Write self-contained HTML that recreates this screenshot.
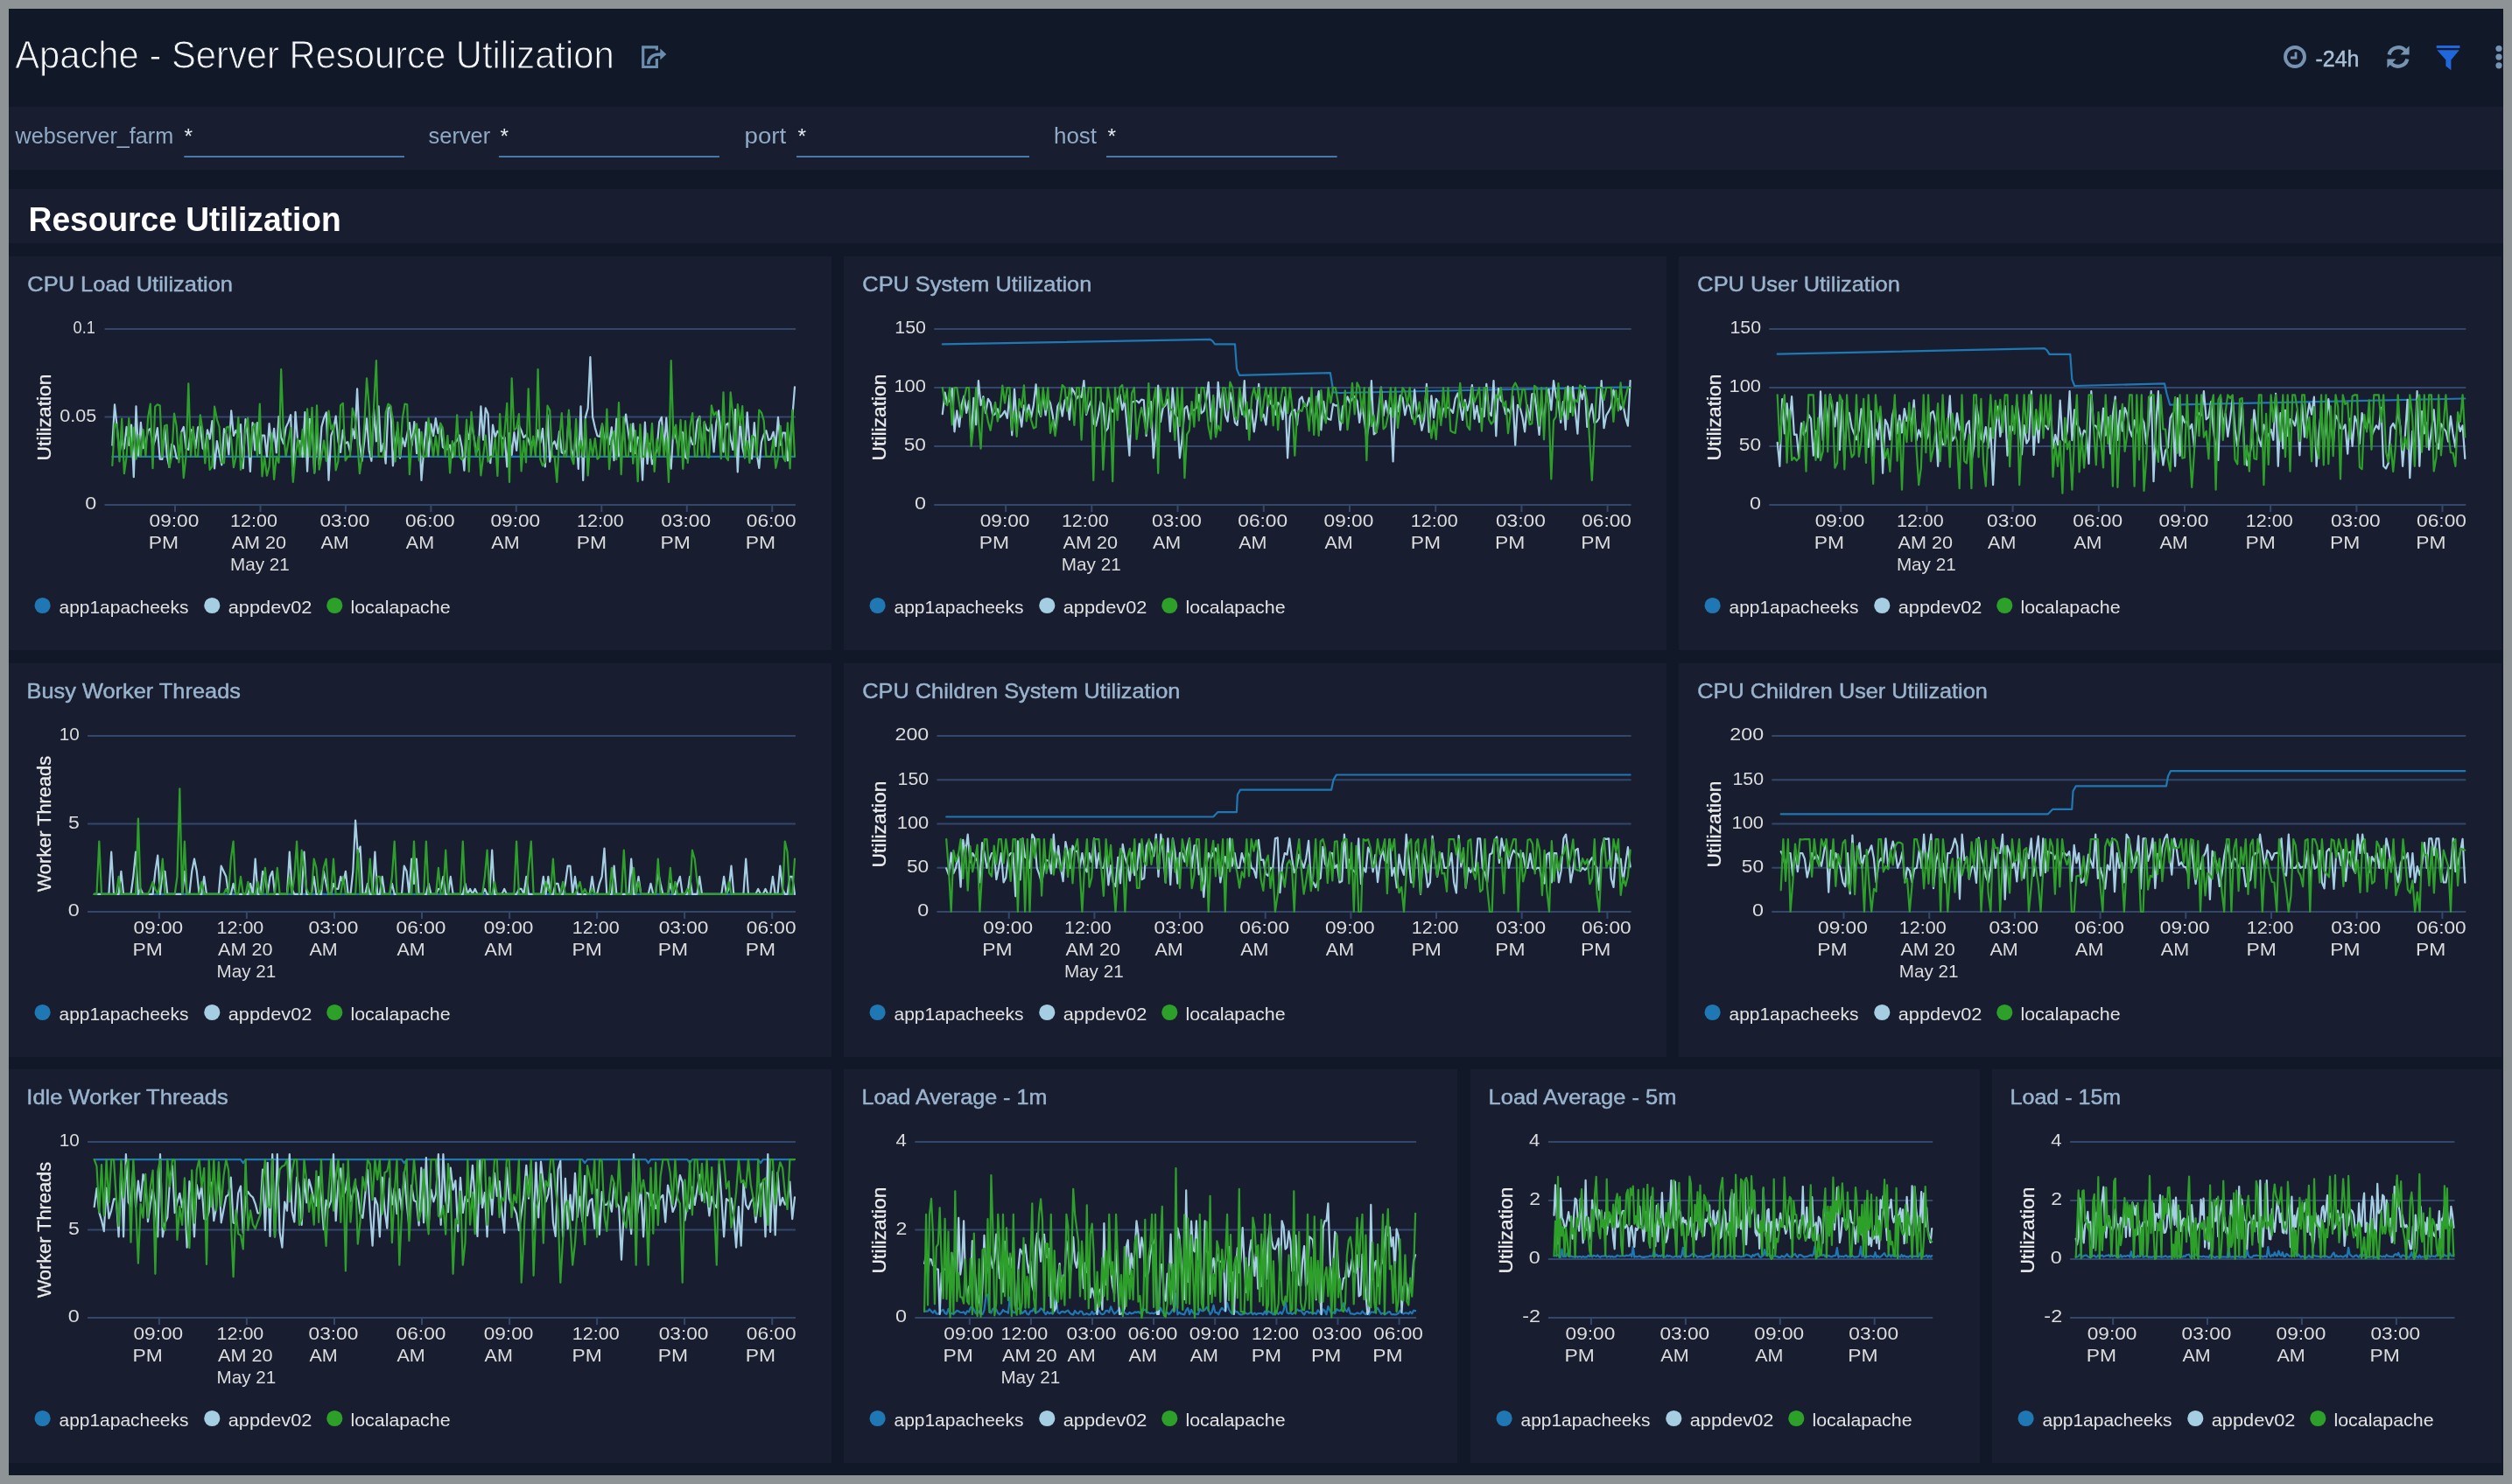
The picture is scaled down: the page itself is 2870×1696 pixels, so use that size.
<!DOCTYPE html>
<html lang="en">
<head>
<meta charset="utf-8">
<title>Apache - Server Resource Utilization</title>
<style>
*{box-sizing:border-box}
html,body{margin:0;padding:0}
body{width:2870px;height:1696px;background:#8e9496;overflow:hidden;font-family:"Liberation Sans",sans-serif;position:relative}
#app{position:absolute;left:10px;top:10px;width:2850px;height:1676px;background:#111827;overflow:hidden}
svg{display:block;overflow:visible;will-change:transform}
svg text{font-family:"Liberation Sans",sans-serif}
header{position:absolute;left:0;top:0;width:2850px;height:112px}
#filters{position:absolute;left:0;top:112px;width:2850px;height:72px;background:#181e30}
#section{position:absolute;left:0;top:206px;width:2850px;height:61.5px;background:#181e30}
.panel{position:absolute;background:#181e30}
.pt{font-size:24.5px;fill:#9ab4ce;stroke:#9ab4ce;stroke-width:.45px}
.tk{font-size:20.7px;fill:#dcdcdc}
.lg{font-size:21px;fill:#e2e2e2}
.yt{font-size:22px;fill:#ececec;stroke:#ececec;stroke-width:.3px}
.fl{font-size:25px;fill:#90aac6}
.fv{font-size:24.5px;fill:#e6ebf1}
</style>
</head>
<body>
<div id="app">
<header>
<svg width="2850" height="112" viewBox="10 10 2850 112">
<text id="ttl" x="17.2" y="78.2" font-size="44.5" fill="#f4f6f9" stroke="#111827" stroke-width="1" textLength="684.6" lengthAdjust="spacingAndGlyphs">Apache - Server Resource Utilization</text>
<g fill="none" stroke="#6b8eaf" stroke-width="3.2">
<path d="M750.4 57.5V53.8H734.7V76.5H750.4V67"/>
<path d="M740.8 73.5C740.8 65.5 746 62 755 62" stroke-width="3.6"/>
</g>
<path d="M754.3 55.6L761.3 62L754.3 68.4Z" fill="#6b8eaf"/>
<g fill="none" stroke="#7693b2" stroke-width="3.4">
<circle cx="2622" cy="65" r="11" stroke-width="3.9"/>
<path d="M2623 59.6V66H2617" stroke-width="2.8"/>
</g>
<text x="2645.5" y="76.2" font-size="25" fill="#a8bfd6" stroke="#a8bfd6" stroke-width=".5" textLength="50">-24h</text>
<g fill="none" stroke="#7693b2" stroke-width="4.2">
<path d="M2729.6 62.5A10.8 10.8 0 0 1 2748.5 58.2"/>
<path d="M2750.4 67.5A10.8 10.8 0 0 1 2731.5 71.8"/>
</g>
<path d="M2752.6 52.5V62.6H2742.5Z" fill="#7693b2"/>
<path d="M2727.4 77.5V67.4H2737.5Z" fill="#7693b2"/>
<path d="M2783.7 52H2810.4V55H2783.7Z M2784.4 57.2H2809.8L2800.4 68.4V80.2L2794.4 75.6V68.6Z" fill="#1e67dc"/>
<g fill="#7693b2"><circle cx="2855" cy="55.5" r="3.6"/><circle cx="2855" cy="65.1" r="3.6"/><circle cx="2855" cy="74.8" r="3.6"/></g>
</svg>
</header>
<div id="filters">
<svg width="2850" height="72" viewBox="10 122 2850 72">
<text class="fl" x="17.6" y="164" textLength="180.6" lengthAdjust="spacingAndGlyphs">webserver_farm</text>
<text class="fv" x="210.6" y="164.4">*</text>
<rect x="210.3" y="178" width="251.7" height="2" fill="#4878a6"/>
<text class="fl" x="489.6" y="164" textLength="70.6" lengthAdjust="spacingAndGlyphs">server</text>
<text class="fv" x="571.4" y="164.4">*</text>
<rect x="569.9" y="178" width="252" height="2" fill="#4878a6"/>
<text class="fl" x="850.6" y="164" textLength="47.6" lengthAdjust="spacingAndGlyphs">port</text>
<text class="fv" x="911.6" y="164.4">*</text>
<rect x="910" y="178" width="266" height="2" fill="#4878a6"/>
<text class="fl" x="1204" y="164" textLength="49" lengthAdjust="spacingAndGlyphs">host</text>
<text class="fv" x="1265.6" y="164.4">*</text>
<rect x="1264" y="178" width="263.6" height="2" fill="#4878a6"/>
</svg>
</div>
<div id="section">
<svg width="2850" height="62" viewBox="10 216 2850 62">
<text x="32.6" y="263.8" font-size="38" font-weight="bold" fill="#ffffff" textLength="357" lengthAdjust="spacingAndGlyphs">Resource Utilization</text>
</svg>
</div>
<section class="panel" style="left:0px;top:283px;width:940px;height:450px">
<svg width="940" height="450" viewBox="0 0 940 450">
<text class="pt" x="21.33" y="40.2" textLength="234.67" lengthAdjust="spacingAndGlyphs">CPU Load Utilization</text>
<line x1="109.5" x2="899" y1="83" y2="83" stroke="#33476a" stroke-width="2"/>
<text class="tk" x="73.57" y="88.3" textLength="25.35" lengthAdjust="spacingAndGlyphs">0.1</text>
<line x1="109.5" x2="899" y1="183.5" y2="183.5" stroke="#33476a" stroke-width="2"/>
<text class="tk" x="58.34" y="188.8" textLength="41.95" lengthAdjust="spacingAndGlyphs">0.05</text>
<line x1="109.5" x2="899" y1="284" y2="284" stroke="#33476a" stroke-width="2"/>
<text class="tk" x="87.27" y="289.3" textLength="12.98" lengthAdjust="spacingAndGlyphs">0</text>
<text class="yt" transform="translate(47.6 183.5) rotate(-90)" x="-49.91" y="0" textLength="98.79" lengthAdjust="spacingAndGlyphs">Utilization</text>
<line x1="190" x2="190" y1="284" y2="292" stroke="#33476a" stroke-width="2"/>
<text class="tk" x="160.59" y="308.6" textLength="56.76" lengthAdjust="spacingAndGlyphs">09:00</text>
<text class="tk" x="159.67" y="333.7" textLength="34.27" lengthAdjust="spacingAndGlyphs">PM</text>
<line x1="287.5" x2="287.5" y1="284" y2="292" stroke="#33476a" stroke-width="2"/>
<text class="tk" x="253.05" y="308.6" textLength="53.82" lengthAdjust="spacingAndGlyphs">12:00</text>
<text class="tk" x="254.66" y="333.7" textLength="62.46" lengthAdjust="spacingAndGlyphs">AM 20</text>
<text class="tk" x="253.01" y="358.8" textLength="67.77" lengthAdjust="spacingAndGlyphs">May 21</text>
<line x1="384.9" x2="384.9" y1="284" y2="292" stroke="#33476a" stroke-width="2"/>
<text class="tk" x="355.51" y="308.6" textLength="56.76" lengthAdjust="spacingAndGlyphs">03:00</text>
<text class="tk" x="356.42" y="333.7" textLength="32.23" lengthAdjust="spacingAndGlyphs">AM</text>
<line x1="482.4" x2="482.4" y1="284" y2="292" stroke="#33476a" stroke-width="2"/>
<text class="tk" x="452.97" y="308.6" textLength="56.76" lengthAdjust="spacingAndGlyphs">06:00</text>
<text class="tk" x="453.88" y="333.7" textLength="32.23" lengthAdjust="spacingAndGlyphs">AM</text>
<line x1="579.8" x2="579.8" y1="284" y2="292" stroke="#33476a" stroke-width="2"/>
<text class="tk" x="550.43" y="308.6" textLength="56.76" lengthAdjust="spacingAndGlyphs">09:00</text>
<text class="tk" x="551.34" y="333.7" textLength="32.23" lengthAdjust="spacingAndGlyphs">AM</text>
<line x1="677.3" x2="677.3" y1="284" y2="292" stroke="#33476a" stroke-width="2"/>
<text class="tk" x="648.99" y="308.6" textLength="53.82" lengthAdjust="spacingAndGlyphs">12:00</text>
<text class="tk" x="648.77" y="333.7" textLength="34.27" lengthAdjust="spacingAndGlyphs">PM</text>
<line x1="774.8" x2="774.8" y1="284" y2="292" stroke="#33476a" stroke-width="2"/>
<text class="tk" x="745.35" y="308.6" textLength="56.76" lengthAdjust="spacingAndGlyphs">03:00</text>
<text class="tk" x="744.43" y="333.7" textLength="34.27" lengthAdjust="spacingAndGlyphs">PM</text>
<line x1="872.2" x2="872.2" y1="284" y2="292" stroke="#33476a" stroke-width="2"/>
<text class="tk" x="842.81" y="308.6" textLength="56.76" lengthAdjust="spacingAndGlyphs">06:00</text>
<text class="tk" x="841.89" y="333.7" textLength="34.27" lengthAdjust="spacingAndGlyphs">PM</text>
<polyline fill="none" stroke="#1f78b4" stroke-width="2.2" stroke-linejoin="round" stroke-linecap="round" points="118.3,228.9 121,228.9 123.8,228.9 126.5,228.9 129.2,228.9 131.9,228.9 134.6,228.9 137.3,228.9 140.1,228.9 142.8,228.9 145.5,228.9 148.2,228.9 150.9,228.9 153.6,228.9 156.4,228.9 159.1,228.9 161.8,228.9 164.5,228.9 167.2,228.9 169.9,228.9 172.7,228.9 175.4,228.9 178.1,228.9 180.8,228.9 183.5,228.9 186.2,228.9 189,228.9 191.7,228.9 194.4,228.9 197.1,228.9 199.8,228.9 202.5,228.9 205.3,228.9 208,228.9 210.7,228.9 213.4,228.9 216.1,228.9 218.8,228.9 221.6,228.9 224.3,228.9 227,228.9 229.7,228.9 232.4,228.9 235.1,228.9 237.9,228.9 240.6,228.9 243.3,228.9 246,228.9 248.7,228.9 251.4,228.9 254.2,228.9 256.9,228.9 259.6,228.9 262.3,228.9 265,228.9 267.7,228.9 270.5,228.9 273.2,228.9 275.9,228.9 278.6,228.9 281.3,228.9 284,228.9 286.8,228.9 289.5,228.9 292.2,228.9 294.9,228.9 297.6,228.9 300.3,228.9 303.1,228.9 305.8,228.9 308.5,228.9 311.2,228.9 313.9,228.9 316.6,228.9 319.4,228.9 322.1,228.9 324.8,228.9 327.5,228.9 330.2,228.9 332.9,228.9 335.7,228.9 338.4,228.9 341.1,228.9 343.8,228.9 346.5,228.9 349.2,228.9 352,228.9 354.7,228.9 357.4,228.9 360.1,228.9 362.8,228.9 365.5,228.9 368.3,228.9 371,228.9 373.7,228.9 376.4,228.9 379.1,228.9 381.8,228.9 384.6,228.9 387.3,228.9 390,228.9 392.7,228.9 395.4,228.9 398.1,228.9 400.9,228.9 403.6,228.9 406.3,228.9 409,228.9 411.7,228.9 414.4,228.9 417.2,228.9 419.9,228.9 422.6,228.9 425.3,228.9 428,228.9 430.7,228.9 433.5,228.9 436.2,228.9 438.9,228.9 441.6,228.9 444.3,228.9 447,228.9 449.8,228.9 452.5,228.9 455.2,228.9 457.9,228.9 460.6,228.9 463.3,228.9 466.1,228.9 468.8,228.9 471.5,228.9 474.2,228.9 476.9,228.9 479.6,228.9 482.4,228.9 485.1,228.9 487.8,228.9 490.5,228.9 493.2,228.9 495.9,228.9 498.7,228.9 501.4,228.9 504.1,228.9 506.8,228.9 509.5,228.9 512.2,228.9 515,228.9 517.7,228.9 520.4,228.9 523.1,228.9 525.8,228.9 528.5,228.9 531.3,228.9 534,228.9 536.7,228.9 539.4,228.9 542.1,228.9 544.8,228.9 547.6,228.9 550.3,228.9 553,228.9 555.7,228.9 558.4,228.9 561.1,228.9 563.9,228.9 566.6,228.9 569.3,228.9 572,228.9 574.7,228.9 577.4,228.9 580.2,228.9 582.9,228.9 585.6,228.9 588.3,228.9 591,228.9 593.7,228.9 596.5,228.9 599.2,228.9 601.9,228.9 604.6,228.9 607.3,228.9 610,228.9 612.8,228.9 615.5,228.9 618.2,228.9 620.9,228.9 623.6,228.9 626.3,228.9 629.1,228.9 631.8,228.9 634.5,228.9 637.2,228.9 639.9,228.9 642.6,228.9 645.4,228.9 648.1,228.9 650.8,228.9 653.5,228.9 656.2,228.9 658.9,228.9 661.7,228.9 664.4,228.9 667.1,228.9 669.8,228.9 672.5,228.9 675.2,228.9 678,228.9 680.7,228.9 683.4,228.9 686.1,228.9 688.8,228.9 691.5,228.9 694.3,228.9 697,228.9 699.7,228.9 702.4,228.9 705.1,228.9 707.8,228.9 710.6,228.9 713.3,228.9 716,228.9 718.7,228.9 721.4,228.9 724.1,228.9 726.9,228.9 729.6,228.9 732.3,228.9 735,228.9 737.7,228.9 740.4,228.9 743.2,228.9 745.9,228.9 748.6,228.9 751.3,228.9 754,228.9 756.7,228.9 759.5,228.9 762.2,228.9 764.9,228.9 767.6,228.9 770.3,228.9 773,228.9 775.8,228.9 778.5,228.9 781.2,228.9 783.9,228.9 786.6,228.9 789.3,228.9 792.1,228.9 794.8,228.9 797.5,228.9 800.2,228.9 802.9,228.9 805.6,228.9 808.4,228.9 811.1,228.9 813.8,228.9 816.5,228.9 819.2,228.9 821.9,228.9 824.7,228.9 827.4,228.9 830.1,228.9 832.8,228.9 835.5,228.9 838.2,228.9 841,228.9 843.7,228.9 846.4,228.9 849.1,228.9 851.8,228.9 854.5,228.9 857.3,228.9 860,228.9 862.7,228.9 865.4,228.9 868.1,228.9 870.8,228.9 873.6,228.9 876.3,228.9 879,228.9 881.7,228.9 884.4,228.9 887.1,228.9 889.9,228.9 892.6,228.9 895.3,228.9 898,228.9"/>
<polyline fill="none" stroke="#a6cee3" stroke-width="2.2" stroke-linejoin="round" stroke-linecap="round" points="118.3,215.6 121,169.4 123.8,195.6 126.5,224.6 129.2,210.3 131.9,219.8 134.6,194.8 137.3,215.9 140.1,192.7 142.8,252.1 145.5,171.4 148.2,227.6 150.9,189.9 153.6,219.2 156.4,213.8 159.1,199 161.8,197 164.5,218 167.2,209.7 169.9,196 172.7,231.6 175.4,231.9 178.1,194 180.8,228.3 183.5,241 186.2,214.7 189,217.1 191.7,230.6 194.4,231.8 197.1,201.1 199.8,194.9 202.5,219.4 205.3,220.9 208,198.1 210.7,199.5 213.4,219.1 216.1,195.5 218.8,193.9 221.6,219.2 224.3,222.4 227,198.3 229.7,208.7 232.4,188.2 235.1,242.5 237.9,211.2 240.6,225.7 243.3,238.3 246,197.1 248.7,203.6 251.4,226.4 254.2,176.4 256.9,205 259.6,198.8 262.3,205.5 265,192.2 267.7,242.1 270.5,186.1 273.2,205.9 275.9,245.9 278.6,190.1 281.3,221.4 284,190.1 286.8,225.2 289.5,204.6 292.2,204.6 294.9,228.7 297.6,191.1 300.3,218.2 303.1,196.9 305.8,224.4 308.5,183 311.2,207 313.9,214.1 316.6,195.6 319.4,189.6 322.1,181.2 324.8,250.7 327.5,177.8 330.2,211.6 332.9,210.8 335.7,229.1 338.4,178 341.1,245.7 343.8,185.8 346.5,192.2 349.2,247.3 352,202.4 354.7,238 357.4,194.9 360.1,184.9 362.8,178.3 365.5,255.8 368.3,204.9 371,197.4 373.7,182.7 376.4,210.7 379.1,224 381.8,198.7 384.6,213.8 387.3,212.2 390,223.2 392.7,197.2 395.4,207.9 398.1,151.3 400.9,213.2 403.6,233.8 406.3,210.8 409,185.4 411.7,221.9 414.4,233.8 417.2,174.8 419.9,211.3 422.6,171.4 425.3,223.2 428,214 430.7,236.7 433.5,174 436.2,171.4 438.9,239.3 441.6,212 444.3,197 447,230.5 449.8,207.7 452.5,217.2 455.2,203.2 457.9,190.2 460.6,216 463.3,189.2 466.1,225.1 468.8,197.7 471.5,255.9 474.2,222 476.9,189.5 479.6,228.3 482.4,191.6 485.1,205.2 487.8,185 490.5,202.2 493.2,192.1 495.9,218 498.7,220.5 501.4,220.3 504.1,215.6 506.8,229.9 509.5,213.4 512.2,210.2 515,204.5 517.7,218.1 520.4,244.7 523.1,198.8 525.8,209 528.5,188.4 531.3,205.6 534,223.8 536.7,219 539.4,171.4 542.1,209.7 544.8,173.4 547.6,180.2 550.3,236.1 553,192.7 555.7,206.5 558.4,199.7 561.1,202.4 563.9,208.2 566.6,206.7 569.3,240.4 572,202.1 574.7,227 577.4,201 580.2,221.9 582.9,193.1 585.6,199.2 588.3,207.2 591,204.2 593.7,209.7 596.5,218.5 599.2,209.8 601.9,219.4 604.6,198.5 607.3,213.2 610,196.9 612.8,240.4 615.5,181.3 618.2,234.6 620.9,215.4 623.6,211.5 626.3,220.1 629.1,200.2 631.8,224.3 634.5,225.6 637.2,220.7 639.9,179.8 642.6,219.2 645.4,229.4 648.1,202.6 650.8,242.9 653.5,171.4 656.2,255.9 658.9,183.9 661.7,173.5 664.4,115.2 667.1,183.5 669.8,195.6 672.5,205.3 675.2,206 678,192.1 680.7,212.6 683.4,201.9 686.1,214.8 688.8,195.3 691.5,233.2 694.3,185.7 697,228 699.7,224.8 702.4,197.1 705.1,180.5 707.8,200.8 710.6,222.9 713.3,191.2 716,225.1 718.7,206.7 721.4,208.9 724.1,255.7 726.9,189.7 729.6,237 732.3,213.9 735,237.3 737.7,229.9 740.4,221.2 743.2,189.3 745.9,183.8 748.6,219.2 751.3,184.7 754,223.6 756.7,242.6 759.5,195.1 762.2,205.9 764.9,219.4 767.6,200.2 770.3,201.6 773,229.5 775.8,231.9 778.5,206.2 781.2,215 783.9,214.7 786.6,188.3 789.3,183 792.1,227.2 794.8,189.7 797.5,198 800.2,199.6 802.9,192.4 805.6,223.3 808.4,190.2 811.1,176.4 813.8,205.4 816.5,223.4 819.2,192.8 821.9,190.6 824.7,209 827.4,221 830.1,175.1 832.8,246.4 835.5,186.8 838.2,217.9 841,230.3 843.7,178.3 846.4,213.7 849.1,231.3 851.8,190.2 854.5,225 857.3,241.9 860,212 862.7,203.6 865.4,199.2 868.1,210 870.8,208.6 873.6,200.7 876.3,216.9 879,183.8 881.7,215.7 884.4,201.7 887.1,201.7 889.9,233.3 892.6,215.4 895.3,183.5 898,149.3"/>
<polyline fill="none" stroke="#2da02a" stroke-width="2.2" stroke-linejoin="round" stroke-linecap="round" points="118.3,239 121,191.3 123.8,192.7 126.5,234.5 129.2,185.5 131.9,248.2 134.6,228.9 137.3,185.2 140.1,228.9 142.8,195.5 145.5,231.6 148.2,204.3 150.9,228.9 153.6,198.2 156.4,228.9 159.1,184 161.8,168.6 164.5,242.1 167.2,171.7 169.9,169.3 172.7,170.4 175.4,228.9 178.1,193.8 180.8,192.6 183.5,240.9 186.2,228.9 189,179.5 191.7,194.1 194.4,235.5 197.1,201.4 199.8,253.2 202.5,228.9 205.3,145.3 208,228.9 210.7,194.9 213.4,228.9 216.1,228.9 218.8,181.4 221.6,199.2 224.3,236.5 227,204.6 229.7,243.9 232.4,240.2 235.1,171.7 237.9,186.2 240.6,195 243.3,235.5 246,236.3 248.7,195.6 251.4,194.6 254.2,208.6 256.9,241.2 259.6,228.9 262.3,183.8 265,243.8 267.7,228.9 270.5,197.9 273.2,184.7 275.9,228.9 278.6,195.6 281.3,191.5 284,228.9 286.8,168.7 289.5,251.3 292.2,228.9 294.9,250.7 297.6,240.3 300.3,202.3 303.1,254.8 305.8,228.9 308.5,235.8 311.2,129.2 313.9,202.3 316.6,228.9 319.4,212 322.1,196.2 324.8,257.9 327.5,228.9 330.2,208.3 332.9,228.9 335.7,197.8 338.4,228.9 341.1,174.4 343.8,228.9 346.5,172.8 349.2,247.7 352,170.3 354.7,243.6 357.4,228.9 360.1,210.7 362.8,233.8 365.5,176.5 368.3,197.5 371,192.1 373.7,244.4 376.4,234.3 379.1,170.2 381.8,167.8 384.6,233.3 387.3,228.9 390,228.9 392.7,173.7 395.4,184.2 398.1,208.8 400.9,248.1 403.6,228.9 406.3,192.1 409,139.3 411.7,172.1 414.4,228.9 417.2,169.6 419.9,119.2 422.6,228.9 425.3,228.9 428,228.9 430.7,178.5 433.5,168.5 436.2,170.6 438.9,187.3 441.6,234.5 444.3,189.7 447,228.9 449.8,185.3 452.5,168.6 455.2,169.3 457.9,249.2 460.6,210 463.3,203.5 466.1,191.4 468.8,233.3 471.5,200.8 474.2,228.9 476.9,228.9 479.6,184.8 482.4,207.5 485.1,228.9 487.8,205.3 490.5,228.9 493.2,190.7 495.9,196 498.7,228.9 501.4,204.9 504.1,247.5 506.8,211.2 509.5,228.9 512.2,181.3 515,228.9 517.7,232.4 520.4,228.9 523.1,186.7 525.8,245.9 528.5,177.8 531.3,206.7 534,228.9 536.7,205.6 539.4,250.3 542.1,228.9 544.8,204.7 547.6,234.6 550.3,228.9 553,228.9 555.7,207.7 558.4,251 561.1,180 563.9,228.9 566.6,199.8 569.3,167.9 572,257.9 574.7,139.3 577.4,198.7 580.2,196 582.9,180.1 585.6,245.4 588.3,210.5 591,235.5 593.7,151.3 596.5,228.9 599.2,205.5 601.9,228.9 604.6,129.2 607.3,231.8 610,239.3 612.8,234.8 615.5,170.7 618.2,175.9 620.9,228.9 623.6,228.9 626.3,257.9 629.1,209.3 631.8,179.2 634.5,228.9 637.2,228.9 639.9,175.6 642.6,228.9 645.4,237.3 648.1,185.9 650.8,228.9 653.5,210.8 656.2,228.9 658.9,186 661.7,250.5 664.4,209.2 667.1,228.9 669.8,208 672.5,231.6 675.2,228.9 678,191.1 680.7,228.9 683.4,174.7 686.1,243.2 688.8,210.5 691.5,200 694.3,232.2 697,167 699.7,249.1 702.4,183.8 705.1,228.9 707.8,228.9 710.6,191.9 713.3,236.6 716,199.1 718.7,257.1 721.4,192.1 724.1,228.9 726.9,228.9 729.6,202.6 732.3,228.9 735,190.9 737.7,246 740.4,208.6 743.2,228.9 745.9,193.7 748.6,228.9 751.3,207.8 754,257.9 756.7,119.2 759.5,208.6 762.2,192.7 764.9,228.9 767.6,186.8 770.3,242.8 773,188 775.8,236 778.5,194 781.2,179.1 783.9,228.9 786.6,228.9 789.3,183.7 792.1,228.9 794.8,188.8 797.5,228.9 800.2,229.7 802.9,170.4 805.6,181.5 808.4,177.9 811.1,193.1 813.8,231.1 816.5,155.4 819.2,228.9 821.9,233 824.7,155.4 827.4,181.8 830.1,228.9 832.8,169.2 835.5,193 838.2,171.1 841,230.3 843.7,210.8 846.4,235.9 849.1,205 851.8,206.9 854.5,228.9 857.3,175.5 860,178.6 862.7,187.7 865.4,228.9 868.1,228.9 870.8,228.9 873.6,208.2 876.3,241.8 879,228.9 881.7,193.9 884.4,228.9 887.1,234.1 889.9,190.3 892.6,242.5 895.3,175.5 898,228.9"/>
<circle cx="38.6" cy="399" r="9.1" fill="#1f78b4"/>
<text class="lg" x="57.56" y="408.3" textLength="147.81" lengthAdjust="spacingAndGlyphs">app1apacheeks</text>
<circle cx="232.3" cy="399" r="9.1" fill="#a6cee3"/>
<text class="lg" x="250.73" y="408.3" textLength="95.63" lengthAdjust="spacingAndGlyphs">appdev02</text>
<circle cx="372.3" cy="399" r="9.1" fill="#2da02a"/>
<text class="lg" x="390.41" y="408.3" textLength="114.2" lengthAdjust="spacingAndGlyphs">localapache</text>
</svg></section>
<section class="panel" style="left:953.5px;top:283px;width:940px;height:450px">
<svg width="940" height="450" viewBox="0 0 940 450">
<text class="pt" x="21.33" y="40.2" textLength="261.94" lengthAdjust="spacingAndGlyphs">CPU System Utilization</text>
<line x1="103.2" x2="899.6" y1="83" y2="83" stroke="#33476a" stroke-width="2"/>
<text class="tk" x="58.3" y="88.3" textLength="35.62" lengthAdjust="spacingAndGlyphs">150</text>
<line x1="103.2" x2="899.6" y1="150" y2="150" stroke="#33476a" stroke-width="2"/>
<text class="tk" x="57.46" y="155.3" textLength="36.48" lengthAdjust="spacingAndGlyphs">100</text>
<line x1="103.2" x2="899.6" y1="217" y2="217" stroke="#33476a" stroke-width="2"/>
<text class="tk" x="68.69" y="222.3" textLength="25.26" lengthAdjust="spacingAndGlyphs">50</text>
<line x1="103.2" x2="899.6" y1="284" y2="284" stroke="#33476a" stroke-width="2"/>
<text class="tk" x="80.97" y="289.3" textLength="12.98" lengthAdjust="spacingAndGlyphs">0</text>
<text class="yt" transform="translate(47.6 183.5) rotate(-90)" x="-49.91" y="0" textLength="98.79" lengthAdjust="spacingAndGlyphs">Utilization</text>
<line x1="185.1" x2="185.1" y1="284" y2="292" stroke="#33476a" stroke-width="2"/>
<text class="tk" x="155.69" y="308.6" textLength="56.76" lengthAdjust="spacingAndGlyphs">09:00</text>
<text class="tk" x="154.77" y="333.7" textLength="34.27" lengthAdjust="spacingAndGlyphs">PM</text>
<line x1="283.3" x2="283.3" y1="284" y2="292" stroke="#33476a" stroke-width="2"/>
<text class="tk" x="248.91" y="308.6" textLength="53.82" lengthAdjust="spacingAndGlyphs">12:00</text>
<text class="tk" x="250.52" y="333.7" textLength="62.46" lengthAdjust="spacingAndGlyphs">AM 20</text>
<text class="tk" x="248.87" y="358.8" textLength="67.77" lengthAdjust="spacingAndGlyphs">May 21</text>
<line x1="381.5" x2="381.5" y1="284" y2="292" stroke="#33476a" stroke-width="2"/>
<text class="tk" x="352.13" y="308.6" textLength="56.76" lengthAdjust="spacingAndGlyphs">03:00</text>
<text class="tk" x="353.04" y="333.7" textLength="32.23" lengthAdjust="spacingAndGlyphs">AM</text>
<line x1="479.8" x2="479.8" y1="284" y2="292" stroke="#33476a" stroke-width="2"/>
<text class="tk" x="450.35" y="308.6" textLength="56.76" lengthAdjust="spacingAndGlyphs">06:00</text>
<text class="tk" x="451.26" y="333.7" textLength="32.23" lengthAdjust="spacingAndGlyphs">AM</text>
<line x1="578" x2="578" y1="284" y2="292" stroke="#33476a" stroke-width="2"/>
<text class="tk" x="548.57" y="308.6" textLength="56.76" lengthAdjust="spacingAndGlyphs">09:00</text>
<text class="tk" x="549.48" y="333.7" textLength="32.23" lengthAdjust="spacingAndGlyphs">AM</text>
<line x1="676.2" x2="676.2" y1="284" y2="292" stroke="#33476a" stroke-width="2"/>
<text class="tk" x="647.89" y="308.6" textLength="53.82" lengthAdjust="spacingAndGlyphs">12:00</text>
<text class="tk" x="647.67" y="333.7" textLength="34.27" lengthAdjust="spacingAndGlyphs">PM</text>
<line x1="774.4" x2="774.4" y1="284" y2="292" stroke="#33476a" stroke-width="2"/>
<text class="tk" x="745.01" y="308.6" textLength="56.76" lengthAdjust="spacingAndGlyphs">03:00</text>
<text class="tk" x="744.09" y="333.7" textLength="34.27" lengthAdjust="spacingAndGlyphs">PM</text>
<line x1="872.6" x2="872.6" y1="284" y2="292" stroke="#33476a" stroke-width="2"/>
<text class="tk" x="843.23" y="308.6" textLength="56.76" lengthAdjust="spacingAndGlyphs">06:00</text>
<text class="tk" x="842.31" y="333.7" textLength="34.27" lengthAdjust="spacingAndGlyphs">PM</text>
<polyline fill="none" stroke="#1f78b4" stroke-width="2.2" stroke-linejoin="round" stroke-linecap="round" points="112.8,100.4 418.3,94.8 421,96.4 424.1,100.4 447,100.4 449,128.6 452,135.9 555.9,133.2 559.5,155.4 566.5,156 898.6,149.3"/>
<polyline fill="none" stroke="#a6cee3" stroke-width="2.2" stroke-linejoin="round" stroke-linecap="round" points="112.8,180.1 115.6,155.6 118.3,167.8 121.1,164.4 123.8,151.2 126.5,200.3 129.3,176.3 132,194.6 134.7,169.7 137.5,159.5 140.2,178.9 143,164.8 145.7,207.5 148.4,161.8 151.2,192.3 153.9,142 156.6,170.1 159.4,160.2 162.1,179.2 164.9,162.8 167.6,167 170.3,181.8 173.1,179.8 175.8,174.3 178.5,183.8 181.3,180.7 184,176.7 186.8,185 189.5,158.6 192.2,204.3 195,151.9 197.7,190.8 200.5,177.8 203.2,194.6 205.9,170.3 208.7,179.2 211.4,169.5 214.1,184 216.9,169.7 219.6,146.4 222.4,175.9 225.1,182.8 227.8,156.3 230.6,181.5 233.3,162.4 236,167.8 238.8,182.3 241.5,202.5 244.3,171.2 247,166.2 249.7,182.6 252.5,164.6 255.2,161.3 257.9,186.7 260.7,150.7 263.4,155.2 266.2,162.5 268.9,159 271.6,161.1 274.4,142 277.1,180.8 279.8,172.1 282.6,165.1 285.3,191.3 288.1,193.8 290.8,182.3 293.5,165.7 296.3,169.1 299,200.2 301.8,196.4 304.5,172.5 307.2,177.6 310,173.9 312.7,163.5 315.4,157.7 318.2,175.4 320.9,164 323.7,194.7 326.4,227.7 329.1,166.6 331.9,165.8 334.6,165 337.3,167.4 340.1,163.6 342.8,164.3 345.6,205.1 348.3,176.6 351,166.1 353.8,230.4 356.5,200.4 359.2,147.5 362,189.1 364.7,173.3 367.5,170 370.2,163.4 372.9,200.2 375.7,150.5 378.4,180 381.1,184.7 383.9,230.4 386.6,208.7 389.4,174.1 392.1,171.2 394.8,186.3 397.6,175.7 400.3,176 403.1,172.8 405.8,158.2 408.5,179.3 411.3,176.7 414,164.7 416.7,143.8 419.5,188.7 422.2,161.5 425,203.1 427.7,143.9 430.4,172.6 433.2,153.3 435.9,181.3 438.6,188.6 441.4,155.6 444.1,167.6 446.9,189.9 449.6,192.9 452.3,161.3 455.1,180.7 457.8,142 460.5,197 463.3,175.7 466,175.4 468.8,200.3 471.5,180.5 474.2,145.9 477,184.7 479.7,180.7 482.4,192.5 485.2,159.3 487.9,168 490.7,171.8 493.4,181 496.1,167.2 498.9,170.1 501.6,186.2 504.4,160.6 507.1,230.4 509.8,183.4 512.6,176.2 515.3,175.2 518,192.4 520.8,163.4 523.5,160.5 526.3,171 529,171.5 531.7,161.7 534.5,171.4 537.2,193.2 539.9,171.6 542.7,154.2 545.4,198.3 548.2,165.9 550.9,182.8 553.6,185.9 556.4,186.8 559.1,168.7 561.8,170.7 564.6,170.2 567.3,198.4 570.1,171.4 572.8,169.4 575.5,160.4 578.3,167.5 581,162.8 583.7,160 586.5,165.2 589.2,189.8 592,168.5 594.7,187.2 597.4,208.2 600.2,190.7 602.9,142 605.7,203.5 608.4,201.1 611.1,175.4 613.9,149.5 616.6,182.2 619.3,165.2 622.1,181.1 624.8,173.3 627.6,234.4 630.3,167.4 633,177.5 635.8,158.9 638.5,161.5 641.2,181.4 644,167.6 646.7,172 649.5,185.4 652.2,152.3 654.9,183.3 657.7,181.3 660.4,198.8 663.1,186.9 665.9,145.9 668.6,200.8 671.4,159.3 674.1,184.4 676.8,162.9 679.6,167.9 682.3,188.4 685,174.5 687.8,172.4 690.5,172.8 693.3,175 696,178.9 698.7,162.6 701.5,156.5 704.2,170.8 707,187 709.7,163.9 712.4,176.2 715.2,166.1 717.9,147 720.6,185.7 723.4,170.8 726.1,189.3 728.9,174.2 731.6,183.2 734.3,145.8 737.1,177.7 739.8,182.2 742.5,142 745.3,205.3 748,151 750.8,164.8 753.5,167.7 756.2,180.2 759,174.4 761.7,179.5 764.4,159.9 767.2,215.6 769.9,169.8 772.7,173 775.4,183.8 778.1,200.3 780.9,170.2 783.6,187.4 786.3,157.4 789.1,156.8 791.8,178.2 794.6,203.8 797.3,168.4 800,190.6 802.8,158.3 805.5,151.8 808.3,175.7 811,142 813.7,159.8 816.5,167.3 819.2,189.9 821.9,166 824.7,197.9 827.4,148.6 830.2,178 832.9,149 835.6,174.9 838.4,202.7 841.1,153 843.8,163.3 846.6,148.5 849.3,195 852.1,180.2 854.8,168.9 857.5,190.2 860.3,189 863,184.9 865.7,142 868.5,196.2 871.2,181.7 874,177.1 876.7,171.4 879.4,152.6 882.2,163.8 884.9,163 887.6,175.1 890.4,169.7 893.1,184 895.9,193.6 898.6,142"/>
<polyline fill="none" stroke="#2da02a" stroke-width="2.2" stroke-linejoin="round" stroke-linecap="round" points="112.8,150 115.6,167.5 118.3,170.3 121.1,150 123.8,192.5 126.5,150 129.3,150 132,168.2 134.7,183.6 137.5,163.1 140.2,150 143,150 145.7,217 148.4,193 151.2,150 153.9,187.2 156.6,219.7 159.4,162.1 162.1,174 164.9,188.9 167.6,198.8 170.3,181.6 173.1,166.8 175.8,188.5 178.5,176.6 181.3,147.7 184,167.7 186.8,150 189.5,150 192.2,198.7 195,177.1 197.7,205.8 200.5,163.2 203.2,172.5 205.9,147.4 208.7,188.5 211.4,176.3 214.1,187.3 216.9,196.5 219.6,195.1 222.4,150 225.1,182 227.8,150 230.6,175.1 233.3,150 236,201.9 238.8,187.2 241.5,205.1 244.3,186.3 247,166.6 249.7,147 252.5,150 255.2,176.6 257.9,150 260.7,163.6 263.4,192.9 266.2,150 268.9,150 271.6,209.6 274.4,150 277.1,179.7 279.8,150 282.6,150 285.3,255.9 288.1,150 290.8,150 293.5,150 296.3,243.8 299,196.1 301.8,150 304.5,167.3 307.2,257.2 310,150 312.7,187.2 315.4,150 318.2,147.1 320.9,166.7 323.7,151.2 326.4,203.2 329.1,156.4 331.9,150 334.6,208.9 337.3,186.6 340.1,172.9 342.8,184.1 345.6,202.7 348.3,145.2 351,196 353.8,165.4 356.5,150 359.2,247.8 362,151.7 364.7,172.1 367.5,167.9 370.2,150 372.9,174.1 375.7,176 378.4,210 381.1,150 383.9,194 386.6,150 389.4,253.2 392.1,203.6 394.8,198.9 397.6,166 400.3,194.7 403.1,150 405.8,187.6 408.5,150 411.3,150 414,167 416.7,195 419.5,208.6 422.2,158.9 425,206.4 427.7,193.5 430.4,199.1 433.2,150 435.9,150.5 438.6,176.5 441.4,143.7 444.1,150 446.9,183 449.6,186.5 452.3,150 455.1,171.5 457.8,183.3 460.5,166.8 463.3,209.7 466,161.8 468.8,150 471.5,163.2 474.2,150 477,187.6 479.7,166.3 482.4,150 485.2,171.1 487.9,150 490.7,193.3 493.4,150 496.1,198.5 498.9,165.9 501.6,150 504.4,150 507.1,179.2 509.8,150 512.6,174.7 515.3,227.7 518,179.7 520.8,175.8 523.5,176.9 526.3,167.2 529,174 531.7,199.5 534.5,150 537.2,203.9 539.9,160.2 542.7,205 545.4,152.9 548.2,181.4 550.9,190.5 553.6,150 556.4,167.5 559.1,150 561.8,150 564.6,166.3 567.3,186.9 570.1,190.5 572.8,153.4 575.5,198.2 578.3,174.4 581,144.8 583.7,180.3 586.5,144.4 589.2,150 592,178 594.7,150 597.4,233.1 600.2,150.1 602.9,194.1 605.7,181.5 608.4,201.4 611.1,189.3 613.9,150 616.6,197.3 619.3,194.4 622.1,180.8 624.8,150 627.6,183.6 630.3,150 633,196 635.8,171.1 638.5,150 641.2,154.1 644,169.4 646.7,150 649.5,179.4 652.2,192 654.9,179.6 657.7,166.6 660.4,187.7 663.1,176.7 665.9,150 668.6,182.9 671.4,207.6 674.1,188.1 676.8,209.2 679.6,166.1 682.3,192.9 685,150 687.8,183.9 690.5,150 693.3,199.4 696,201 698.7,201.9 701.5,177.5 704.2,144.9 707,172 709.7,167 712.4,193.8 715.2,198.1 717.9,150 720.6,166.5 723.4,159.3 726.1,150 728.9,199.6 731.6,150 734.3,150 737.1,186.2 739.8,191.6 742.5,188.2 745.3,158.6 748,161.4 750.8,150 753.5,171.5 756.2,165.6 759,202.1 761.7,180.6 764.4,150 767.2,144.6 769.9,150 772.7,172.6 775.4,152 778.1,152.2 780.9,175.8 783.6,192.1 786.3,191.2 789.1,147.8 791.8,150 794.6,193.6 797.3,150 800,209.3 802.8,150 805.5,172.9 808.3,254.5 811,187.7 813.7,183.4 816.5,145.2 819.2,186.1 821.9,175.9 824.7,150 827.4,185.8 830.2,150 832.9,181.9 835.6,163.8 838.4,166.4 841.1,147.4 843.8,150 846.6,150 849.3,164.5 852.1,208.8 854.8,255.9 857.5,204.5 860.3,150 863,150 865.7,150 868.5,164.2 871.2,150 874,150 876.7,150 879.4,189 882.2,153 884.9,176.5 887.6,144.3 890.4,173.8 893.1,160.7 895.9,150 898.6,150"/>
<circle cx="38.6" cy="399" r="9.1" fill="#1f78b4"/>
<text class="lg" x="57.56" y="408.3" textLength="147.81" lengthAdjust="spacingAndGlyphs">app1apacheeks</text>
<circle cx="232.3" cy="399" r="9.1" fill="#a6cee3"/>
<text class="lg" x="250.73" y="408.3" textLength="95.63" lengthAdjust="spacingAndGlyphs">appdev02</text>
<circle cx="372.3" cy="399" r="9.1" fill="#2da02a"/>
<text class="lg" x="390.41" y="408.3" textLength="114.2" lengthAdjust="spacingAndGlyphs">localapache</text>
</svg></section>
<section class="panel" style="left:1907.5px;top:283px;width:940px;height:450px">
<svg width="940" height="450" viewBox="0 0 940 450">
<text class="pt" x="21.33" y="40.2" textLength="231.51" lengthAdjust="spacingAndGlyphs">CPU User Utilization</text>
<line x1="103.3" x2="899.3" y1="83" y2="83" stroke="#33476a" stroke-width="2"/>
<text class="tk" x="58.4" y="88.3" textLength="35.62" lengthAdjust="spacingAndGlyphs">150</text>
<line x1="103.3" x2="899.3" y1="150" y2="150" stroke="#33476a" stroke-width="2"/>
<text class="tk" x="57.56" y="155.3" textLength="36.48" lengthAdjust="spacingAndGlyphs">100</text>
<line x1="103.3" x2="899.3" y1="217" y2="217" stroke="#33476a" stroke-width="2"/>
<text class="tk" x="68.79" y="222.3" textLength="25.26" lengthAdjust="spacingAndGlyphs">50</text>
<line x1="103.3" x2="899.3" y1="284" y2="284" stroke="#33476a" stroke-width="2"/>
<text class="tk" x="81.07" y="289.3" textLength="12.98" lengthAdjust="spacingAndGlyphs">0</text>
<text class="yt" transform="translate(47.6 183.5) rotate(-90)" x="-49.91" y="0" textLength="98.79" lengthAdjust="spacingAndGlyphs">Utilization</text>
<line x1="185.2" x2="185.2" y1="284" y2="292" stroke="#33476a" stroke-width="2"/>
<text class="tk" x="155.74" y="308.6" textLength="56.76" lengthAdjust="spacingAndGlyphs">09:00</text>
<text class="tk" x="154.82" y="333.7" textLength="34.27" lengthAdjust="spacingAndGlyphs">PM</text>
<line x1="283.4" x2="283.4" y1="284" y2="292" stroke="#33476a" stroke-width="2"/>
<text class="tk" x="248.94" y="308.6" textLength="53.82" lengthAdjust="spacingAndGlyphs">12:00</text>
<text class="tk" x="250.55" y="333.7" textLength="62.46" lengthAdjust="spacingAndGlyphs">AM 20</text>
<text class="tk" x="248.9" y="358.8" textLength="67.77" lengthAdjust="spacingAndGlyphs">May 21</text>
<line x1="381.6" x2="381.6" y1="284" y2="292" stroke="#33476a" stroke-width="2"/>
<text class="tk" x="352.14" y="308.6" textLength="56.76" lengthAdjust="spacingAndGlyphs">03:00</text>
<text class="tk" x="353.05" y="333.7" textLength="32.23" lengthAdjust="spacingAndGlyphs">AM</text>
<line x1="479.8" x2="479.8" y1="284" y2="292" stroke="#33476a" stroke-width="2"/>
<text class="tk" x="450.34" y="308.6" textLength="56.76" lengthAdjust="spacingAndGlyphs">06:00</text>
<text class="tk" x="451.25" y="333.7" textLength="32.23" lengthAdjust="spacingAndGlyphs">AM</text>
<line x1="578" x2="578" y1="284" y2="292" stroke="#33476a" stroke-width="2"/>
<text class="tk" x="548.54" y="308.6" textLength="56.76" lengthAdjust="spacingAndGlyphs">09:00</text>
<text class="tk" x="549.45" y="333.7" textLength="32.23" lengthAdjust="spacingAndGlyphs">AM</text>
<line x1="676.1" x2="676.1" y1="284" y2="292" stroke="#33476a" stroke-width="2"/>
<text class="tk" x="647.84" y="308.6" textLength="53.82" lengthAdjust="spacingAndGlyphs">12:00</text>
<text class="tk" x="647.62" y="333.7" textLength="34.27" lengthAdjust="spacingAndGlyphs">PM</text>
<line x1="774.4" x2="774.4" y1="284" y2="292" stroke="#33476a" stroke-width="2"/>
<text class="tk" x="744.94" y="308.6" textLength="56.76" lengthAdjust="spacingAndGlyphs">03:00</text>
<text class="tk" x="744.02" y="333.7" textLength="34.27" lengthAdjust="spacingAndGlyphs">PM</text>
<line x1="872.5" x2="872.5" y1="284" y2="292" stroke="#33476a" stroke-width="2"/>
<text class="tk" x="843.14" y="308.6" textLength="56.76" lengthAdjust="spacingAndGlyphs">06:00</text>
<text class="tk" x="842.22" y="333.7" textLength="34.27" lengthAdjust="spacingAndGlyphs">PM</text>
<polyline fill="none" stroke="#1f78b4" stroke-width="2.2" stroke-linejoin="round" stroke-linecap="round" points="112.7,111.7 417.8,105.2 420.5,107.1 423.5,111.8 447.3,111.8 449.3,140.6 452.2,148 555,145.3 557.5,156.7 561.2,169.7 898.3,162.5"/>
<polyline fill="none" stroke="#a6cee3" stroke-width="2.2" stroke-linejoin="round" stroke-linecap="round" points="112.7,212.8 115.4,239.8 118.2,163 120.9,202.3 123.6,168.2 126.4,194.9 129.1,160.2 131.9,203.8 134.6,203.5 137.3,230.4 140.1,190.5 142.8,203.8 145.5,198.3 148.3,180.9 151,185.5 153.8,227.7 156.5,199.7 159.2,229.7 162,154.3 164.7,210.2 167.4,165.9 170.2,194.9 172.9,157.9 175.7,175.1 178.4,194.5 181.1,167 183.9,221.2 186.6,164.7 189.3,232.1 192.1,179.7 194.8,178.8 197.6,195.4 200.3,202.7 203,209.4 205.8,198.8 208.5,174.3 211.2,183.5 214,203.7 216.7,217.8 219.5,176.9 222.2,228.4 224.9,197.7 227.7,209.3 230.4,177.7 233.1,247.8 235.9,186.6 238.6,192.5 241.4,209.5 244.1,181.6 246.8,171.5 249.6,202.3 252.3,181.5 255,201.5 257.8,174.1 260.5,188 263.3,180.4 266,192.6 268.7,164.4 271.5,210.4 274.2,198.4 276.9,206.4 279.7,181 282.4,211.3 285.1,204.2 287.9,179.3 290.6,177 293.4,189 296.1,239.8 298.8,200.7 301.6,215.2 304.3,214.2 307,198.8 309.8,159.4 312.5,210.6 315.3,206.1 318,179.3 320.7,198.3 323.5,192.5 326.2,209.7 328.9,192.1 331.7,188 334.4,234.7 337.2,217.1 339.9,169.1 342.6,185.8 345.4,207.9 348.1,212.3 350.8,195 353.6,218.9 356.3,196.3 359.1,261.2 361.8,201.1 364.5,171.5 367.3,205.9 370,185.8 372.7,171 375.5,227.7 378.2,194.3 381,198.9 383.7,189.2 386.4,166.9 389.2,189.4 391.9,226.3 394.6,193.2 397.4,213.6 400.1,208.9 402.9,154 405.6,226.9 408.3,183.1 411.1,212.6 413.8,174.5 416.5,193.9 419.3,193.5 422,197.6 424.8,172.9 427.5,219.4 430.2,203.8 433,215.2 435.7,164.7 438.4,209 441.2,212.4 443.9,199.5 446.6,154 449.4,210.1 452.1,175.4 454.9,191.5 457.6,196.8 460.3,208.7 463.1,198.8 465.8,201.7 468.5,237 471.3,154 474,192.8 476.8,194 479.5,199.9 482.2,209.8 485,173.5 487.7,204.7 490.4,183.9 493.2,225.5 495.9,180.7 498.7,160.3 501.4,210 504.1,176.4 506.9,199.7 509.6,173 512.3,180.4 515.1,198.1 517.8,205.8 520.6,187.4 523.3,196.8 526,207.3 528.8,183.7 531.5,190.1 534.2,214.2 537,193.1 539.7,154 542.5,257.2 545.2,194.1 547.9,154 550.7,216.6 553.4,238.5 556.1,221.9 558.9,218.5 561.6,184.8 564.4,179.3 567.1,239.8 569.8,162.2 572.6,227.8 575.3,182.5 578,189.8 580.8,188.6 583.5,197.2 586.2,191.8 589,218.7 591.7,184.4 594.5,179.3 597.2,181.6 599.9,154 602.7,186.3 605.4,183.7 608.1,166.1 610.9,198.2 613.6,220 616.4,233 619.1,161.3 621.8,193.1 624.6,179.7 627.3,206 630,186.2 632.8,161.3 635.5,197.6 638.3,216.8 641,198.7 643.7,167.8 646.5,223.7 649.2,238.8 651.9,229.4 654.7,213.2 657.4,175.6 660.2,198.8 662.9,209.5 665.6,217.1 668.4,192.4 671.1,199.5 673.8,205.6 676.6,197.8 679.3,209.8 682.1,156.9 684.8,239.8 687.5,179.2 690.3,219.4 693,175.9 695.7,205.1 698.5,186.1 701.2,187.6 704,193.6 706.7,176.8 709.4,227.3 712.2,169.1 714.9,206.4 717.6,185.4 720.4,167.8 723.1,180.6 725.9,160.7 728.6,239.8 731.3,201 734.1,175.4 736.8,222.6 739.5,192.4 742.3,163.1 745,186.6 747.7,216.5 750.5,181.5 753.2,186.5 756,196.5 758.7,197.3 761.4,192.4 764.2,225.6 766.9,185.6 769.6,216.9 772.4,182.6 775.1,190.5 777.9,214.2 780.6,179 783.3,192.8 786.1,197.1 788.8,181.1 791.5,205.3 794.3,198.7 797,193.3 799.8,197.3 802.5,172.9 805.2,239.8 808,242.5 810.7,236.5 813.4,195.6 816.2,191 818.9,197.1 821.7,176.9 824.4,194.6 827.1,239.8 829.9,204.5 832.6,163.9 835.3,253.2 838.1,199.9 840.8,225.6 843.6,154 846.3,239.8 849,177.2 851.8,202.3 854.5,190.4 857.2,221 860,198.4 862.7,175.3 865.5,211.6 868.2,220 870.9,191.3 873.7,196.5 876.4,199.6 879.1,211.6 881.9,182.7 884.6,202.9 887.4,218.3 890.1,187.3 892.8,199.9 895.6,193.3 898.3,231"/>
<polyline fill="none" stroke="#2da02a" stroke-width="2.2" stroke-linejoin="round" stroke-linecap="round" points="112.7,158.3 115.4,213.8 118.2,176.8 120.9,158.3 123.6,235.8 126.4,175.5 129.1,232.9 131.9,229.8 134.6,233.4 137.3,230.4 140.1,204.9 142.8,188.9 145.5,245.6 148.3,158.3 151,158.3 153.8,158.3 156.5,232.8 159.2,184.5 162,233.1 164.7,222.8 167.4,158.3 170.2,223.3 172.9,158.3 175.7,170 178.4,241.7 181.1,236 183.9,158.3 186.6,165.6 189.3,243.4 192.1,158.3 194.8,208.2 197.6,229.5 200.3,226 203,158.3 205.8,228.8 208.5,211.5 211.2,162.9 214,235.9 216.7,158.3 219.5,206.5 222.2,259.9 224.9,158.3 227.7,189 230.4,171.7 233.1,207.3 235.9,230.6 238.6,219.9 241.4,246 244.1,200.9 246.8,158.3 249.6,233.7 252.3,188.3 255,266.6 257.8,187.9 260.5,212.1 263.3,167.3 266,211.2 268.7,173.7 271.5,219.3 274.2,261.2 276.9,241.3 279.7,158.3 282.4,224.2 285.1,158.3 287.9,234.3 290.6,220.6 293.4,199.6 296.1,168.2 298.8,234.1 301.6,158.3 304.3,216.1 307,185.4 309.8,240.8 312.5,179.6 315.3,202.7 318,211.2 320.7,265.2 323.5,158.3 326.2,234 328.9,236.4 331.7,203.5 334.4,265.2 337.2,158.3 339.9,158.3 342.6,229.5 345.4,162.9 348.1,236.4 350.8,262.6 353.6,200.4 356.3,158.3 359.1,207.7 361.8,164.8 364.5,185.7 367.3,163.9 370,200.8 372.7,158.3 375.5,158.3 378.2,240.2 381,170.8 383.7,202.8 386.4,158.3 389.2,261.2 391.9,207.6 394.6,158.3 397.4,201.6 400.1,158.3 402.9,158.3 405.6,204.3 408.3,175 411.1,197.4 413.8,158.3 416.5,207.7 419.3,158.3 422,194.9 424.8,158.3 427.5,251.8 430.2,213.9 433,239.9 435.7,211.2 438.4,270.6 441.2,184.6 443.9,220.5 446.6,211.4 449.4,266.6 452.1,204.2 454.9,158.3 457.6,246.4 460.3,204 463.1,241.6 465.8,206.8 468.5,158.3 471.3,158.3 474,195 476.8,238.3 479.5,178.2 482.2,208.6 485,241.4 487.7,158.3 490.4,214.2 493.2,182 495.9,262.6 498.7,164.4 501.4,263.9 504.1,197.1 506.9,168.8 509.6,222.8 512.3,204.1 515.1,158.3 517.8,158.3 520.6,262.6 523.3,158.3 526,232.4 528.8,158.3 531.5,267.9 534.2,231.8 537,160.9 539.7,158.3 542.5,158.3 545.2,217.4 547.9,234.9 550.7,158.3 553.4,197.5 556.1,197.5 558.9,231.7 561.6,245.4 564.4,187.2 567.1,160.8 569.8,224.8 572.6,158.3 575.3,230.6 578,230 580.8,158.3 583.5,217.4 586.2,263.9 589,222.8 591.7,158.3 594.5,205.1 597.2,158.3 599.9,206.7 602.7,199.7 605.4,231.4 608.1,171.1 610.9,158.3 613.6,266.6 616.4,163.9 619.1,158.3 621.8,210 624.6,178 627.3,158.3 630,162 632.8,158.3 635.5,232.2 638.3,237.5 641,163 643.7,161.9 646.5,238 649.2,216.4 651.9,245.6 654.7,186.5 657.4,231 660.2,232 662.9,158.3 665.6,158.3 668.4,261.2 671.1,179.8 673.8,237.9 676.6,158.3 679.3,189.2 682.1,158.3 684.8,181.4 687.5,210.6 690.3,158.3 693,229.2 695.7,158.3 698.5,245.6 701.2,158.3 704,158.3 706.7,174.3 709.4,211.2 712.2,158.3 714.9,158.3 717.6,207.5 720.4,183.9 723.1,234.3 725.9,172.2 728.6,216.6 731.3,230.8 734.1,158.3 736.8,238.4 739.5,158.3 742.3,237.1 745,171.3 747.7,228.1 750.5,158.3 753.2,172.2 756,254.5 758.7,158.3 761.4,169 764.2,166.8 766.9,208.3 769.6,159.7 772.4,158.3 775.1,158.3 777.9,241 780.6,243.2 783.3,180.8 786.1,200.3 788.8,164.4 791.5,220.8 794.3,158.3 797,158.3 799.8,158.3 802.5,189.3 805.2,158.3 808,223.7 810.7,234.8 813.4,214.4 816.2,245.9 818.9,217.6 821.7,158.3 824.4,201.2 827.1,221.2 829.9,206.5 832.6,219.8 835.3,158.3 838.1,183 840.8,239.8 843.6,164.9 846.3,158.3 849,223.6 851.8,158.3 854.5,218 857.2,158.3 860,158.3 862.7,245.5 865.5,229.6 868.2,158.3 870.9,227.3 873.7,193 876.4,158.3 879.1,201.2 881.9,224.2 884.6,224.8 887.4,239.8 890.1,178.1 892.8,188.9 895.6,158.3 898.3,206.5"/>
<circle cx="38.6" cy="399" r="9.1" fill="#1f78b4"/>
<text class="lg" x="57.56" y="408.3" textLength="147.81" lengthAdjust="spacingAndGlyphs">app1apacheeks</text>
<circle cx="232.3" cy="399" r="9.1" fill="#a6cee3"/>
<text class="lg" x="250.73" y="408.3" textLength="95.63" lengthAdjust="spacingAndGlyphs">appdev02</text>
<circle cx="372.3" cy="399" r="9.1" fill="#2da02a"/>
<text class="lg" x="390.41" y="408.3" textLength="114.2" lengthAdjust="spacingAndGlyphs">localapache</text>
</svg></section>
<section class="panel" style="left:0px;top:747.5px;width:940px;height:450px">
<svg width="940" height="450" viewBox="0 0 940 450">
<text class="pt" x="20.57" y="40.2" textLength="244.38" lengthAdjust="spacingAndGlyphs">Busy Worker Threads</text>
<line x1="90.1" x2="899" y1="83" y2="83" stroke="#33476a" stroke-width="2"/>
<text class="tk" x="57.75" y="88.3" textLength="23.03" lengthAdjust="spacingAndGlyphs">10</text>
<line x1="90.1" x2="899" y1="183.5" y2="183.5" stroke="#33476a" stroke-width="2"/>
<text class="tk" x="68.07" y="188.8" textLength="12.88" lengthAdjust="spacingAndGlyphs">5</text>
<line x1="90.1" x2="899" y1="284" y2="284" stroke="#33476a" stroke-width="2"/>
<text class="tk" x="67.87" y="289.3" textLength="12.98" lengthAdjust="spacingAndGlyphs">0</text>
<text class="yt" transform="translate(47.6 183.5) rotate(-90)" x="-77.86" y="0" textLength="155.52" lengthAdjust="spacingAndGlyphs">Worker Threads</text>
<line x1="171.9" x2="171.9" y1="284" y2="292" stroke="#33476a" stroke-width="2"/>
<text class="tk" x="142.49" y="308.6" textLength="56.76" lengthAdjust="spacingAndGlyphs">09:00</text>
<text class="tk" x="141.57" y="333.7" textLength="34.27" lengthAdjust="spacingAndGlyphs">PM</text>
<line x1="271.9" x2="271.9" y1="284" y2="292" stroke="#33476a" stroke-width="2"/>
<text class="tk" x="237.53" y="308.6" textLength="53.82" lengthAdjust="spacingAndGlyphs">12:00</text>
<text class="tk" x="239.14" y="333.7" textLength="62.46" lengthAdjust="spacingAndGlyphs">AM 20</text>
<text class="tk" x="237.49" y="358.8" textLength="67.77" lengthAdjust="spacingAndGlyphs">May 21</text>
<line x1="372" x2="372" y1="284" y2="292" stroke="#33476a" stroke-width="2"/>
<text class="tk" x="342.57" y="308.6" textLength="56.76" lengthAdjust="spacingAndGlyphs">03:00</text>
<text class="tk" x="343.48" y="333.7" textLength="32.23" lengthAdjust="spacingAndGlyphs">AM</text>
<line x1="472" x2="472" y1="284" y2="292" stroke="#33476a" stroke-width="2"/>
<text class="tk" x="442.61" y="308.6" textLength="56.76" lengthAdjust="spacingAndGlyphs">06:00</text>
<text class="tk" x="443.52" y="333.7" textLength="32.23" lengthAdjust="spacingAndGlyphs">AM</text>
<line x1="572.1" x2="572.1" y1="284" y2="292" stroke="#33476a" stroke-width="2"/>
<text class="tk" x="542.65" y="308.6" textLength="56.76" lengthAdjust="spacingAndGlyphs">09:00</text>
<text class="tk" x="543.56" y="333.7" textLength="32.23" lengthAdjust="spacingAndGlyphs">AM</text>
<line x1="672.1" x2="672.1" y1="284" y2="292" stroke="#33476a" stroke-width="2"/>
<text class="tk" x="643.79" y="308.6" textLength="53.82" lengthAdjust="spacingAndGlyphs">12:00</text>
<text class="tk" x="643.57" y="333.7" textLength="34.27" lengthAdjust="spacingAndGlyphs">PM</text>
<line x1="772.1" x2="772.1" y1="284" y2="292" stroke="#33476a" stroke-width="2"/>
<text class="tk" x="742.73" y="308.6" textLength="56.76" lengthAdjust="spacingAndGlyphs">03:00</text>
<text class="tk" x="741.81" y="333.7" textLength="34.27" lengthAdjust="spacingAndGlyphs">PM</text>
<line x1="872.2" x2="872.2" y1="284" y2="292" stroke="#33476a" stroke-width="2"/>
<text class="tk" x="842.77" y="308.6" textLength="56.76" lengthAdjust="spacingAndGlyphs">06:00</text>
<text class="tk" x="841.85" y="333.7" textLength="34.27" lengthAdjust="spacingAndGlyphs">PM</text>
<polyline fill="none" stroke="#1f78b4" stroke-width="2.2" stroke-linejoin="round" stroke-linecap="round" points="97.7,263.9 100.5,263.9 103.3,263.9 106,263.9 108.8,263.9 111.6,263.9 114.4,263.9 117.2,263.9 120,263.9 122.8,263.9 125.6,263.9 128.4,263.9 131.1,263.9 133.9,263.9 136.7,263.9 139.5,263.9 142.3,263.9 145.1,263.9 147.9,263.9 150.7,263.9 153.5,263.9 156.2,263.9 159,263.9 161.8,263.9 164.6,263.9 167.4,263.9 170.2,263.9 173,263.9 175.8,263.9 178.5,263.9 181.3,263.9 184.1,263.9 186.9,263.9 189.7,263.9 192.5,263.9 195.3,263.9 198.1,263.9 200.9,263.9 203.6,263.9 206.4,263.9 209.2,263.9 212,263.9 214.8,263.9 217.6,263.9 220.4,263.9 223.2,263.9 226,263.9 228.7,263.9 231.5,263.9 234.3,263.9 237.1,263.9 239.9,263.9 242.7,263.9 245.5,263.9 248.3,263.9 251.1,263.9 253.8,263.9 256.6,263.9 259.4,263.9 262.2,263.9 265,263.9 267.8,263.9 270.6,263.9 273.4,263.9 276.1,263.9 278.9,263.9 281.7,263.9 284.5,263.9 287.3,263.9 290.1,263.9 292.9,263.9 295.7,263.9 298.5,263.9 301.2,263.9 304,263.9 306.8,263.9 309.6,263.9 312.4,263.9 315.2,263.9 318,263.9 320.8,263.9 323.6,263.9 326.3,263.9 329.1,263.9 331.9,263.9 334.7,263.9 337.5,263.9 340.3,263.9 343.1,263.9 345.9,263.9 348.7,263.9 351.4,263.9 354.2,263.9 357,263.9 359.8,263.9 362.6,263.9 365.4,263.9 368.2,263.9 371,263.9 373.7,263.9 376.5,263.9 379.3,263.9 382.1,263.9 384.9,263.9 387.7,263.9 390.5,263.9 393.3,263.9 396.1,263.9 398.8,263.9 401.6,263.9 404.4,263.9 407.2,263.9 410,263.9 412.8,263.9 415.6,263.9 418.4,263.9 421.2,263.9 423.9,263.9 426.7,263.9 429.5,263.9 432.3,263.9 435.1,263.9 437.9,263.9 440.7,263.9 443.5,263.9 446.3,263.9 449,263.9 451.8,263.9 454.6,263.9 457.4,263.9 460.2,263.9 463,263.9 465.8,263.9 468.6,263.9 471.3,263.9 474.1,263.9 476.9,263.9 479.7,263.9 482.5,263.9 485.3,263.9 488.1,263.9 490.9,263.9 493.7,263.9 496.4,263.9 499.2,263.9 502,263.9 504.8,263.9 507.6,263.9 510.4,263.9 513.2,263.9 516,263.9 518.8,263.9 521.5,263.9 524.3,263.9 527.1,263.9 529.9,263.9 532.7,263.9 535.5,263.9 538.3,263.9 541.1,263.9 543.9,263.9 546.6,263.9 549.4,263.9 552.2,263.9 555,263.9 557.8,263.9 560.6,263.9 563.4,263.9 566.2,263.9 568.9,263.9 571.7,263.9 574.5,263.9 577.3,263.9 580.1,263.9 582.9,263.9 585.7,263.9 588.5,263.9 591.3,263.9 594,263.9 596.8,263.9 599.6,263.9 602.4,263.9 605.2,263.9 608,263.9 610.8,263.9 613.6,263.9 616.4,263.9 619.1,263.9 621.9,263.9 624.7,263.9 627.5,263.9 630.3,263.9 633.1,263.9 635.9,263.9 638.7,263.9 641.5,263.9 644.2,263.9 647,263.9 649.8,263.9 652.6,263.9 655.4,263.9 658.2,263.9 661,263.9 663.8,263.9 666.5,263.9 669.3,263.9 672.1,263.9 674.9,263.9 677.7,263.9 680.5,263.9 683.3,263.9 686.1,263.9 688.9,263.9 691.6,263.9 694.4,263.9 697.2,263.9 700,263.9 702.8,263.9 705.6,263.9 708.4,263.9 711.2,263.9 714,263.9 716.7,263.9 719.5,263.9 722.3,263.9 725.1,263.9 727.9,263.9 730.7,263.9 733.5,263.9 736.3,263.9 739.1,263.9 741.8,263.9 744.6,263.9 747.4,263.9 750.2,263.9 753,263.9 755.8,263.9 758.6,263.9 761.4,263.9 764.1,263.9 766.9,263.9 769.7,263.9 772.5,263.9 775.3,263.9 778.1,263.9 780.9,263.9 783.7,263.9 786.5,263.9 789.2,263.9 792,263.9 794.8,263.9 797.6,263.9 800.4,263.9 803.2,263.9 806,263.9 808.8,263.9 811.6,263.9 814.3,263.9 817.1,263.9 819.9,263.9 822.7,263.9 825.5,263.9 828.3,263.9 831.1,263.9 833.9,263.9 836.7,263.9 839.4,263.9 842.2,263.9 845,263.9 847.8,263.9 850.6,263.9 853.4,263.9 856.2,263.9 859,263.9 861.7,263.9 864.5,263.9 867.3,263.9 870.1,263.9 872.9,263.9 875.7,263.9 878.5,263.9 881.3,263.9 884.1,263.9 886.8,263.9 889.6,263.9 892.4,263.9 895.2,263.9 898,263.9"/>
<polyline fill="none" stroke="#a6cee3" stroke-width="2.2" stroke-linejoin="round" stroke-linecap="round" points="97.7,263.9 100.5,263.9 103.3,263.9 106,263.9 108.8,263.9 111.6,263.9 114.4,263.9 117.2,215.7 120,263.9 122.8,263.9 125.6,263.9 128.4,237.8 131.1,263.9 133.9,263.9 136.7,263.9 139.5,263.9 142.3,243.8 145.1,215.7 147.9,263.9 150.7,257.9 153.5,263.9 156.2,263.9 159,263.9 161.8,263.9 164.6,263.9 167.4,237.8 170.2,219.7 173,263.9 175.8,237.8 178.5,237.8 181.3,263.9 184.1,263.9 186.9,263.9 189.7,263.9 192.5,263.9 195.3,263.9 198.1,263.9 200.9,237.8 203.6,263.9 206.4,263.9 209.2,237.8 212,223.7 214.8,237.8 217.6,263.9 220.4,263.9 223.2,243.8 226,263.9 228.7,263.9 231.5,263.9 234.3,263.9 237.1,263.9 239.9,263.9 242.7,231.7 245.5,237.8 248.3,243.8 251.1,263.9 253.8,263.9 256.6,251.8 259.4,263.9 262.2,263.9 265,263.9 267.8,263.9 270.6,263.9 273.4,263.9 276.1,251.8 278.9,263.9 281.7,223.7 284.5,263.9 287.3,263.9 290.1,237.8 292.9,243.8 295.7,263.9 298.5,243.8 301.2,237.8 304,263.9 306.8,263.9 309.6,263.9 312.4,263.9 315.2,263.9 318,263.9 320.8,215.7 323.6,257.9 326.3,263.9 329.1,263.9 331.9,263.9 334.7,263.9 337.5,215.7 340.3,263.9 343.1,263.9 345.9,263.9 348.7,243.8 351.4,263.9 354.2,263.9 357,263.9 359.8,237.8 362.6,251.8 365.4,263.9 368.2,263.9 371,251.8 373.7,257.9 376.5,257.9 379.3,243.8 382.1,251.8 384.9,237.8 387.7,263.9 390.5,263.9 393.3,237.8 396.1,179.5 398.8,217.7 401.6,209.6 404.4,263.9 407.2,263.9 410,251.8 412.8,263.9 415.6,263.9 418.4,215.7 421.2,263.9 423.9,263.9 426.7,243.8 429.5,263.9 432.3,263.9 435.1,263.9 437.9,251.8 440.7,263.9 443.5,263.9 446.3,263.9 449,263.9 451.8,231.7 454.6,237.8 457.4,263.9 460.2,223.7 463,251.8 465.8,223.7 468.6,263.9 471.3,263.9 474.1,263.9 476.9,263.9 479.7,251.8 482.5,263.9 485.3,263.9 488.1,263.9 490.9,257.9 493.7,257.9 496.4,243.8 499.2,263.9 502,263.9 504.8,243.8 507.6,263.9 510.4,263.9 513.2,263.9 516,263.9 518.8,263.9 521.5,251.8 524.3,263.9 527.1,257.9 529.9,263.9 532.7,257.9 535.5,263.9 538.3,263.9 541.1,263.9 543.9,257.9 546.6,263.9 549.4,263.9 552.2,213.7 555,263.9 557.8,263.9 560.6,263.9 563.4,263.9 566.2,257.9 568.9,263.9 571.7,263.9 574.5,263.9 577.3,263.9 580.1,263.9 582.9,257.9 585.7,257.9 588.5,263.9 591.3,243.8 594,263.9 596.8,263.9 599.6,263.9 602.4,263.9 605.2,263.9 608,263.9 610.8,243.8 613.6,263.9 616.4,243.8 619.1,263.9 621.9,263.9 624.7,251.8 627.5,251.8 630.3,263.9 633.1,263.9 635.9,251.8 638.7,231.7 641.5,231.7 644.2,263.9 647,243.8 649.8,263.9 652.6,263.9 655.4,263.9 658.2,263.9 661,263.9 663.8,263.9 666.5,243.8 669.3,263.9 672.1,263.9 674.9,251.8 677.7,243.8 680.5,211.6 683.3,263.9 686.1,263.9 688.9,263.9 691.6,231.7 694.4,263.9 697.2,263.9 700,263.9 702.8,263.9 705.6,263.9 708.4,263.9 711.2,223.7 714,263.9 716.7,263.9 719.5,243.8 722.3,263.9 725.1,263.9 727.9,263.9 730.7,263.9 733.5,251.8 736.3,263.9 739.1,263.9 741.8,237.8 744.6,251.8 747.4,263.9 750.2,263.9 753,263.9 755.8,251.8 758.6,263.9 761.4,263.9 764.1,251.8 766.9,243.8 769.7,263.9 772.5,263.9 775.3,263.9 778.1,243.8 780.9,263.9 783.7,263.9 786.5,263.9 789.2,243.8 792,263.9 794.8,263.9 797.6,263.9 800.4,263.9 803.2,263.9 806,263.9 808.8,263.9 811.6,263.9 814.3,263.9 817.1,243.8 819.9,263.9 822.7,257.9 825.5,231.7 828.3,263.9 831.1,263.9 833.9,263.9 836.7,263.9 839.4,263.9 842.2,223.7 845,263.9 847.8,263.9 850.6,263.9 853.4,263.9 856.2,257.9 859,263.9 861.7,263.9 864.5,257.9 867.3,263.9 870.1,263.9 872.9,243.8 875.7,263.9 878.5,263.9 881.3,231.7 884.1,257.9 886.8,263.9 889.6,263.9 892.4,243.8 895.2,243.8 898,263.9"/>
<polyline fill="none" stroke="#2da02a" stroke-width="2.2" stroke-linejoin="round" stroke-linecap="round" points="97.7,263.9 100.5,263.9 103.3,203.6 106,263.9 108.8,263.9 111.6,263.9 114.4,263.9 117.2,263.9 120,263.9 122.8,263.9 125.6,243.8 128.4,263.9 131.1,263.9 133.9,263.9 136.7,263.9 139.5,263.9 142.3,263.9 145.1,263.9 147.9,177.5 150.7,263.9 153.5,263.9 156.2,263.9 159,263.9 161.8,257.9 164.6,249.8 167.4,257.9 170.2,263.9 173,249.8 175.8,223.7 178.5,263.9 181.3,263.9 184.1,263.9 186.9,263.9 189.7,263.9 192.5,243.8 195.3,143.3 198.1,263.9 200.9,203.6 203.6,263.9 206.4,263.9 209.2,263.9 212,263.9 214.8,263.9 217.6,263.9 220.4,249.8 223.2,263.9 226,263.9 228.7,263.9 231.5,263.9 234.3,263.9 237.1,263.9 239.9,263.9 242.7,263.9 245.5,263.9 248.3,257.9 251.1,263.9 253.8,223.7 256.6,203.6 259.4,263.9 262.2,263.9 265,243.8 267.8,263.9 270.6,263.9 273.4,249.8 276.1,263.9 278.9,263.9 281.7,263.9 284.5,249.8 287.3,263.9 290.1,263.9 292.9,233.8 295.7,263.9 298.5,263.9 301.2,263.9 304,263.9 306.8,233.8 309.6,263.9 312.4,263.9 315.2,263.9 318,263.9 320.8,243.8 323.6,263.9 326.3,243.8 329.1,203.6 331.9,263.9 334.7,213.7 337.5,233.8 340.3,257.9 343.1,263.9 345.9,263.9 348.7,223.7 351.4,233.8 354.2,263.9 357,257.9 359.8,233.8 362.6,223.7 365.4,263.9 368.2,263.9 371,223.7 373.7,263.9 376.5,263.9 379.3,263.9 382.1,243.8 384.9,263.9 387.7,263.9 390.5,263.9 393.3,263.9 396.1,263.9 398.8,213.7 401.6,263.9 404.4,263.9 407.2,263.9 410,263.9 412.8,223.7 415.6,263.9 418.4,263.9 421.2,243.8 423.9,243.8 426.7,263.9 429.5,263.9 432.3,263.9 435.1,263.9 437.9,243.8 440.7,203.6 443.5,263.9 446.3,263.9 449,263.9 451.8,263.9 454.6,263.9 457.4,263.9 460.2,263.9 463,203.6 465.8,263.9 468.6,263.9 471.3,263.9 474.1,263.9 476.9,203.6 479.7,263.9 482.5,263.9 485.3,263.9 488.1,263.9 490.9,233.8 493.7,263.9 496.4,263.9 499.2,213.7 502,263.9 504.8,263.9 507.6,263.9 510.4,263.9 513.2,263.9 516,263.9 518.8,203.6 521.5,263.9 524.3,263.9 527.1,263.9 529.9,263.9 532.7,263.9 535.5,263.9 538.3,263.9 541.1,263.9 543.9,243.8 546.6,213.7 549.4,263.9 552.2,263.9 555,249.8 557.8,263.9 560.6,263.9 563.4,263.9 566.2,263.9 568.9,263.9 571.7,263.9 574.5,263.9 577.3,263.9 580.1,203.6 582.9,263.9 585.7,263.9 588.5,263.9 591.3,263.9 594,233.8 596.8,203.6 599.6,263.9 602.4,263.9 605.2,263.9 608,263.9 610.8,263.9 613.6,249.8 616.4,257.9 619.1,263.9 621.9,223.7 624.7,263.9 627.5,263.9 630.3,263.9 633.1,249.8 635.9,263.9 638.7,263.9 641.5,263.9 644.2,263.9 647,263.9 649.8,257.9 652.6,249.8 655.4,263.9 658.2,257.9 661,263.9 663.8,263.9 666.5,257.9 669.3,263.9 672.1,263.9 674.9,263.9 677.7,263.9 680.5,263.9 683.3,263.9 686.1,263.9 688.9,233.8 691.6,263.9 694.4,263.9 697.2,263.9 700,263.9 702.8,213.7 705.6,263.9 708.4,263.9 711.2,263.9 714,233.8 716.7,263.9 719.5,249.8 722.3,263.9 725.1,263.9 727.9,263.9 730.7,263.9 733.5,263.9 736.3,263.9 739.1,263.9 741.8,223.7 744.6,263.9 747.4,263.9 750.2,263.9 753,263.9 755.8,233.8 758.6,263.9 761.4,249.8 764.1,263.9 766.9,263.9 769.7,263.9 772.5,263.9 775.3,257.9 778.1,263.9 780.9,213.7 783.7,223.7 786.5,249.8 789.2,263.9 792,263.9 794.8,263.9 797.6,263.9 800.4,263.9 803.2,263.9 806,263.9 808.8,263.9 811.6,263.9 814.3,263.9 817.1,263.9 819.9,263.9 822.7,249.8 825.5,263.9 828.3,263.9 831.1,263.9 833.9,263.9 836.7,263.9 839.4,263.9 842.2,263.9 845,263.9 847.8,263.9 850.6,263.9 853.4,263.9 856.2,263.9 859,263.9 861.7,263.9 864.5,263.9 867.3,263.9 870.1,263.9 872.9,263.9 875.7,263.9 878.5,263.9 881.3,263.9 884.1,263.9 886.8,203.6 889.6,215.7 892.4,263.9 895.2,263.9 898,223.7"/>
<circle cx="38.6" cy="399" r="9.1" fill="#1f78b4"/>
<text class="lg" x="57.56" y="408.3" textLength="147.81" lengthAdjust="spacingAndGlyphs">app1apacheeks</text>
<circle cx="232.3" cy="399" r="9.1" fill="#a6cee3"/>
<text class="lg" x="250.73" y="408.3" textLength="95.63" lengthAdjust="spacingAndGlyphs">appdev02</text>
<circle cx="372.3" cy="399" r="9.1" fill="#2da02a"/>
<text class="lg" x="390.41" y="408.3" textLength="114.2" lengthAdjust="spacingAndGlyphs">localapache</text>
</svg></section>
<section class="panel" style="left:953.5px;top:747.5px;width:940px;height:450px">
<svg width="940" height="450" viewBox="0 0 940 450">
<text class="pt" x="21.33" y="40.2" textLength="362.99" lengthAdjust="spacingAndGlyphs">CPU Children System Utilization</text>
<line x1="106.5" x2="899.6" y1="83" y2="83" stroke="#33476a" stroke-width="2"/>
<text class="tk" x="58.54" y="88.3" textLength="38.76" lengthAdjust="spacingAndGlyphs">200</text>
<line x1="106.5" x2="899.6" y1="133.2" y2="133.2" stroke="#33476a" stroke-width="2"/>
<text class="tk" x="61.6" y="138.55" textLength="35.62" lengthAdjust="spacingAndGlyphs">150</text>
<line x1="106.5" x2="899.6" y1="183.5" y2="183.5" stroke="#33476a" stroke-width="2"/>
<text class="tk" x="60.76" y="188.8" textLength="36.48" lengthAdjust="spacingAndGlyphs">100</text>
<line x1="106.5" x2="899.6" y1="233.8" y2="233.8" stroke="#33476a" stroke-width="2"/>
<text class="tk" x="71.99" y="239.05" textLength="25.26" lengthAdjust="spacingAndGlyphs">50</text>
<line x1="106.5" x2="899.6" y1="284" y2="284" stroke="#33476a" stroke-width="2"/>
<text class="tk" x="84.27" y="289.3" textLength="12.98" lengthAdjust="spacingAndGlyphs">0</text>
<text class="yt" transform="translate(47.6 183.5) rotate(-90)" x="-49.91" y="0" textLength="98.79" lengthAdjust="spacingAndGlyphs">Utilization</text>
<line x1="188.7" x2="188.7" y1="284" y2="292" stroke="#33476a" stroke-width="2"/>
<text class="tk" x="159.29" y="308.6" textLength="56.76" lengthAdjust="spacingAndGlyphs">09:00</text>
<text class="tk" x="158.37" y="333.7" textLength="34.27" lengthAdjust="spacingAndGlyphs">PM</text>
<line x1="286.4" x2="286.4" y1="284" y2="292" stroke="#33476a" stroke-width="2"/>
<text class="tk" x="251.96" y="308.6" textLength="53.82" lengthAdjust="spacingAndGlyphs">12:00</text>
<text class="tk" x="253.57" y="333.7" textLength="62.46" lengthAdjust="spacingAndGlyphs">AM 20</text>
<text class="tk" x="251.92" y="358.8" textLength="67.77" lengthAdjust="spacingAndGlyphs">May 21</text>
<line x1="384" x2="384" y1="284" y2="292" stroke="#33476a" stroke-width="2"/>
<text class="tk" x="354.63" y="308.6" textLength="56.76" lengthAdjust="spacingAndGlyphs">03:00</text>
<text class="tk" x="355.54" y="333.7" textLength="32.23" lengthAdjust="spacingAndGlyphs">AM</text>
<line x1="481.7" x2="481.7" y1="284" y2="292" stroke="#33476a" stroke-width="2"/>
<text class="tk" x="452.3" y="308.6" textLength="56.76" lengthAdjust="spacingAndGlyphs">06:00</text>
<text class="tk" x="453.21" y="333.7" textLength="32.23" lengthAdjust="spacingAndGlyphs">AM</text>
<line x1="579.4" x2="579.4" y1="284" y2="292" stroke="#33476a" stroke-width="2"/>
<text class="tk" x="549.97" y="308.6" textLength="56.76" lengthAdjust="spacingAndGlyphs">09:00</text>
<text class="tk" x="550.88" y="333.7" textLength="32.23" lengthAdjust="spacingAndGlyphs">AM</text>
<line x1="677" x2="677" y1="284" y2="292" stroke="#33476a" stroke-width="2"/>
<text class="tk" x="648.74" y="308.6" textLength="53.82" lengthAdjust="spacingAndGlyphs">12:00</text>
<text class="tk" x="648.52" y="333.7" textLength="34.27" lengthAdjust="spacingAndGlyphs">PM</text>
<line x1="774.7" x2="774.7" y1="284" y2="292" stroke="#33476a" stroke-width="2"/>
<text class="tk" x="745.31" y="308.6" textLength="56.76" lengthAdjust="spacingAndGlyphs">03:00</text>
<text class="tk" x="744.39" y="333.7" textLength="34.27" lengthAdjust="spacingAndGlyphs">PM</text>
<line x1="872.4" x2="872.4" y1="284" y2="292" stroke="#33476a" stroke-width="2"/>
<text class="tk" x="842.98" y="308.6" textLength="56.76" lengthAdjust="spacingAndGlyphs">06:00</text>
<text class="tk" x="842.06" y="333.7" textLength="34.27" lengthAdjust="spacingAndGlyphs">PM</text>
<polyline fill="none" stroke="#1f78b4" stroke-width="2.2" stroke-linejoin="round" stroke-linecap="round" points="117.2,175.5 422.2,175.5 427.5,170.1 448.9,170.1 449.9,150.3 453,144.7 557.1,144.7 559.5,133.2 562.8,127.5 898.6,127.5"/>
<polyline fill="none" stroke="#a6cee3" stroke-width="2.2" stroke-linejoin="round" stroke-linecap="round" points="117.2,234.4 120,241.9 122.7,216.7 125.4,240.1 128.1,233.8 130.9,217.6 133.6,255.7 136.3,201.8 139,217 141.7,195.6 144.5,227.6 147.2,217 149.9,221.4 152.6,225.9 155.4,250.5 158.1,205.2 160.8,217 163.5,233.8 166.2,225.2 169,217 171.7,217 174.4,247.1 177.1,233.8 179.9,217 182.6,250.5 185.3,245 188,221.2 190.7,217 193.5,217 196.2,266.3 198.9,203.4 201.6,247.5 204.4,200.3 207.1,221.4 209.8,223.8 212.5,233.8 215.3,195.6 218,200.3 220.7,233.8 223.4,241.4 226.1,251.3 228.9,233.8 231.6,225 234.3,225.8 237,240.4 239.8,195.6 242.5,233.1 245.2,208.9 247.9,233.8 250.6,249.2 253.4,204.1 256.1,217 258.8,233.8 261.5,208.6 264.3,215 267,214.7 269.7,233.8 272.4,217 275.1,233.8 277.9,238.4 280.6,217 283.3,227.1 286,200.3 288.8,233.8 291.5,217 294.2,233.8 296.9,233.8 299.6,217 302.4,253.3 305.1,231.2 307.8,250.5 310.5,255.1 313.3,221.9 316,251.4 318.7,206.9 321.4,222.1 324.2,230.7 326.9,248.5 329.6,216.5 332.3,242.1 335,235.3 337.8,206.3 340.5,247.2 343.2,245.6 345.9,208.7 348.7,202.7 351.4,207.4 354.1,220.3 356.8,195.6 359.5,244 362.3,195.6 365,217 367.7,250.5 370.4,200.3 373.2,253.2 375.9,200.3 378.6,217 381.3,251.6 384,216.8 386.8,217 389.5,226.7 392.2,211.1 394.9,200.3 397.7,233.8 400.4,208.5 403.1,207.4 405.8,241.4 408.5,234.8 411.3,267.2 414,233.8 416.7,217 419.4,223.6 422.2,217 424.9,211.5 427.6,218 430.3,250.5 433.1,233.8 435.8,221.2 438.5,233.8 441.2,200.3 443.9,231.6 446.7,217 449.4,233.8 452.1,233.8 454.8,217 457.6,227.5 460.3,215.3 463,218.8 465.7,233.8 468.4,235.5 471.2,245.1 473.9,201.8 476.6,224.8 479.3,224.5 482.1,240.7 484.8,242.8 487.5,233.8 490.2,234.9 492.9,200.3 495.7,199.3 498.4,262.2 501.1,230.2 503.8,217 506.6,218.7 509.3,200.3 512,222.5 514.7,239.2 517.4,233.8 520.2,218.7 522.9,226.5 525.6,233.8 528.3,222.9 531.1,202.8 533.8,248.8 536.5,250.5 539.2,256.1 542,247.6 544.7,245.6 547.4,209.8 550.1,229.4 552.8,233.8 555.6,217 558.3,217 561,233.8 563.7,230.3 566.5,250.5 569.2,249 571.9,195.6 574.6,233.8 577.3,224.4 580.1,234.4 582.8,237.4 585.5,240.6 588.2,200.3 591,252.1 593.7,233.8 596.4,238.6 599.1,210.7 601.8,217 604.6,238.3 607.3,219 610,250.1 612.7,226.8 615.5,212.7 618.2,225.3 620.9,228.1 623.6,201.4 626.3,243 629.1,233.8 631.8,256.5 634.5,218.7 637.2,233.8 640,241.9 642.7,195.6 645.4,221.3 648.1,250.5 650.9,250.5 653.6,215.3 656.3,225.3 659,264 661.7,217.5 664.5,233.8 667.2,255.8 669.9,250.5 672.6,197.5 675.4,224 678.1,243.8 680.8,227.6 683.5,217 686.2,233.8 689,233.8 691.7,231 694.4,217 697.1,250.5 699.9,262.4 702.6,197.2 705.3,232.4 708,217 710.7,256.6 713.5,233.8 716.2,239.1 718.9,233.8 721.6,237.3 724.4,200.3 727.1,200.3 729.8,233.8 732.5,240.2 735.2,250.5 738,218.5 740.7,217 743.4,202.5 746.1,198.4 748.9,228.1 751.6,200.3 754.3,214.4 757,207 759.8,233.8 762.5,220.8 765.2,213.6 767.9,217 770.6,217.9 773.4,224.2 776.1,217 778.8,233.8 781.5,233.8 784.3,217.7 787,233.8 789.7,236.3 792.4,233.8 795.1,233.8 797.9,250.5 800.6,251.5 803.3,218.6 806,216.5 808.8,250.5 811.5,217 814.2,217 816.9,250.5 819.6,237.4 822.4,200.3 825.1,195.6 827.8,217 830.5,250.5 833.3,235.6 836,213.6 838.7,211.9 841.4,237.5 844.1,233.8 846.9,236.3 849.6,233.8 852.3,226.4 855,222.2 857.8,229.2 860.5,233.8 863.2,259.1 865.9,212.7 868.7,200.3 871.4,200.9 874.1,200.3 876.8,246.1 879.5,255.9 882.3,217 885,228.4 887.7,223.6 890.4,250.5 893.2,229.2 895.9,210.2 898.6,232.3"/>
<polyline fill="none" stroke="#2da02a" stroke-width="2.2" stroke-linejoin="round" stroke-linecap="round" points="117.2,201.1 120,237.1 122.7,284 125.4,213.9 128.1,226.6 130.9,219 133.6,201.1 136.3,246 139,210.2 141.7,259.7 144.5,209 147.2,238.4 149.9,225.1 152.6,207.7 155.4,284 158.1,239.2 160.8,201.1 163.5,201.1 166.2,239.7 169,243.5 171.7,208.7 174.4,229.6 177.1,201.1 179.9,201.1 182.6,228.5 185.3,201.1 188,222.2 190.7,249 193.5,201.1 196.2,201.1 198.9,284 201.6,201.1 204.4,201.1 207.1,284 209.8,201.1 212.5,284 215.3,201.1 218,222.3 220.7,201.1 223.4,201.1 226.1,265.7 228.9,201.1 231.6,240.1 234.3,227.7 237,201.1 239.8,241.6 242.5,216.7 245.2,224.4 247.9,237.8 250.6,226.1 253.4,211.6 256.1,244.1 258.8,211.9 261.5,251.3 264.3,211.7 267,201.1 269.7,237.4 272.4,284 275.1,233 277.9,201.1 280.6,255.8 283.3,244.9 286,201.1 288.8,201.1 291.5,201.1 294.2,233.8 296.9,265.8 299.6,201.1 302.4,232.5 305.1,207.9 307.8,247.2 310.5,284 313.3,241 316,211.9 318.7,219.6 321.4,284 324.2,222.1 326.9,211.8 329.6,239.5 332.3,201.1 335,257 337.8,256.8 340.5,201.1 343.2,227.2 345.9,230.9 348.7,201.1 351.4,229.8 354.1,212.1 356.8,201.1 359.5,235.1 362.3,208.5 365,201.1 367.7,251 370.4,217 373.2,222.1 375.9,201.1 378.6,238.7 381.3,222.6 384,257 386.8,201.1 389.5,215.4 392.2,232 394.9,201.1 397.7,257.1 400.4,242.3 403.1,201.1 405.8,201.1 408.5,259.5 411.3,247 414,201.1 416.7,284 419.4,220.6 422.2,202.9 424.9,243.4 427.6,207.1 430.3,243.3 433.1,201.1 435.8,284 438.5,201.1 441.2,237.8 443.9,201.1 446.7,228.3 449.4,238.8 452.1,256.7 454.8,238.4 457.6,244.8 460.3,201.1 463,243.3 465.7,201.1 468.4,214.7 471.2,202.5 473.9,216.4 476.6,247.1 479.3,259.8 482.1,227.3 484.8,219.6 487.5,257 490.2,234.6 492.9,284 495.7,265.1 498.4,238.9 501.1,239.2 503.8,255.6 506.6,229.8 509.3,225.1 512,232.3 514.7,284 517.4,221.9 520.2,201.1 522.9,236.8 525.6,263.7 528.3,248.6 531.1,230.3 533.8,260.2 536.5,241.5 539.2,201.1 542,259.6 544.7,203.6 547.4,201.1 550.1,211.6 552.8,251.2 555.6,215.6 558.3,248.4 561,203.9 563.7,203.3 566.5,247.6 569.2,205.6 571.9,201.4 574.6,201.1 577.3,251.7 580.1,205.3 582.8,284 585.5,208.8 588.2,284 591,284 593.7,201.1 596.4,202.8 599.1,201.1 601.8,211 604.6,233.3 607.3,230 610,201.1 612.7,218.4 615.5,213.3 618.2,201.1 620.9,263.1 623.6,201.1 626.3,214.1 629.1,201.1 631.8,244.4 634.5,262.2 637.2,255.8 640,284 642.7,240.6 645.4,206.7 648.1,201.1 650.9,255.8 653.6,205.3 656.3,201.1 659,263.4 661.7,216.3 664.5,201.1 667.2,239.4 669.9,227.9 672.6,201.1 675.4,226.3 678.1,243.5 680.8,215.6 683.5,240.4 686.2,239.8 689,260.8 691.7,201.1 694.4,201.1 697.1,201.1 699.9,218.7 702.6,201.1 705.3,227.7 708,211.2 710.7,256.4 713.5,203.2 716.2,201.1 718.9,237.4 721.6,246.9 724.4,227.9 727.1,261.2 729.8,258.4 732.5,201.1 735.2,256.2 738,284 740.7,284 743.4,201.1 746.1,201.1 748.9,222.6 751.6,223.1 754.3,263 757,201.1 759.8,221.2 762.5,210.3 765.2,201.1 767.9,201.1 770.6,284 773.4,213.8 776.1,249.4 778.8,238.3 781.5,202 784.3,201.1 787,206.5 789.7,240.4 792.4,201.1 795.1,213.2 797.9,265.1 800.6,213.9 803.3,259.8 806,284 808.8,203.1 811.5,248.8 814.2,219.7 816.9,236.9 819.6,221.1 822.4,217.6 825.1,207.3 827.8,234 830.5,220 833.3,201.3 836,235.5 838.7,236.8 841.4,235.9 844.1,223.2 846.9,229.7 849.6,223.9 852.3,252.2 855,245.9 857.8,201.1 860.5,263.5 863.2,284 865.9,223.4 868.7,201.1 871.4,233.6 874.1,225.2 876.8,233.2 879.5,201.1 882.3,215.3 885,201.1 887.7,265 890.4,244.9 893.2,254.5 895.9,243.2 898.6,213.7"/>
<circle cx="38.6" cy="399" r="9.1" fill="#1f78b4"/>
<text class="lg" x="57.56" y="408.3" textLength="147.81" lengthAdjust="spacingAndGlyphs">app1apacheeks</text>
<circle cx="232.3" cy="399" r="9.1" fill="#a6cee3"/>
<text class="lg" x="250.73" y="408.3" textLength="95.63" lengthAdjust="spacingAndGlyphs">appdev02</text>
<circle cx="372.3" cy="399" r="9.1" fill="#2da02a"/>
<text class="lg" x="390.41" y="408.3" textLength="114.2" lengthAdjust="spacingAndGlyphs">localapache</text>
</svg></section>
<section class="panel" style="left:1907.5px;top:747.5px;width:940px;height:450px">
<svg width="940" height="450" viewBox="0 0 940 450">
<text class="pt" x="21.34" y="40.2" textLength="331.52" lengthAdjust="spacingAndGlyphs">CPU Children User Utilization</text>
<line x1="106.3" x2="899.3" y1="83" y2="83" stroke="#33476a" stroke-width="2"/>
<text class="tk" x="58.34" y="88.3" textLength="38.76" lengthAdjust="spacingAndGlyphs">200</text>
<line x1="106.3" x2="899.3" y1="133.2" y2="133.2" stroke="#33476a" stroke-width="2"/>
<text class="tk" x="61.4" y="138.55" textLength="35.62" lengthAdjust="spacingAndGlyphs">150</text>
<line x1="106.3" x2="899.3" y1="183.5" y2="183.5" stroke="#33476a" stroke-width="2"/>
<text class="tk" x="60.56" y="188.8" textLength="36.48" lengthAdjust="spacingAndGlyphs">100</text>
<line x1="106.3" x2="899.3" y1="233.8" y2="233.8" stroke="#33476a" stroke-width="2"/>
<text class="tk" x="71.79" y="239.05" textLength="25.26" lengthAdjust="spacingAndGlyphs">50</text>
<line x1="106.3" x2="899.3" y1="284" y2="284" stroke="#33476a" stroke-width="2"/>
<text class="tk" x="84.07" y="289.3" textLength="12.98" lengthAdjust="spacingAndGlyphs">0</text>
<text class="yt" transform="translate(47.6 183.5) rotate(-90)" x="-49.91" y="0" textLength="98.79" lengthAdjust="spacingAndGlyphs">Utilization</text>
<line x1="188.5" x2="188.5" y1="284" y2="292" stroke="#33476a" stroke-width="2"/>
<text class="tk" x="159.09" y="308.6" textLength="56.76" lengthAdjust="spacingAndGlyphs">09:00</text>
<text class="tk" x="158.17" y="333.7" textLength="34.27" lengthAdjust="spacingAndGlyphs">PM</text>
<line x1="286.2" x2="286.2" y1="284" y2="292" stroke="#33476a" stroke-width="2"/>
<text class="tk" x="251.79" y="308.6" textLength="53.82" lengthAdjust="spacingAndGlyphs">12:00</text>
<text class="tk" x="253.4" y="333.7" textLength="62.46" lengthAdjust="spacingAndGlyphs">AM 20</text>
<text class="tk" x="251.75" y="358.8" textLength="67.77" lengthAdjust="spacingAndGlyphs">May 21</text>
<line x1="383.9" x2="383.9" y1="284" y2="292" stroke="#33476a" stroke-width="2"/>
<text class="tk" x="354.49" y="308.6" textLength="56.76" lengthAdjust="spacingAndGlyphs">03:00</text>
<text class="tk" x="355.4" y="333.7" textLength="32.23" lengthAdjust="spacingAndGlyphs">AM</text>
<line x1="481.6" x2="481.6" y1="284" y2="292" stroke="#33476a" stroke-width="2"/>
<text class="tk" x="452.19" y="308.6" textLength="56.76" lengthAdjust="spacingAndGlyphs">06:00</text>
<text class="tk" x="453.1" y="333.7" textLength="32.23" lengthAdjust="spacingAndGlyphs">AM</text>
<line x1="579.3" x2="579.3" y1="284" y2="292" stroke="#33476a" stroke-width="2"/>
<text class="tk" x="549.89" y="308.6" textLength="56.76" lengthAdjust="spacingAndGlyphs">09:00</text>
<text class="tk" x="550.8" y="333.7" textLength="32.23" lengthAdjust="spacingAndGlyphs">AM</text>
<line x1="677" x2="677" y1="284" y2="292" stroke="#33476a" stroke-width="2"/>
<text class="tk" x="648.69" y="308.6" textLength="53.82" lengthAdjust="spacingAndGlyphs">12:00</text>
<text class="tk" x="648.47" y="333.7" textLength="34.27" lengthAdjust="spacingAndGlyphs">PM</text>
<line x1="774.7" x2="774.7" y1="284" y2="292" stroke="#33476a" stroke-width="2"/>
<text class="tk" x="745.29" y="308.6" textLength="56.76" lengthAdjust="spacingAndGlyphs">03:00</text>
<text class="tk" x="744.37" y="333.7" textLength="34.27" lengthAdjust="spacingAndGlyphs">PM</text>
<line x1="872.4" x2="872.4" y1="284" y2="292" stroke="#33476a" stroke-width="2"/>
<text class="tk" x="842.99" y="308.6" textLength="56.76" lengthAdjust="spacingAndGlyphs">06:00</text>
<text class="tk" x="842.07" y="333.7" textLength="34.27" lengthAdjust="spacingAndGlyphs">PM</text>
<polyline fill="none" stroke="#1f78b4" stroke-width="2.2" stroke-linejoin="round" stroke-linecap="round" points="116.7,172.4 421.7,172.4 427.1,166.9 449.2,166.9 450.5,146.3 453.8,140.3 557,140.3 559,129.2 561.9,123.2 898.3,123.2"/>
<polyline fill="none" stroke="#a6cee3" stroke-width="2.2" stroke-linejoin="round" stroke-linecap="round" points="116.7,215.2 119.4,220.6 122.1,233.8 124.9,217 127.6,217 130.3,242.6 133,213.9 135.8,238.2 138.5,217 141.2,217 143.9,223.7 146.7,244.7 149.4,233.8 152.1,217 154.8,223.5 157.6,219.1 160.3,224.3 163,231.8 165.7,217 168.4,201.3 171.2,261.6 173.9,213.8 176.6,233.8 179.3,217 182.1,224.6 184.8,234.4 187.5,250.5 190.2,255.2 193,217 195.7,263.5 198.4,196.5 201.1,245.9 203.8,215.8 206.6,205.3 209.3,233.8 212,219.9 214.7,220.2 217.5,214.5 220.2,208.3 222.9,223.1 225.6,250.5 228.4,228.1 231.1,223 233.8,227.9 236.5,200.3 239.3,233.8 242,215.5 244.7,203.5 247.4,214.8 250.1,233.8 252.9,226.6 255.6,215.4 258.3,250.5 261,233.8 263.8,237 266.5,250.5 269.2,235 271.9,233.8 274.7,213.6 277.4,233.8 280.1,195.6 282.8,233.8 285.5,217 288.3,195.6 291,257.2 293.7,227.5 296.4,217 299.2,243.8 301.9,228.8 304.6,250.5 307.3,217 310.1,217 312.8,210.4 315.5,200.4 318.2,209 321,269.5 323.7,195.6 326.4,225.2 329.1,221.4 331.8,246.6 334.6,233.8 337.3,230.7 340,250.9 342.7,199.5 345.5,220.8 348.2,230 350.9,243.4 353.6,250.5 356.4,233.8 359.1,210.2 361.8,233.8 364.5,217 367.2,217 370,195.6 372.7,269.9 375.4,208.6 378.1,217 380.9,233.8 383.6,226.2 386.3,249.3 389,217 391.8,235.4 394.5,245.6 397.2,216.7 399.9,223 402.7,200.3 405.4,243 408.1,217 410.8,197.6 413.5,242.7 416.3,200.3 419,239.1 421.7,215.2 424.4,216.2 427.2,217.4 429.9,223.5 432.6,216.7 435.3,234.7 438.1,217 440.8,217 443.5,219.7 446.2,215.2 448.9,249 451.7,207.9 454.4,228.2 457.1,217 459.8,250.8 462.6,249.3 465.3,239.3 468,218.7 470.7,226.1 473.5,233.8 476.2,195.6 478.9,245.9 481.6,233.8 484.4,244.5 487.1,257.7 489.8,230.6 492.5,236.2 495.2,200.3 498,261.1 500.7,217 503.4,233.8 506.1,228.2 508.9,250.5 511.6,195.6 514.3,200.3 517,217 519.8,233.8 522.5,227.2 525.2,197.3 527.9,257.7 530.6,200.3 533.4,200.3 536.1,226 538.8,217 541.5,200.3 544.3,257.2 547,217.8 549.7,233.8 552.4,210.8 555.2,200.3 557.9,195.6 560.6,217 563.3,241.6 566.1,200.3 568.8,212.5 571.5,230.9 574.2,227.3 576.9,232.5 579.7,233.4 582.4,241.9 585.1,202.6 587.8,228.4 590.6,252.2 593.3,233.8 596,235.1 598.7,221.6 601.5,217 604.2,207.4 606.9,269.9 609.6,214.7 612.3,222 615.1,231.6 617.8,255 620.5,241.4 623.2,219.9 626,205.5 628.7,217 631.4,233.8 634.1,222.7 636.9,224.9 639.6,233.8 642.3,233.8 645,233.8 647.8,255.2 650.5,250.5 653.2,247.2 655.9,221.5 658.6,217 661.4,216.8 664.1,195.6 666.8,214.4 669.5,233.8 672.3,213.9 675,217 677.7,224.7 680.4,217.4 683.2,216.7 685.9,217 688.6,200.3 691.3,239.8 694,242.7 696.8,195.6 699.5,233.8 702.2,233.8 704.9,233.8 707.7,227.9 710.4,233.8 713.1,232.5 715.8,233.8 718.6,214 721.3,253 724,218.5 726.7,234.7 729.5,232.3 732.2,214.2 734.9,250.5 737.6,257.4 740.3,215.3 743.1,212 745.8,217 748.5,258 751.2,217 754,217 756.7,231 759.4,213 762.1,249 764.9,216.5 767.6,215.6 770.3,233.8 773,239.9 775.7,195.6 778.5,217 781.2,195.6 783.9,217 786.6,217.6 789.4,238.6 792.1,221.2 794.8,226.2 797.5,217 800.3,233.8 803,212.1 805.7,233.8 808.4,200.3 811.2,212.7 813.9,233.8 816.6,215.4 819.3,237.8 822,250.5 824.8,228.9 827.5,220.9 830.2,223.9 832.9,217 835.7,244.3 838.4,217 841.1,250.5 843.8,232.2 846.6,242.2 849.3,228.2 852,205 854.7,233.8 857.4,200.3 860.2,200.3 862.9,219.3 865.6,200.3 868.3,200.3 871.1,233.8 873.8,250.5 876.5,250.5 879.2,233.8 882,234.3 884.7,200.3 887.4,238.2 890.1,228.7 892.9,216 895.6,200.8 898.3,250.7"/>
<polyline fill="none" stroke="#2da02a" stroke-width="2.2" stroke-linejoin="round" stroke-linecap="round" points="116.7,259.3 119.4,201.1 122.1,249 124.9,201.1 127.6,284 130.3,250.6 133,206.6 135.8,229.8 138.5,201.1 141.2,201.5 143.9,201.1 146.7,201.1 149.4,201.1 152.1,243.9 154.8,201.1 157.6,224.3 160.3,232.1 163,201.1 165.7,209.3 168.4,201.1 171.2,233.7 173.9,233.6 176.6,201.1 179.3,254.8 182.1,218 184.8,229.9 187.5,205.5 190.2,202 193,251.5 195.7,260.2 198.4,205.9 201.1,264.2 203.8,209.1 206.6,228.5 209.3,229.9 212,284 214.7,213 217.5,252.9 220.2,284 222.9,257.8 225.6,260.9 228.4,201.1 231.1,201.1 233.8,238.4 236.5,232.1 239.3,235.3 242,213.4 244.7,230.4 247.4,208.9 250.1,204.9 252.9,204.9 255.6,206.6 258.3,250.7 261,246.2 263.8,284 266.5,253.7 269.2,201.1 271.9,201.1 274.7,213 277.4,217.5 280.1,257.4 282.8,216.7 285.5,251.8 288.3,203.2 291,255.2 293.7,201.1 296.4,201.1 299.2,284 301.9,201.1 304.6,225.9 307.3,284 310.1,241 312.8,223.3 315.5,261.6 318.2,225.4 321,222.9 323.7,242.3 326.4,230.8 329.1,221.5 331.8,246.5 334.6,204.3 337.3,232.2 340,201.1 342.7,201.1 345.5,284 348.2,237.5 350.9,202.9 353.6,262.7 356.4,284 359.1,201.1 361.8,211.1 364.5,210.9 367.2,284 370,226.2 372.7,209.2 375.4,232.6 378.1,262.4 380.9,201.1 383.6,226.9 386.3,224.5 389,201.2 391.8,247.8 394.5,213.5 397.2,211.1 399.9,284 402.7,255 405.4,223.1 408.1,235.5 410.8,252.3 413.5,284 416.3,235.8 419,201.1 421.7,237.4 424.4,201.1 427.2,209.8 429.9,263.8 432.6,201.1 435.3,255.5 438.1,201.1 440.8,221.6 443.5,230.2 446.2,221.2 448.9,284 451.7,284 454.4,243.2 457.1,242.5 459.8,244.7 462.6,220.7 465.3,253.9 468,237.7 470.7,201.1 473.5,201.1 476.2,201.1 478.9,201.1 481.6,255.2 484.4,284 487.1,209.6 489.8,201.1 492.5,208.5 495.2,201.1 498,201.1 500.7,204 503.4,217.7 506.1,234.1 508.9,284 511.6,234.3 514.3,201.1 517,239 519.8,228.6 522.5,215.5 525.2,221.2 527.9,284 530.6,284 533.4,201.1 536.1,258.6 538.8,242.8 541.5,244.3 544.3,204.5 547,241.1 549.7,201.1 552.4,249.1 555.2,217.1 557.9,201.1 560.6,227.7 563.3,201.1 566.1,211.1 568.8,211.2 571.5,210.5 574.2,201.1 576.9,228.4 579.7,201.1 582.4,257.1 585.1,201.1 587.8,202.2 590.6,247 593.3,203.1 596,284 598.7,220.2 601.5,265.4 604.2,239.8 606.9,242.3 609.6,246.3 612.3,215.7 615.1,240.2 617.8,223.1 620.5,261.1 623.2,284 626,201.1 628.7,201.1 631.4,284 634.1,212.9 636.9,201.1 639.6,260.1 642.3,210.3 645,230.5 647.8,201.1 650.5,264 653.2,207.7 655.9,201.5 658.6,256.7 661.4,201.1 664.1,216.8 666.8,284 669.5,232.1 672.3,223.7 675,240 677.7,250 680.4,250.5 683.2,284 685.9,201.1 688.6,226.6 691.3,241.5 694,259.3 696.8,284 699.5,265.7 702.2,201.1 704.9,208.3 707.7,237.7 710.4,242.6 713.1,255.1 715.8,202.5 718.6,201.1 721.3,284 724,201.1 726.7,201.1 729.5,209 732.2,250.7 734.9,201.1 737.6,237.8 740.3,240.6 743.1,244.3 745.8,201.1 748.5,202.7 751.2,222.1 754,201.1 756.7,211.5 759.4,255 762.1,201.1 764.9,223 767.6,231.9 770.3,202.6 773,239.8 775.7,225.2 778.5,261.9 781.2,205.9 783.9,201.1 786.6,261 789.4,221.4 792.1,251.8 794.8,249.4 797.5,203.5 800.3,209.5 803,234.9 805.7,208.5 808.4,257.3 811.2,224.2 813.9,238.7 816.6,201.1 819.3,265.2 822,255 824.8,247.5 827.5,201.1 830.2,226 832.9,258.6 835.7,262.6 838.4,248.3 841.1,284 843.8,261.7 846.6,284 849.3,204.9 852,219.2 854.7,218.9 857.4,254.2 860.2,209.7 862.9,262.4 865.6,211.7 868.3,226.5 871.1,250 873.8,213.5 876.5,223.2 879.2,232.5 882,284 884.7,205.6 887.4,201.1 890.1,254.2 892.9,211.9 895.6,212.6 898.3,213.7"/>
<circle cx="38.6" cy="399" r="9.1" fill="#1f78b4"/>
<text class="lg" x="57.56" y="408.3" textLength="147.81" lengthAdjust="spacingAndGlyphs">app1apacheeks</text>
<circle cx="232.3" cy="399" r="9.1" fill="#a6cee3"/>
<text class="lg" x="250.73" y="408.3" textLength="95.63" lengthAdjust="spacingAndGlyphs">appdev02</text>
<circle cx="372.3" cy="399" r="9.1" fill="#2da02a"/>
<text class="lg" x="390.41" y="408.3" textLength="114.2" lengthAdjust="spacingAndGlyphs">localapache</text>
</svg></section>
<section class="panel" style="left:0px;top:1212.2px;width:940px;height:450px">
<svg width="940" height="450" viewBox="0 0 940 450">
<text class="pt" x="20.3" y="40.2" textLength="230.54" lengthAdjust="spacingAndGlyphs">Idle Worker Threads</text>
<line x1="90.1" x2="899" y1="83" y2="83" stroke="#33476a" stroke-width="2"/>
<text class="tk" x="57.75" y="88.3" textLength="23.03" lengthAdjust="spacingAndGlyphs">10</text>
<line x1="90.1" x2="899" y1="183.5" y2="183.5" stroke="#33476a" stroke-width="2"/>
<text class="tk" x="68.07" y="188.8" textLength="12.88" lengthAdjust="spacingAndGlyphs">5</text>
<line x1="90.1" x2="899" y1="284" y2="284" stroke="#33476a" stroke-width="2"/>
<text class="tk" x="67.87" y="289.3" textLength="12.98" lengthAdjust="spacingAndGlyphs">0</text>
<text class="yt" transform="translate(47.6 183.5) rotate(-90)" x="-77.86" y="0" textLength="155.52" lengthAdjust="spacingAndGlyphs">Worker Threads</text>
<line x1="171.9" x2="171.9" y1="284" y2="292" stroke="#33476a" stroke-width="2"/>
<text class="tk" x="142.49" y="308.6" textLength="56.76" lengthAdjust="spacingAndGlyphs">09:00</text>
<text class="tk" x="141.57" y="333.7" textLength="34.27" lengthAdjust="spacingAndGlyphs">PM</text>
<line x1="271.9" x2="271.9" y1="284" y2="292" stroke="#33476a" stroke-width="2"/>
<text class="tk" x="237.53" y="308.6" textLength="53.82" lengthAdjust="spacingAndGlyphs">12:00</text>
<text class="tk" x="239.14" y="333.7" textLength="62.46" lengthAdjust="spacingAndGlyphs">AM 20</text>
<text class="tk" x="237.49" y="358.8" textLength="67.77" lengthAdjust="spacingAndGlyphs">May 21</text>
<line x1="372" x2="372" y1="284" y2="292" stroke="#33476a" stroke-width="2"/>
<text class="tk" x="342.57" y="308.6" textLength="56.76" lengthAdjust="spacingAndGlyphs">03:00</text>
<text class="tk" x="343.48" y="333.7" textLength="32.23" lengthAdjust="spacingAndGlyphs">AM</text>
<line x1="472" x2="472" y1="284" y2="292" stroke="#33476a" stroke-width="2"/>
<text class="tk" x="442.61" y="308.6" textLength="56.76" lengthAdjust="spacingAndGlyphs">06:00</text>
<text class="tk" x="443.52" y="333.7" textLength="32.23" lengthAdjust="spacingAndGlyphs">AM</text>
<line x1="572.1" x2="572.1" y1="284" y2="292" stroke="#33476a" stroke-width="2"/>
<text class="tk" x="542.65" y="308.6" textLength="56.76" lengthAdjust="spacingAndGlyphs">09:00</text>
<text class="tk" x="543.56" y="333.7" textLength="32.23" lengthAdjust="spacingAndGlyphs">AM</text>
<line x1="672.1" x2="672.1" y1="284" y2="292" stroke="#33476a" stroke-width="2"/>
<text class="tk" x="643.79" y="308.6" textLength="53.82" lengthAdjust="spacingAndGlyphs">12:00</text>
<text class="tk" x="643.57" y="333.7" textLength="34.27" lengthAdjust="spacingAndGlyphs">PM</text>
<line x1="772.1" x2="772.1" y1="284" y2="292" stroke="#33476a" stroke-width="2"/>
<text class="tk" x="742.73" y="308.6" textLength="56.76" lengthAdjust="spacingAndGlyphs">03:00</text>
<text class="tk" x="741.81" y="333.7" textLength="34.27" lengthAdjust="spacingAndGlyphs">PM</text>
<line x1="872.2" x2="872.2" y1="284" y2="292" stroke="#33476a" stroke-width="2"/>
<text class="tk" x="842.77" y="308.6" textLength="56.76" lengthAdjust="spacingAndGlyphs">06:00</text>
<text class="tk" x="841.85" y="333.7" textLength="34.27" lengthAdjust="spacingAndGlyphs">PM</text>
<polyline fill="none" stroke="#1f78b4" stroke-width="2.2" stroke-linejoin="round" stroke-linecap="round" points="97.7,103.1 100.5,103.1 103.3,103.1 106,103.1 108.8,103.1 111.6,103.1 114.4,103.1 117.2,103.1 120,103.1 122.8,103.1 125.6,103.1 128.4,103.1 131.1,103.1 133.9,103.1 136.7,103.1 139.5,103.1 142.3,103.1 145.1,103.1 147.9,103.1 150.7,103.1 153.5,103.1 156.2,103.1 159,103.1 161.8,103.1 164.6,103.1 167.4,103.1 170.2,103.1 173,103.1 175.8,103.1 178.5,103.1 181.3,103.1 184.1,103.1 186.9,103.1 189.7,103.1 192.5,103.1 195.3,103.1 198.1,103.1 200.9,103.1 203.6,103.1 206.4,103.1 209.2,103.1 212,103.1 214.8,103.1 217.6,103.1 220.4,103.1 223.2,103.1 226,103.1 228.7,103.1 231.5,103.1 234.3,103.1 237.1,103.1 239.9,103.1 242.7,103.1 245.5,103.1 248.3,103.1 251.1,103.1 253.8,103.1 256.6,103.1 259.4,103.1 262.2,103.1 265,103.1 267.8,107.1 270.6,103.1 273.4,103.1 276.1,103.1 278.9,103.1 281.7,103.1 284.5,103.1 287.3,103.1 290.1,103.1 292.9,103.1 295.7,103.1 298.5,103.1 301.2,103.1 304,103.1 306.8,103.1 309.6,103.1 312.4,103.1 315.2,103.1 318,103.1 320.8,103.1 323.6,103.1 326.3,103.1 329.1,103.1 331.9,103.1 334.7,103.1 337.5,103.1 340.3,103.1 343.1,103.1 345.9,103.1 348.7,103.1 351.4,103.1 354.2,103.1 357,103.1 359.8,103.1 362.6,103.1 365.4,103.1 368.2,103.1 371,103.1 373.7,103.1 376.5,103.1 379.3,103.1 382.1,103.1 384.9,103.1 387.7,103.1 390.5,103.1 393.3,103.1 396.1,103.1 398.8,103.1 401.6,103.1 404.4,103.1 407.2,103.1 410,103.1 412.8,103.1 415.6,103.1 418.4,103.1 421.2,103.1 423.9,103.1 426.7,103.1 429.5,103.1 432.3,103.1 435.1,103.1 437.9,103.1 440.7,103.1 443.5,103.1 446.3,103.1 449,103.1 451.8,107.1 454.6,103.1 457.4,103.1 460.2,103.1 463,103.1 465.8,103.1 468.6,103.1 471.3,103.1 474.1,103.1 476.9,103.1 479.7,103.1 482.5,103.1 485.3,103.1 488.1,103.1 490.9,103.1 493.7,103.1 496.4,103.1 499.2,103.1 502,103.1 504.8,103.1 507.6,103.1 510.4,103.1 513.2,103.1 516,103.1 518.8,103.1 521.5,103.1 524.3,103.1 527.1,103.1 529.9,103.1 532.7,103.1 535.5,103.1 538.3,103.1 541.1,103.1 543.9,103.1 546.6,103.1 549.4,103.1 552.2,103.1 555,103.1 557.8,103.1 560.6,103.1 563.4,103.1 566.2,103.1 568.9,103.1 571.7,103.1 574.5,103.1 577.3,103.1 580.1,103.1 582.9,103.1 585.7,103.1 588.5,103.1 591.3,103.1 594,103.1 596.8,103.1 599.6,103.1 602.4,103.1 605.2,103.1 608,103.1 610.8,103.1 613.6,103.1 616.4,103.1 619.1,103.1 621.9,103.1 624.7,103.1 627.5,103.1 630.3,103.1 633.1,103.1 635.9,103.1 638.7,103.1 641.5,103.1 644.2,103.1 647,103.1 649.8,103.1 652.6,103.1 655.4,103.1 658.2,107.1 661,103.1 663.8,103.1 666.5,103.1 669.3,103.1 672.1,103.1 674.9,103.1 677.7,103.1 680.5,103.1 683.3,103.1 686.1,103.1 688.9,103.1 691.6,103.1 694.4,103.1 697.2,103.1 700,103.1 702.8,103.1 705.6,103.1 708.4,103.1 711.2,103.1 714,103.1 716.7,103.1 719.5,103.1 722.3,103.1 725.1,103.1 727.9,103.1 730.7,107.1 733.5,103.1 736.3,103.1 739.1,103.1 741.8,103.1 744.6,103.1 747.4,103.1 750.2,103.1 753,103.1 755.8,103.1 758.6,103.1 761.4,103.1 764.1,103.1 766.9,103.1 769.7,103.1 772.5,103.1 775.3,103.1 778.1,107.1 780.9,103.1 783.7,103.1 786.5,103.1 789.2,103.1 792,103.1 794.8,103.1 797.6,103.1 800.4,103.1 803.2,103.1 806,103.1 808.8,103.1 811.6,103.1 814.3,103.1 817.1,103.1 819.9,103.1 822.7,103.1 825.5,103.1 828.3,103.1 831.1,103.1 833.9,103.1 836.7,103.1 839.4,103.1 842.2,103.1 845,103.1 847.8,103.1 850.6,103.1 853.4,103.1 856.2,103.1 859,107.1 861.7,103.1 864.5,103.1 867.3,103.1 870.1,103.1 872.9,103.1 875.7,103.1 878.5,103.1 881.3,103.1 884.1,103.1 886.8,103.1 889.6,103.1 892.4,103.1 895.2,103.1 898,103.1"/>
<polyline fill="none" stroke="#a6cee3" stroke-width="2.2" stroke-linejoin="round" stroke-linecap="round" points="97.7,157.2 100.5,136.2 103.3,163.6 106,172.6 108.8,185.1 111.6,135.5 114.4,170.3 117.2,161.3 120,148.4 122.8,148.2 125.6,191.5 128.4,108.9 131.1,191.5 133.9,97.1 136.7,151.9 139.5,157.2 142.3,112.2 145.1,157.4 147.9,127.7 150.7,150.6 153.5,120 156.2,130.1 159,174.2 161.8,153.9 164.6,137.1 167.4,155.4 170.2,191.5 173,97.1 175.8,191.5 178.5,175.8 181.3,169.4 184.1,127.2 186.9,110.3 189.7,164.1 192.5,151.7 195.3,141.8 198.1,157.8 200.9,142.2 203.6,203.6 206.4,128.2 209.2,143.7 212,191.5 214.8,132.1 217.6,148 220.4,133.7 223.2,171 226,172.1 228.7,162.7 231.5,129.6 234.3,173.1 237.1,157.9 239.9,116.7 242.7,175.3 245.5,160.5 248.3,145.6 251.1,143.1 253.8,123.7 256.6,175.5 259.4,176.5 262.2,141.5 265,133.6 267.8,186.9 270.6,147.1 273.4,140 276.1,144 278.9,146.3 281.7,153.8 284.5,164.5 287.3,164.4 290.1,114.5 292.9,183.9 295.7,106.9 298.5,191 301.2,97.1 304,191.5 306.8,97.1 309.6,186.3 312.4,203.6 315.2,151.6 318,161.7 320.8,97.1 323.6,162.4 326.3,174.5 329.1,123.7 331.9,137.3 334.7,177.8 337.5,125.3 340.3,152.3 343.1,126.2 345.9,136.6 348.7,150.7 351.4,156.1 354.2,122.9 357,147.1 359.8,183.1 362.6,149.7 365.4,158.2 368.2,150.3 371,97.1 373.7,173.1 376.5,128.2 379.3,113.4 382.1,145.4 384.9,137.5 387.7,119.1 390.5,151 393.3,141.7 396.1,132.5 398.8,141.9 401.6,165.3 404.4,169.9 407.2,143.3 410,115 412.8,162.4 415.6,201.6 418.4,147 421.2,154.8 423.9,191.5 426.7,123.7 429.5,161 432.3,181.6 435.1,124.7 437.9,154.7 440.7,136.1 443.5,165.2 446.3,137.1 449,161.7 451.8,117.5 454.6,153.3 457.4,179.1 460.2,132.6 463,150.1 465.8,151.4 468.6,178.5 471.3,112.6 474.1,175.3 476.9,101 479.7,177 482.5,137.6 485.3,151.3 488.1,142.5 490.9,97.1 493.7,177.8 496.4,97.1 499.2,150 502,163.2 504.8,112.5 507.6,137.6 510.4,127.4 513.2,185.3 516,123.9 518.8,164 521.5,145.7 524.3,150.9 527.1,145.3 529.9,109.8 532.7,149.5 535.5,190.9 538.3,104.4 541.1,158.1 543.9,140.9 546.6,191.5 549.4,124 552.2,166.3 555,118.7 557.8,145 560.6,128.2 563.4,162 566.2,186.8 568.9,112.3 571.7,147.8 574.5,155.1 577.3,158.3 580.1,165.2 582.9,184.2 585.7,164.5 588.5,143.9 591.3,109.8 594,147.7 596.8,108.7 599.6,183.1 602.4,106.5 605.2,169.5 608,105.5 610.8,130.4 613.6,151.5 616.4,142.8 619.1,119.5 621.9,174.7 624.7,190.9 627.5,114.7 630.3,104.9 633.1,191.5 635.9,124.8 638.7,182.4 641.5,143.7 644.2,172.4 647,118.8 649.8,168.9 652.6,145.5 655.4,173.9 658.2,121.8 661,167.2 663.8,150.4 666.5,148.2 669.3,181.9 672.1,137.5 674.9,188.9 677.7,140.1 680.5,154.8 683.3,154.7 686.1,149.9 688.9,162.7 691.6,130.5 694.4,152.5 697.2,157.1 700,217.7 702.8,162.8 705.6,145.7 708.4,155.3 711.2,188.1 714,97.1 716.7,173.5 719.5,155.6 722.3,137.6 725.1,191.5 727.9,141 730.7,141.9 733.5,155.3 736.3,143.4 739.1,159.1 741.8,152.6 744.6,146.7 747.4,143.9 750.2,174.6 753,132.5 755.8,144.7 758.6,163 761.4,156.4 764.1,141.8 766.9,121.1 769.7,129.1 772.5,172.7 775.3,152.7 778.1,159.2 780.9,134.6 783.7,155 786.5,137.4 789.2,120.5 792,150.3 794.8,137 797.6,142.5 800.4,167.5 803.2,145.5 806,154.1 808.8,158.2 811.6,108.6 814.3,146.3 817.1,191.5 819.9,148.1 822.7,150.4 825.5,147.5 828.3,168 831.1,203.6 833.9,157 836.7,201.6 839.4,130.4 842.2,154.7 845,159.8 847.8,151.7 850.6,147.1 853.4,174.8 856.2,153.3 859,132 861.7,129 864.5,191.5 867.3,97.1 870.1,186 872.9,116.9 875.7,189.5 878.5,118.1 881.3,155.5 884.1,146.8 886.8,154.7 889.6,151.2 892.4,128.5 895.2,171.1 898,146.3"/>
<polyline fill="none" stroke="#2da02a" stroke-width="2.2" stroke-linejoin="round" stroke-linecap="round" points="97.7,103.1 100.5,111 103.3,163.8 106,109 108.8,167.4 111.6,103.1 114.4,152.1 117.2,103.1 120,103.1 122.8,147 125.6,179.1 128.4,103.1 131.1,146.5 133.9,110.8 136.7,103.1 139.5,197.7 142.3,103.1 145.1,152.9 147.9,221.7 150.7,153.9 153.5,169.6 156.2,119.8 159,169.6 161.8,134.8 164.6,115.7 167.4,233.8 170.2,116.7 173,103.1 175.8,179.2 178.5,184.2 181.3,103.1 184.1,133.9 186.9,103.1 189.7,103.9 192.5,194.9 195.3,156.8 198.1,177.8 200.9,124.3 203.6,177.6 206.4,204.1 209.2,115.3 212,175.7 214.8,114.7 217.6,103.1 220.4,134.6 223.2,113 226,222.9 228.7,103.1 231.5,157.2 234.3,103.1 237.1,161.4 239.9,106.2 242.7,156.1 245.5,122.1 248.3,103.1 251.1,115.5 253.8,172.1 256.6,237.2 259.4,161 262.2,188.2 265,189.9 267.8,205.5 270.6,103.1 273.4,183.9 276.1,161.3 278.9,177.2 281.7,182.4 284.5,174 287.3,166.4 290.1,133.1 292.9,103.1 295.7,156.8 298.5,158.3 301.2,103.1 304,191.7 306.8,141 309.6,114.6 312.4,110.9 315.2,109.8 318,103.1 320.8,151.5 323.6,118.3 326.3,103.1 329.1,103.1 331.9,178 334.7,170.8 337.5,103.1 340.3,128 343.1,162.9 345.9,142.8 348.7,177.6 351.4,116.3 354.2,175 357,103.1 359.8,165.1 362.6,202 365.4,140.4 368.2,103.1 371,161.7 373.7,123 376.5,103.1 379.3,174.9 382.1,108.3 384.9,230.5 387.7,103.1 390.5,174.6 393.3,138.5 396.1,125.6 398.8,199.7 401.6,173.7 404.4,123.2 407.2,138.3 410,103.1 412.8,108.6 415.6,149.3 418.4,103.1 421.2,126.2 423.9,103.1 426.7,165.7 429.5,118.2 432.3,116.4 435.1,103.1 437.9,198.1 440.7,141.2 443.5,103.1 446.3,223.7 449,165.4 451.8,119.7 454.6,103.1 457.4,195.9 460.2,144.6 463,103.1 465.8,132.6 468.6,173.1 471.3,159.4 474.1,114.6 476.9,165.9 479.7,188.3 482.5,103.1 485.3,103.1 488.1,103.1 490.9,167.7 493.7,169.6 496.4,156.1 499.2,188.7 502,108.2 504.8,135.7 507.6,233.8 510.4,171.4 513.2,176.2 516,139.5 518.8,223.7 521.5,198.2 524.3,103.1 527.1,177.6 529.9,140.7 532.7,188.2 535.5,103.1 538.3,153.6 541.1,103.1 543.9,103.1 546.6,177.8 549.4,123.3 552.2,147.1 555,103.1 557.8,103.1 560.6,169.1 563.4,146.9 566.2,150.7 568.9,103.1 571.7,103.1 574.5,169.1 577.3,143.4 580.1,152.4 582.9,103.1 585.7,243.8 588.5,192.5 591.3,122.6 594,145.5 596.8,103.1 599.6,235.8 602.4,159.1 605.2,148.8 608,120.2 610.8,198.6 613.6,127.5 616.4,134.4 619.1,103.1 621.9,103.1 624.7,136.1 627.5,161.8 630.3,243.8 633.1,195.2 635.9,156.3 638.7,150.3 641.5,179 644.2,223.7 647,198.3 649.8,158.1 652.6,103.1 655.4,169.4 658.2,200.1 661,110.2 663.8,123.8 666.5,142.2 669.3,103.4 672.1,191.7 674.9,103.1 677.7,105.2 680.5,167 683.3,185 686.1,145.2 688.9,121.7 691.6,129.6 694.4,157.4 697.2,103.1 700,154.6 702.8,172.1 705.6,181.4 708.4,141.1 711.2,181.7 714,103.1 716.7,223.7 719.5,103.1 722.3,141.6 725.1,126.7 727.9,144.8 730.7,223.7 733.5,112.8 736.3,187.8 739.1,106.7 741.8,178.1 744.6,122.7 747.4,103.1 750.2,103.1 753,103.1 755.8,118.9 758.6,154.7 761.4,103.1 764.1,147.2 766.9,153.6 769.7,243.8 772.5,126.3 775.3,162.3 778.1,104.5 780.9,166.5 783.7,103.1 786.5,103.1 789.2,143.2 792,107.9 794.8,152.2 797.6,103.1 800.4,157.2 803.2,112.1 806,158.8 808.8,223.7 811.6,103.1 814.3,103.1 817.1,103.1 819.9,136.4 822.7,128.1 825.5,180.9 828.3,165.4 831.1,140.6 833.9,103.1 836.7,129.3 839.4,126.9 842.2,135.5 845,103.1 847.8,131.7 850.6,147.8 853.4,167.6 856.2,103.1 859,168.1 861.7,126.7 864.5,124.5 867.3,178 870.1,103.1 872.9,103.1 875.7,154.3 878.5,120.8 881.3,106.3 884.1,112.9 886.8,141.4 889.6,160 892.4,103.1 895.2,103.1 898,103.1"/>
<circle cx="38.6" cy="399" r="9.1" fill="#1f78b4"/>
<text class="lg" x="57.56" y="408.3" textLength="147.81" lengthAdjust="spacingAndGlyphs">app1apacheeks</text>
<circle cx="232.3" cy="399" r="9.1" fill="#a6cee3"/>
<text class="lg" x="250.73" y="408.3" textLength="95.63" lengthAdjust="spacingAndGlyphs">appdev02</text>
<circle cx="372.3" cy="399" r="9.1" fill="#2da02a"/>
<text class="lg" x="390.41" y="408.3" textLength="114.2" lengthAdjust="spacingAndGlyphs">localapache</text>
</svg></section>
<section class="panel" style="left:953.5px;top:1212.2px;width:701.9px;height:450px">
<svg width="701.9" height="450" viewBox="0 0 701.9 450">
<text class="pt" x="20.59" y="40.2" textLength="211.77" lengthAdjust="spacingAndGlyphs">Load Average - 1m</text>
<line x1="81.3" x2="654.1" y1="83" y2="83" stroke="#33476a" stroke-width="2"/>
<text class="tk" x="59.46" y="88.3" textLength="12.32" lengthAdjust="spacingAndGlyphs">4</text>
<line x1="81.3" x2="654.1" y1="183.5" y2="183.5" stroke="#33476a" stroke-width="2"/>
<text class="tk" x="59.55" y="188.8" textLength="12.83" lengthAdjust="spacingAndGlyphs">2</text>
<line x1="81.3" x2="654.1" y1="284" y2="284" stroke="#33476a" stroke-width="2"/>
<text class="tk" x="59.07" y="289.3" textLength="12.98" lengthAdjust="spacingAndGlyphs">0</text>
<text class="yt" transform="translate(47.6 183.5) rotate(-90)" x="-49.91" y="0" textLength="98.79" lengthAdjust="spacingAndGlyphs">Utilization</text>
<line x1="143.8" x2="143.8" y1="284" y2="292" stroke="#33476a" stroke-width="2"/>
<text class="tk" x="114.34" y="308.6" textLength="56.76" lengthAdjust="spacingAndGlyphs">09:00</text>
<text class="tk" x="113.42" y="333.7" textLength="34.27" lengthAdjust="spacingAndGlyphs">PM</text>
<line x1="213.9" x2="213.9" y1="284" y2="292" stroke="#33476a" stroke-width="2"/>
<text class="tk" x="179.46" y="308.6" textLength="53.82" lengthAdjust="spacingAndGlyphs">12:00</text>
<text class="tk" x="181.07" y="333.7" textLength="62.46" lengthAdjust="spacingAndGlyphs">AM 20</text>
<text class="tk" x="179.42" y="358.8" textLength="67.77" lengthAdjust="spacingAndGlyphs">May 21</text>
<line x1="284" x2="284" y1="284" y2="292" stroke="#33476a" stroke-width="2"/>
<text class="tk" x="254.58" y="308.6" textLength="56.76" lengthAdjust="spacingAndGlyphs">03:00</text>
<text class="tk" x="255.49" y="333.7" textLength="32.23" lengthAdjust="spacingAndGlyphs">AM</text>
<line x1="354.1" x2="354.1" y1="284" y2="292" stroke="#33476a" stroke-width="2"/>
<text class="tk" x="324.7" y="308.6" textLength="56.76" lengthAdjust="spacingAndGlyphs">06:00</text>
<text class="tk" x="325.61" y="333.7" textLength="32.23" lengthAdjust="spacingAndGlyphs">AM</text>
<line x1="424.2" x2="424.2" y1="284" y2="292" stroke="#33476a" stroke-width="2"/>
<text class="tk" x="394.82" y="308.6" textLength="56.76" lengthAdjust="spacingAndGlyphs">09:00</text>
<text class="tk" x="395.73" y="333.7" textLength="32.23" lengthAdjust="spacingAndGlyphs">AM</text>
<line x1="494.4" x2="494.4" y1="284" y2="292" stroke="#33476a" stroke-width="2"/>
<text class="tk" x="466.04" y="308.6" textLength="53.82" lengthAdjust="spacingAndGlyphs">12:00</text>
<text class="tk" x="465.82" y="333.7" textLength="34.27" lengthAdjust="spacingAndGlyphs">PM</text>
<line x1="564.5" x2="564.5" y1="284" y2="292" stroke="#33476a" stroke-width="2"/>
<text class="tk" x="535.06" y="308.6" textLength="56.76" lengthAdjust="spacingAndGlyphs">03:00</text>
<text class="tk" x="534.14" y="333.7" textLength="34.27" lengthAdjust="spacingAndGlyphs">PM</text>
<line x1="634.6" x2="634.6" y1="284" y2="292" stroke="#33476a" stroke-width="2"/>
<text class="tk" x="605.18" y="308.6" textLength="56.76" lengthAdjust="spacingAndGlyphs">06:00</text>
<text class="tk" x="604.26" y="333.7" textLength="34.27" lengthAdjust="spacingAndGlyphs">PM</text>
<polyline fill="none" stroke="#1f78b4" stroke-width="2.2" stroke-linejoin="round" stroke-linecap="round" points="92.1,276.6 94.1,276.7 96,276.4 98,274.2 100,276.6 101.9,278.4 103.9,275.6 105.8,279.3 107.8,279.7 109.7,278.5 111.7,275.8 113.6,274.8 115.6,278.7 117.5,279.8 119.5,274 121.5,280 123.4,278.8 125.4,280.1 127.3,277.7 129.3,275.9 131.2,276.6 133.2,277.9 135.1,278 137.1,277.4 139,279.9 141,276.3 143,277.3 144.9,272.3 146.9,271.4 148.8,274.9 150.8,278.9 152.7,279.6 154.7,276.4 156.6,279.6 158.6,279.9 160.5,275.4 162.5,259.2 164.5,257.6 166.4,275.3 168.4,278.6 170.3,274.1 172.3,273.1 174.2,274.6 176.2,278.7 178.1,280.3 180.1,278.2 182,275 184,276.9 186,277.2 187.9,278.7 189.9,260.5 191.8,275 193.8,277.8 195.7,278.2 197.7,274.5 199.6,273.4 201.6,274 203.6,279.2 205.5,277.6 207.5,275.6 209.4,279.6 211.4,280.4 213.3,276.4 215.3,276.5 217.2,273.4 219.2,278.9 221.1,277.5 223.1,276.5 225.1,273.3 227,274.5 229,277.8 230.9,280.2 232.9,277.1 234.8,279.4 236.8,278.3 238.7,279.6 240.7,276.6 242.6,260.8 244.6,277.8 246.6,279.2 248.5,277.2 250.5,276.8 252.4,278 254.4,276.5 256.3,275.6 258.3,278.6 260.2,279.9 262.2,280.5 264.1,275.9 266.1,278.6 268.1,279.4 270,276.5 272,276.8 273.9,280.3 275.9,280 277.8,279.1 279.8,280.3 281.7,280.3 283.7,276.9 285.6,280.2 287.6,278.7 289.6,277.6 291.5,275.7 293.5,279.2 295.4,280.1 297.4,279.5 299.3,276.1 301.3,275.8 303.2,277.9 305.2,271.4 307.1,276.2 309.1,279.7 311.1,278.1 313,275.9 315,273.6 316.9,278.3 318.9,278.1 320.8,277.9 322.8,279.6 324.7,280 326.7,277.8 328.6,279.4 330.6,278.8 332.6,277.4 334.5,277.9 336.5,277 338.4,278.7 340.4,275.6 342.3,275.1 344.3,274.5 346.2,277.7 348.2,278.1 350.1,279.2 352.1,278.4 354.1,279.3 356,278.3 358,277.2 359.9,279.9 361.9,272.7 363.8,276.6 365.8,279.3 367.7,279.5 369.7,278 371.6,280.2 373.6,278.1 375.6,274.4 377.5,277.3 379.5,256.5 381.4,280.3 383.4,277.8 385.3,279.4 387.3,279.9 389.2,280.3 391.2,275.5 393.1,272.9 395.1,280.1 397.1,274.9 399,278.1 401,280.4 402.9,279.4 404.9,280.2 406.8,274.1 408.8,276 410.7,276.3 412.7,274.9 414.6,272 416.6,274.6 418.6,280.3 420.5,277.9 422.5,269.7 424.4,277.9 426.4,278.2 428.3,280.4 430.3,275.2 432.2,272.8 434.2,275.1 436.1,276.7 438.1,267.1 440.1,274.5 442,277.5 444,279.9 445.9,274.5 447.9,277.4 449.8,277.2 451.8,279.8 453.7,280.4 455.7,280.1 457.6,277 459.6,279 461.6,279.7 463.5,278.8 465.5,277.8 467.4,280.2 469.4,278.7 471.3,280.2 473.3,279 475.2,279 477.2,279 479.1,280.4 481.1,276.7 483.1,280.2 485,276.4 487,277.7 488.9,278.7 490.9,280.4 492.8,275.6 494.8,278.5 496.7,279.9 498.7,277.4 500.6,279.8 502.6,275.4 504.6,265.4 506.5,278.1 508.5,279.3 510.4,278.3 512.4,279.9 514.3,278.6 516.3,277.2 518.2,274.5 520.2,276.3 522.1,275.5 524.1,278.2 526.1,280.4 528,277 530,276.9 531.9,278.6 533.9,277.8 535.8,279.7 537.8,278.4 539.7,279.6 541.7,275.3 543.6,277.6 545.6,280.4 547.6,274.5 549.5,275.9 551.5,280.2 553.4,270.9 555.4,275.6 557.3,279.9 559.3,277.7 561.2,279 563.2,274.1 565.1,275.5 567.1,276.1 569.1,273.4 571,267.4 573,275.2 574.9,276.9 576.9,272.7 578.8,279.3 580.8,279.3 582.7,280.1 584.7,279.6 586.6,278.4 588.6,279.1 590.6,279.5 592.5,276.5 594.5,278.9 596.4,280.2 598.4,276.3 600.3,280.3 602.3,277.5 604.2,277.5 606.2,277.9 608.1,274.3 610.1,273 612.1,276.6 614,279.7 616,278.6 617.9,280.2 619.9,279.3 621.8,277.6 623.8,277 625.7,280.2 627.7,280 629.6,280.3 631.6,280.1 633.6,279.1 635.5,275.7 637.5,278.5 639.4,279.6 641.4,278.5 643.3,278.5 645.3,279.6 647.2,277.2 649.2,279.3 651.1,275.7 653.1,276.1"/>
<polyline fill="none" stroke="#a6cee3" stroke-width="2.2" stroke-linejoin="round" stroke-linecap="round" points="92.1,222 94.1,212.7 96,233.3 98,216.9 100,217.5 101.9,224.3 103.9,224.8 105.8,228.5 107.8,228.6 109.7,280 111.7,232.9 113.6,228.8 115.6,228.9 117.5,226.4 119.5,226.1 121.5,251.6 123.4,209.9 125.4,226.9 127.3,208 129.3,237.1 131.2,169.9 133.2,234.7 135.1,220.5 137.1,173.4 139,239 141,260.9 143,248.3 144.9,248.5 146.9,196.2 148.8,216.1 150.8,245.4 152.7,269.5 154.7,258.5 156.6,280 158.6,244.4 160.5,189.8 162.5,237.5 164.5,223.8 166.4,208.6 168.4,218.5 170.3,227.2 172.3,216.7 174.2,188.7 176.2,218 178.1,239 180.1,238.9 182,254.4 184,196.8 186,207.3 187.9,223.3 189.9,213.9 191.8,226.3 193.8,198.4 195.7,269.7 197.7,274.6 199.6,226.3 201.6,205.7 203.6,209 205.5,214.1 207.5,200.5 209.4,219 211.4,232.6 213.3,219.6 215.3,247.7 217.2,254.4 219.2,203 221.1,187.7 223.1,197.6 225.1,219.7 227,194.8 229,188.7 230.9,214.3 232.9,215.2 234.8,205.2 236.8,272.5 238.7,253.2 240.7,275.9 242.6,272.7 244.6,240 246.6,222.1 248.5,253.8 250.5,235.7 252.4,236.5 254.4,196.3 256.3,207.2 258.3,236.2 260.2,222.3 262.2,191.8 264.1,219.1 266.1,226.8 268.1,209.1 270,241.5 272,211.8 273.9,250.2 275.9,221.4 277.8,232.1 279.8,226.4 281.7,260.9 283.7,250.3 285.6,256.2 287.6,265.5 289.6,280 291.5,253.8 293.5,251.1 295.4,274.7 297.4,176 299.3,246.1 301.3,233.4 303.2,205.2 305.2,230.6 307.1,248 309.1,256.6 311.1,206.3 313,244.1 315,280 316.9,279.7 318.9,278 320.8,273 322.8,203.1 324.7,195.2 326.7,234.3 328.6,210.6 330.6,227 332.6,206.4 334.5,173.4 336.5,188.6 338.4,215.1 340.4,192.4 342.3,203.6 344.3,236.1 346.2,236.8 348.2,231.8 350.1,212.9 352.1,201.2 354.1,198.1 356,193.5 358,280 359.9,280 361.9,223.3 363.8,223 365.8,258.9 367.7,264.7 369.7,233.6 371.6,239.5 373.6,188.7 375.6,254.8 377.5,275.6 379.5,220.7 381.4,181.6 383.4,190.7 385.3,216.4 387.3,246.7 389.2,263.1 391.2,138.3 393.1,243 395.1,228.9 397.1,173.7 399,206.3 401,208.5 402.9,173.4 404.9,217.8 406.8,203.7 408.8,241.5 410.7,270.2 412.7,173.4 414.6,207.9 416.6,209.9 418.6,256.7 420.5,227.5 422.5,216.2 424.4,233.6 426.4,210.6 428.3,219.1 430.3,220.2 432.2,218.7 434.2,223.1 436.1,276.2 438.1,225.4 440.1,203.1 442,242.3 444,232.1 445.9,280 447.9,228.5 449.8,204.3 451.8,232.4 453.7,215.3 455.7,181.1 457.6,220.1 459.6,255 461.6,253 463.5,209.5 465.5,195.3 467.4,213.4 469.4,236.1 471.3,203.2 473.3,250.8 475.2,242.8 477.2,248 479.1,207.6 481.1,192.4 483.1,239.6 485,194.5 487,177.5 488.9,195.7 490.9,204.6 492.8,205.7 494.8,200.7 496.7,193.3 498.7,240.6 500.6,173.4 502.6,179.9 504.6,205.6 506.5,203.5 508.5,185.1 510.4,196 512.4,230.6 514.3,229.3 516.3,189.9 518.2,230.6 520.2,246.6 522.1,247.3 524.1,218.4 526.1,202.2 528,247.7 530,242.4 531.9,191.4 533.9,192.9 535.8,195.1 537.8,212.8 539.7,263.3 541.7,230 543.6,250.8 545.6,280 547.6,181.2 549.5,173.4 551.5,173.4 553.4,153.3 555.4,210.9 557.3,252.2 559.3,222.3 561.2,185.9 563.2,190.4 565.1,227.8 567.1,250 569.1,251.3 571,239 573,238.1 574.9,220.8 576.9,237.1 578.8,228.5 580.8,216.7 582.7,231.1 584.7,232.9 586.6,212.7 588.6,259.4 590.6,257.6 592.5,211.6 594.5,236.6 596.4,256.6 598.4,280 600.3,276.2 602.3,154.9 604.2,240.1 606.2,223.4 608.1,219 610.1,248 612.1,242.2 614,223.2 616,219.6 617.9,202 619.9,179.6 621.8,189.8 623.8,180.6 625.7,202.3 627.7,192.1 629.6,232 631.6,182.7 633.6,189.7 635.5,214.2 637.5,277.8 639.4,248.9 641.4,241.7 643.3,245.5 645.3,263 647.2,244.4 649.2,249.3 651.1,219.1 653.1,212.3"/>
<polyline fill="none" stroke="#2da02a" stroke-width="2.2" stroke-linejoin="round" stroke-linecap="round" points="92.1,276.9 94.1,165.9 96,269.5 98,165.9 100,147.8 101.9,186.8 103.9,268.3 105.8,203 107.8,199.8 109.7,158.4 111.7,219.7 113.6,261.9 115.6,170.8 117.5,262.6 119.5,185.6 121.5,283.6 123.4,209.8 125.4,278.6 127.3,139.3 129.3,265.1 131.2,232.8 133.2,260.3 135.1,260.6 137.1,267.6 139,217.3 141,265.1 143,268.5 144.9,216.4 146.9,280.1 148.8,187.6 150.8,267.3 152.7,282.2 154.7,217 156.6,282.8 158.6,206.3 160.5,204.8 162.5,259.3 164.5,171.2 166.4,278 168.4,121.2 170.3,179.4 172.3,281.4 174.2,267.6 176.2,165.9 178.1,197.9 180.1,267.7 182,165.9 184,259.4 186,181.3 187.9,264.1 189.9,210.6 191.8,282 193.8,165.9 195.7,270.7 197.7,280.7 199.6,229.3 201.6,279.6 203.6,267.3 205.5,192.9 207.5,272.8 209.4,237 211.4,272.5 213.3,219.3 215.3,153.3 217.2,262 219.2,277.8 221.1,207.5 223.1,165.9 225.1,148.3 227,172.6 229,275.4 230.9,199.3 232.9,199.3 234.8,259 236.8,165.9 238.7,278.8 240.7,207.4 242.6,260.5 244.6,265.9 246.6,224.3 248.5,262.7 250.5,236 252.4,269.7 254.4,165.9 256.3,179.2 258.3,261.4 260.2,218.6 262.2,136.8 264.1,165.9 266.1,181.3 268.1,196.3 270,259.4 272,196.6 273.9,226.2 275.9,263 277.8,155.4 279.8,273.3 281.7,187.8 283.7,176.6 285.6,209.8 287.6,275.5 289.6,231.6 291.5,271.6 293.5,264.5 295.4,215.5 297.4,259.1 299.3,207.7 301.3,263.5 303.2,165.9 305.2,234.9 307.1,220.4 309.1,265.2 311.1,165.9 313,214.3 315,270.8 316.9,235.1 318.9,282.2 320.8,203.1 322.8,270.8 324.7,215.1 326.7,262.5 328.6,229.4 330.6,263.5 332.6,198.1 334.5,190.2 336.5,265.6 338.4,259.1 340.4,284 342.3,271.7 344.3,171.9 346.2,278.3 348.2,214.4 350.1,202.4 352.1,165.9 354.1,272 356,165.9 358,275.3 359.9,274.1 361.9,196.6 363.8,156.9 365.8,281.3 367.7,283 369.7,267.8 371.6,222.3 373.6,268.4 375.6,222.8 377.5,276.5 379.5,113.2 381.4,273 383.4,194.5 385.3,226.9 387.3,275 389.2,166.4 391.2,267.2 393.1,170.3 395.1,268.1 397.1,189.5 399,232.9 401,283.9 402.9,194.4 404.9,275.4 406.8,165.9 408.8,267.2 410.7,274.8 412.7,212.4 414.6,174.4 416.6,276 418.6,144.8 420.5,266.4 422.5,234.2 424.4,259.1 426.4,196.3 428.3,204.8 430.3,265.8 432.2,206.1 434.2,231.3 436.1,214 438.1,165.9 440.1,264.1 442,189.1 444,278.6 445.9,224.3 447.9,214.4 449.8,261.5 451.8,136.8 453.7,276.8 455.7,277.1 457.6,279.5 459.6,215.7 461.6,263.9 463.5,225.9 465.5,277.8 467.4,169.5 469.4,180.6 471.3,213.4 473.3,201.1 475.2,265.5 477.2,188.6 479.1,269.8 481.1,165.9 483.1,276.9 485,269.3 487,165.9 488.9,277.5 490.9,219.4 492.8,280.4 494.8,277.1 496.7,267.9 498.7,202.2 500.6,263.2 502.6,270 504.6,259.6 506.5,265.5 508.5,212.4 510.4,277 512.4,274.5 514.3,139.3 516.3,279.4 518.2,235.7 520.2,185.8 522.1,266.4 524.1,275 526.1,275.2 528,262.1 530,165.9 531.9,273.7 533.9,215.1 535.8,279.3 537.8,168.4 539.7,262.2 541.7,218.8 543.6,266.4 545.6,172.1 547.6,265.7 549.5,236.6 551.5,226.3 553.4,259.4 555.4,225.5 557.3,283.5 559.3,216.6 561.2,276.4 563.2,188.6 565.1,260.6 567.1,239.3 569.1,275.8 571,276.9 573,267.2 574.9,212.6 576.9,195.6 578.8,191.7 580.8,206.8 582.7,268.4 584.7,222 586.6,169.9 588.6,226.3 590.6,187.9 592.5,165.9 594.5,263.1 596.4,189.7 598.4,261.6 600.3,269.8 602.3,272.1 604.2,197.8 606.2,266.3 608.1,278.7 610.1,200.2 612.1,268.3 614,227.1 616,165.9 617.9,280.3 619.9,193.9 621.8,159.9 623.8,228.4 625.7,224.7 627.7,267.2 629.6,220 631.6,277.2 633.6,265 635.5,194.3 637.5,263.2 639.4,264.5 641.4,212.3 643.3,265.2 645.3,269.5 647.2,238.6 649.2,259.7 651.1,230.9 653.1,164.9"/>
<circle cx="38.6" cy="399" r="9.1" fill="#1f78b4"/>
<text class="lg" x="57.56" y="408.3" textLength="147.81" lengthAdjust="spacingAndGlyphs">app1apacheeks</text>
<circle cx="232.3" cy="399" r="9.1" fill="#a6cee3"/>
<text class="lg" x="250.73" y="408.3" textLength="95.63" lengthAdjust="spacingAndGlyphs">appdev02</text>
<circle cx="372.3" cy="399" r="9.1" fill="#2da02a"/>
<text class="lg" x="390.41" y="408.3" textLength="114.2" lengthAdjust="spacingAndGlyphs">localapache</text>
</svg></section>
<section class="panel" style="left:1670px;top:1212.2px;width:582px;height:450px">
<svg width="582" height="450" viewBox="0 0 582 450">
<text class="pt" x="20.56" y="40.2" textLength="214.82" lengthAdjust="spacingAndGlyphs">Load Average - 5m</text>
<line x1="88.9" x2="528.2" y1="83" y2="83" stroke="#33476a" stroke-width="2"/>
<text class="tk" x="67.06" y="88.3" textLength="12.32" lengthAdjust="spacingAndGlyphs">4</text>
<line x1="88.9" x2="528.2" y1="150" y2="150" stroke="#33476a" stroke-width="2"/>
<text class="tk" x="67.15" y="155.3" textLength="12.83" lengthAdjust="spacingAndGlyphs">2</text>
<line x1="88.9" x2="528.2" y1="217" y2="217" stroke="#33476a" stroke-width="2"/>
<text class="tk" x="66.67" y="222.3" textLength="12.98" lengthAdjust="spacingAndGlyphs">0</text>
<line x1="88.9" x2="528.2" y1="284" y2="284" stroke="#33476a" stroke-width="2"/>
<text class="tk" x="59.15" y="289.3" textLength="20.8" lengthAdjust="spacingAndGlyphs">-2</text>
<text class="yt" transform="translate(47.6 183.5) rotate(-90)" x="-49.91" y="0" textLength="98.79" lengthAdjust="spacingAndGlyphs">Utilization</text>
<line x1="137.9" x2="137.9" y1="284" y2="292" stroke="#33476a" stroke-width="2"/>
<text class="tk" x="108.54" y="308.6" textLength="56.76" lengthAdjust="spacingAndGlyphs">09:00</text>
<text class="tk" x="107.62" y="333.7" textLength="34.27" lengthAdjust="spacingAndGlyphs">PM</text>
<line x1="245.9" x2="245.9" y1="284" y2="292" stroke="#33476a" stroke-width="2"/>
<text class="tk" x="216.46" y="308.6" textLength="56.76" lengthAdjust="spacingAndGlyphs">03:00</text>
<text class="tk" x="217.37" y="333.7" textLength="32.23" lengthAdjust="spacingAndGlyphs">AM</text>
<line x1="353.8" x2="353.8" y1="284" y2="292" stroke="#33476a" stroke-width="2"/>
<text class="tk" x="324.38" y="308.6" textLength="56.76" lengthAdjust="spacingAndGlyphs">09:00</text>
<text class="tk" x="325.29" y="333.7" textLength="32.23" lengthAdjust="spacingAndGlyphs">AM</text>
<line x1="461.7" x2="461.7" y1="284" y2="292" stroke="#33476a" stroke-width="2"/>
<text class="tk" x="432.3" y="308.6" textLength="56.76" lengthAdjust="spacingAndGlyphs">03:00</text>
<text class="tk" x="431.38" y="333.7" textLength="34.27" lengthAdjust="spacingAndGlyphs">PM</text>
<polyline fill="none" stroke="#1f78b4" stroke-width="2.2" stroke-linejoin="round" stroke-linecap="round" points="95.5,213.5 97,213 98.5,213.6 100,211.8 101.5,213.5 103,214.9 104.5,205.7 106,214.3 107.6,213.9 109.1,214.2 110.6,210.3 112.1,213 113.6,214.3 115.1,213.5 116.6,214.4 118.1,214.3 119.6,214.6 121.1,214 122.6,214.8 124.1,214.1 125.6,214.1 127.1,214.9 128.6,213.8 130.1,214.6 131.6,214.7 133.1,214.5 134.6,212.7 136.1,214 137.6,211.6 139.1,214.6 140.6,212.8 142.1,213.2 143.7,214 145.2,212.4 146.7,214 148.2,214.8 149.7,213.6 151.2,213.5 152.7,213.6 154.2,212.3 155.7,214.7 157.2,214 158.7,213.5 160.2,214.6 161.7,213.6 163.2,214.6 164.7,214.4 166.2,214.3 167.7,212.6 169.2,213.3 170.7,213.7 172.2,213.4 173.7,213.4 175.2,213.4 176.7,213.6 178.2,212.6 179.8,213.1 181.3,212.8 182.8,211.5 184.3,214.1 185.8,202.5 187.3,214.7 188.8,213.9 190.3,214.4 191.8,214.1 193.3,213.3 194.8,214.3 196.3,215 197.8,214.6 199.3,214.8 200.8,214.3 202.3,214.5 203.8,214 205.3,213.3 206.8,213.8 208.3,213.3 209.8,206 211.3,213.7 212.8,211.8 214.3,214 215.8,213 217.4,213.9 218.9,212.3 220.4,213 221.9,214.7 223.4,214.3 224.9,212.6 226.4,213.9 227.9,213 229.4,214.2 230.9,214.6 232.4,214.6 233.9,213.7 235.4,214 236.9,214.7 238.4,213.5 239.9,215 241.4,212.7 242.9,203.9 244.4,214.3 245.9,212.7 247.4,214 248.9,214 250.4,213.6 251.9,212.8 253.5,211.1 255,210.4 256.5,212.1 258,213.3 259.5,214.9 261,214 262.5,214.2 264,214.1 265.5,214.6 267,214.7 268.5,213.6 270,213.5 271.5,213.2 273,213.3 274.5,212.3 276,210.3 277.5,212.8 279,214.3 280.5,214.5 282,211.9 283.5,214.2 285,214.8 286.5,213.9 288,214.4 289.6,213.6 291.1,213.9 292.6,214.3 294.1,213.4 295.6,212.1 297.1,214 298.6,214.6 300.1,213.9 301.6,213 303.1,213.2 304.6,213.8 306.1,213.9 307.6,213.8 309.1,214.4 310.6,213.8 312.1,213.9 313.6,213.2 315.1,211.7 316.6,212.5 318.1,212.7 319.6,213.7 321.1,214.8 322.6,212.2 324.1,213.5 325.6,211.6 327.2,211.6 328.7,210.7 330.2,214.2 331.7,214.8 333.2,213.8 334.7,212.8 336.2,206 337.7,212.8 339.2,212.3 340.7,210.9 342.2,214.1 343.7,213 345.2,213.5 346.7,213.6 348.2,213.5 349.7,213.9 351.2,214.4 352.7,214.9 354.2,214.8 355.7,213.2 357.2,214.1 358.7,214.8 360.2,213.1 361.7,211.1 363.3,213.7 364.8,214.3 366.3,214.8 367.8,212 369.3,212.2 370.8,211 372.3,213.5 373.8,214.9 375.3,212.4 376.8,212 378.3,212.7 379.8,213.8 381.3,214.7 382.8,214.2 384.3,214.2 385.8,213.6 387.3,212.9 388.8,212.2 390.3,213.3 391.8,211.7 393.3,202.6 394.8,214.1 396.3,214.3 397.8,214 399.4,212.2 400.9,212.1 402.4,212.8 403.9,212.1 405.4,214.1 406.9,211.7 408.4,213.6 409.9,213.1 411.4,214.1 412.9,214.5 414.4,213.3 415.9,213.2 417.4,212.8 418.9,204 420.4,214.9 421.9,213.5 423.4,214.1 424.9,213.7 426.4,214.3 427.9,213.3 429.4,212.6 430.9,214.5 432.4,213.8 433.9,214.7 435.4,212.5 437,213.7 438.5,214.7 440,214.5 441.5,214.3 443,214.1 444.5,212.3 446,202.5 447.5,214.1 449,211.6 450.5,215 452,214.7 453.5,213.9 455,214.1 456.5,213.4 458,213.4 459.5,214.1 461,214.6 462.5,209.2 464,214.8 465.5,213.3 467,214.6 468.5,214.3 470,213.2 471.5,211.5 473.1,210.2 474.6,213.4 476.1,214.3 477.6,212.8 479.1,212.2 480.6,214.4 482.1,212.2 483.6,213.8 485.1,214.2 486.6,213.5 488.1,211.3 489.6,214.1 491.1,214.7 492.6,212 494.1,214.4 495.6,212.8 497.1,214.3 498.6,214.1 500.1,214.8 501.6,213.7 503.1,213.4 504.6,214.2 506.1,213.7 507.6,213.9 509.2,213.6 510.7,214.3 512.2,214.3 513.7,210.2 515.2,213.9 516.7,214.6 518.2,214 519.7,213.7 521.2,212.7 522.7,214.8 524.2,213 525.7,214.6 527.2,213.1"/>
<polyline fill="none" stroke="#a6cee3" stroke-width="2.2" stroke-linejoin="round" stroke-linecap="round" points="95.5,166.8 97,132.4 98.5,163.4 100,199.4 101.5,190.8 103,136.2 104.5,169.5 106,173 107.6,181.2 109.1,180 110.6,171.7 112.1,163.2 113.6,173.1 115.1,171.8 116.6,193.6 118.1,167.6 119.6,147.6 121.1,149.2 122.6,170.9 124.1,184.7 125.6,148.2 127.1,168.2 128.6,198.5 130.1,181.8 131.6,126.8 133.1,183.9 134.6,169.7 136.1,182.4 137.6,194 139.1,149.6 140.6,168.6 142.1,152.2 143.7,166.4 145.2,171.7 146.7,160.8 148.2,164.6 149.7,179.1 151.2,174 152.7,181.7 154.2,163.5 155.7,188.9 157.2,177.8 158.7,170.2 160.2,175 161.7,171.5 163.2,193.7 164.7,205.3 166.2,156.9 167.7,180.5 169.2,179.5 170.7,172.6 172.2,166.3 173.7,162.4 175.2,161.9 176.7,181.3 178.2,177.8 179.8,181.1 181.3,202.4 182.8,181.5 184.3,179 185.8,192.6 187.3,202.8 188.8,181.7 190.3,183.9 191.8,181.1 193.3,156.8 194.8,176.6 196.3,179.4 197.8,196.3 199.3,181.6 200.8,163.2 202.3,165.8 203.8,184.7 205.3,164.6 206.8,145.8 208.3,191.2 209.8,179.9 211.3,202.1 212.8,155.8 214.3,196.8 215.8,173.4 217.4,171.6 218.9,141.2 220.4,174.5 221.9,180.1 223.4,197.8 224.9,192.6 226.4,179.3 227.9,162.5 229.4,127 230.9,165.1 232.4,181.5 233.9,128.7 235.4,172.3 236.9,168.9 238.4,161.3 239.9,163.4 241.4,182.8 242.9,169.6 244.4,175.1 245.9,172.7 247.4,180 248.9,189 250.4,178.6 251.9,169.5 253.5,191.4 255,177.1 256.5,187.8 258,194.6 259.5,182.9 261,169.7 262.5,162.9 264,185.7 265.5,185.2 267,190.2 268.5,171.5 270,174.1 271.5,168.9 273,155.4 274.5,177.4 276,180.9 277.5,161.6 279,175.5 280.5,183 282,164 283.5,161.6 285,193.5 286.5,191.6 288,174.4 289.6,160.1 291.1,163.3 292.6,185.7 294.1,176.3 295.6,189.9 297.1,148.8 298.6,140.8 300.1,183.4 301.6,142.6 303.1,190.9 304.6,168.5 306.1,179.4 307.6,171.6 309.1,182.5 310.6,172.7 312.1,201.1 313.6,129.3 315.1,200.3 316.6,168.3 318.1,157.8 319.6,167.6 321.1,163.6 322.6,151.3 324.1,139.4 325.6,186.6 327.2,190.3 328.7,166.7 330.2,204.9 331.7,182.9 333.2,187 334.7,136.7 336.2,179.4 337.7,191.1 339.2,161.7 340.7,159.8 342.2,197.3 343.7,174.4 345.2,174.3 346.7,204.1 348.2,181.6 349.7,171.3 351.2,184.2 352.7,176.6 354.2,164.5 355.7,178.8 357.2,179.7 358.7,179.1 360.2,187.9 361.7,183.3 363.3,167.3 364.8,175.3 366.3,193.3 367.8,180.4 369.3,175 370.8,172.6 372.3,172.6 373.8,181.3 375.3,187.4 376.8,172.6 378.3,178 379.8,134 381.3,186.6 382.8,178.4 384.3,157.9 385.8,192.2 387.3,192.7 388.8,172.1 390.3,146.1 391.8,179 393.3,180.8 394.8,175.4 396.3,195.3 397.8,168.7 399.4,171.3 400.9,180.5 402.4,198.6 403.9,159.9 405.4,166.8 406.9,165 408.4,163.5 409.9,178.6 411.4,175.2 412.9,179.4 414.4,145.3 415.9,183.5 417.4,166.4 418.9,135.4 420.4,166.8 421.9,198.1 423.4,189.4 424.9,170.2 426.4,173 427.9,171.7 429.4,183.3 430.9,180.1 432.4,171.1 433.9,161.5 435.4,175 437,175.5 438.5,184.4 440,199.5 441.5,179.8 443,177.9 444.5,170.5 446,188.5 447.5,188.1 449,195.7 450.5,194 452,184.9 453.5,147.2 455,200.6 456.5,192.6 458,202.2 459.5,186 461,193.6 462.5,178.9 464,198.6 465.5,167.8 467,205.3 468.5,149.3 470,158.5 471.5,145.1 473.1,163.7 474.6,177.6 476.1,195.5 477.6,158.2 479.1,158.3 480.6,148.8 482.1,169.2 483.6,175.1 485.1,167.9 486.6,170.1 488.1,168.8 489.6,165.5 491.1,159 492.6,174.1 494.1,160.4 495.6,199.1 497.1,180.3 498.6,145.8 500.1,168.3 501.6,189.5 503.1,175.4 504.6,133.3 506.1,189.7 507.6,134.6 509.2,160 510.7,171.5 512.2,184.4 513.7,169.3 515.2,140 516.7,175.1 518.2,141.8 519.7,179.9 521.2,158.4 522.7,183.8 524.2,191.8 525.7,197.9 527.2,182"/>
<polyline fill="none" stroke="#2da02a" stroke-width="2.2" stroke-linejoin="round" stroke-linecap="round" points="95.5,212.7 97,173.6 98.5,212.8 100,122.8 101.5,215 103,171.7 104.5,190.3 106,180.2 107.6,212.9 109.1,181 110.6,194.4 112.1,213.8 113.6,212.2 115.1,168.1 116.6,187.6 118.1,182.2 119.6,214.6 121.1,169.8 122.6,178.1 124.1,169 125.6,159.2 127.1,137 128.6,172.6 130.1,194.5 131.6,183 133.1,168.5 134.6,187.9 136.1,206.9 137.6,213.5 139.1,160.7 140.6,185 142.1,142.6 143.7,122.9 145.2,165.9 146.7,186.3 148.2,193.3 149.7,161.3 151.2,180.1 152.7,172.3 154.2,212.7 155.7,125.5 157.2,178.8 158.7,163.4 160.2,167.6 161.7,180.6 163.2,154.6 164.7,180.2 166.2,150.1 167.7,142.3 169.2,165.1 170.7,145.8 172.2,200.9 173.7,212.8 175.2,163.4 176.7,177.8 178.2,142.5 179.8,137.7 181.3,177.8 182.8,136.2 184.3,143.7 185.8,133.7 187.3,176.7 188.8,167.8 190.3,179 191.8,137.9 193.3,181 194.8,180.9 196.3,182 197.8,136.5 199.3,170 200.8,184.8 202.3,131.9 203.8,197.6 205.3,204 206.8,153.3 208.3,135.5 209.8,214.7 211.3,178.2 212.8,169.5 214.3,153.9 215.8,177.6 217.4,171 218.9,183.8 220.4,214.9 221.9,194.6 223.4,164.1 224.9,179.1 226.4,152.8 227.9,181.5 229.4,181.1 230.9,165.3 232.4,126.9 233.9,189.5 235.4,213.3 236.9,156.7 238.4,129.9 239.9,174.1 241.4,189.9 242.9,176.1 244.4,197.8 245.9,214.6 247.4,178.5 248.9,189.5 250.4,122.7 251.9,130.7 253.5,179.5 255,214.4 256.5,154.9 258,173.5 259.5,140.4 261,183.7 262.5,132.5 264,183.4 265.5,191.2 267,143.7 268.5,147.4 270,161.7 271.5,152 273,176.1 274.5,171.3 276,173.9 277.5,216 279,191.1 280.5,178.8 282,177.8 283.5,214 285,142.3 286.5,132.2 288,124 289.6,175.7 291.1,215.4 292.6,186.5 294.1,183 295.6,175.2 297.1,213 298.6,137.9 300.1,191.8 301.6,216.1 303.1,120.7 304.6,159.5 306.1,181.1 307.6,173.6 309.1,125.6 310.6,128 312.1,212.4 313.6,127.3 315.1,124.1 316.6,129.7 318.1,171.6 319.6,180.3 321.1,122 322.6,159.8 324.1,138.3 325.6,168.4 327.2,181.8 328.7,184.1 330.2,186.6 331.7,173.4 333.2,212.1 334.7,135 336.2,184.7 337.7,187 339.2,213.3 340.7,176.2 342.2,213.3 343.7,216.9 345.2,215.9 346.7,125.6 348.2,212.4 349.7,193.6 351.2,197.4 352.7,185.1 354.2,171.8 355.7,180.2 357.2,180.1 358.7,123.6 360.2,159.6 361.7,183.7 363.3,156 364.8,145.8 366.3,147.9 367.8,214.4 369.3,150.9 370.8,166 372.3,166.3 373.8,191.5 375.3,194 376.8,191.9 378.3,173.7 379.8,167 381.3,187.2 382.8,196 384.3,192.9 385.8,176.3 387.3,180.3 388.8,132.4 390.3,191.4 391.8,195.9 393.3,179.6 394.8,216.3 396.3,213.5 397.8,189.2 399.4,212.3 400.9,212.3 402.4,183 403.9,158.8 405.4,136.2 406.9,215 408.4,156.8 409.9,190.5 411.4,157 412.9,201 414.4,123.7 415.9,175.3 417.4,150.8 418.9,163.4 420.4,134.2 421.9,165.6 423.4,155.3 424.9,130.4 426.4,158.2 427.9,179.4 429.4,183.5 430.9,140.7 432.4,174.9 433.9,212.5 435.4,213.8 437,178.5 438.5,177.4 440,135.1 441.5,151.8 443,197.4 444.5,168.8 446,188.5 447.5,154.9 449,212.1 450.5,150.4 452,214.1 453.5,138.8 455,183.7 456.5,180.4 458,143.1 459.5,193.5 461,185.2 462.5,189.6 464,146.4 465.5,189.4 467,173.2 468.5,195.3 470,175.1 471.5,160.4 473.1,126.2 474.6,180.7 476.1,132.4 477.6,212 479.1,184.6 480.6,200.3 482.1,197.2 483.6,212.6 485.1,213.2 486.6,135.8 488.1,216.2 489.6,167.8 491.1,174.1 492.6,184.6 494.1,189 495.6,185.2 497.1,155.1 498.6,198.4 500.1,163.5 501.6,176.4 503.1,180.3 504.6,215.1 506.1,179 507.6,133.9 509.2,187.8 510.7,214.2 512.2,168.4 513.7,171.3 515.2,216.8 516.7,212.5 518.2,191.9 519.7,134.1 521.2,171.8 522.7,186.5 524.2,193.8 525.7,195.3 527.2,197.1"/>
<circle cx="38.6" cy="399" r="9.1" fill="#1f78b4"/>
<text class="lg" x="57.56" y="408.3" textLength="147.81" lengthAdjust="spacingAndGlyphs">app1apacheeks</text>
<circle cx="232.3" cy="399" r="9.1" fill="#a6cee3"/>
<text class="lg" x="250.73" y="408.3" textLength="95.63" lengthAdjust="spacingAndGlyphs">appdev02</text>
<circle cx="372.3" cy="399" r="9.1" fill="#2da02a"/>
<text class="lg" x="390.41" y="408.3" textLength="114.2" lengthAdjust="spacingAndGlyphs">localapache</text>
</svg></section>
<section class="panel" style="left:2265.6px;top:1212.2px;width:582px;height:450px">
<svg width="582" height="450" viewBox="0 0 582 450">
<text class="pt" x="20.6" y="40.2" textLength="126.6" lengthAdjust="spacingAndGlyphs">Load - 15m</text>
<line x1="89.1" x2="528.4" y1="83" y2="83" stroke="#33476a" stroke-width="2"/>
<text class="tk" x="67.26" y="88.3" textLength="12.32" lengthAdjust="spacingAndGlyphs">4</text>
<line x1="89.1" x2="528.4" y1="150" y2="150" stroke="#33476a" stroke-width="2"/>
<text class="tk" x="67.35" y="155.3" textLength="12.83" lengthAdjust="spacingAndGlyphs">2</text>
<line x1="89.1" x2="528.4" y1="217" y2="217" stroke="#33476a" stroke-width="2"/>
<text class="tk" x="66.87" y="222.3" textLength="12.98" lengthAdjust="spacingAndGlyphs">0</text>
<line x1="89.1" x2="528.4" y1="284" y2="284" stroke="#33476a" stroke-width="2"/>
<text class="tk" x="59.35" y="289.3" textLength="20.8" lengthAdjust="spacingAndGlyphs">-2</text>
<text class="yt" transform="translate(47.6 183.5) rotate(-90)" x="-49.91" y="0" textLength="98.79" lengthAdjust="spacingAndGlyphs">Utilization</text>
<line x1="138.1" x2="138.1" y1="284" y2="292" stroke="#33476a" stroke-width="2"/>
<text class="tk" x="108.69" y="308.6" textLength="56.76" lengthAdjust="spacingAndGlyphs">09:00</text>
<text class="tk" x="107.77" y="333.7" textLength="34.27" lengthAdjust="spacingAndGlyphs">PM</text>
<line x1="246" x2="246" y1="284" y2="292" stroke="#33476a" stroke-width="2"/>
<text class="tk" x="216.61" y="308.6" textLength="56.76" lengthAdjust="spacingAndGlyphs">03:00</text>
<text class="tk" x="217.52" y="333.7" textLength="32.23" lengthAdjust="spacingAndGlyphs">AM</text>
<line x1="353.9" x2="353.9" y1="284" y2="292" stroke="#33476a" stroke-width="2"/>
<text class="tk" x="324.53" y="308.6" textLength="56.76" lengthAdjust="spacingAndGlyphs">09:00</text>
<text class="tk" x="325.44" y="333.7" textLength="32.23" lengthAdjust="spacingAndGlyphs">AM</text>
<line x1="461.9" x2="461.9" y1="284" y2="292" stroke="#33476a" stroke-width="2"/>
<text class="tk" x="432.45" y="308.6" textLength="56.76" lengthAdjust="spacingAndGlyphs">03:00</text>
<text class="tk" x="431.53" y="333.7" textLength="34.27" lengthAdjust="spacingAndGlyphs">PM</text>
<polyline fill="none" stroke="#1f78b4" stroke-width="2.2" stroke-linejoin="round" stroke-linecap="round" points="95.7,214.4 97.2,214.5 98.7,213.6 100.2,211.7 101.7,211.8 103.2,214.6 104.7,213.3 106.2,212.7 107.8,212.6 109.3,214 110.8,214.8 112.3,214.9 113.8,214.4 115.3,213.1 116.8,212.9 118.3,214.6 119.8,214.3 121.3,212.3 122.8,214.3 124.3,213.3 125.8,212.6 127.3,214.2 128.8,213.8 130.3,212.8 131.8,213 133.3,212.2 134.8,214.4 136.3,211.4 137.8,213.9 139.3,212.8 140.8,213.1 142.3,214.8 143.9,214.1 145.4,214.6 146.9,212.1 148.4,214.6 149.9,213.6 151.4,213.4 152.9,213.9 154.4,213 155.9,212.9 157.4,214.6 158.9,208.2 160.4,214.7 161.9,213.7 163.4,214.1 164.9,214.7 166.4,213 167.9,214.4 169.4,213.4 170.9,202.5 172.4,214.7 173.9,214.4 175.4,213.6 176.9,212.7 178.4,214.9 180,214.4 181.5,214.7 183,214.7 184.5,213.9 186,213.4 187.5,213.6 189,214.2 190.5,214 192,214.1 193.5,214.8 195,214.5 196.5,214.1 198,213.2 199.5,214.2 201,214.8 202.5,213.9 204,214.4 205.5,213.8 207,213 208.5,214.6 210,208.2 211.5,214.3 213,212.9 214.5,214.5 216,213.7 217.6,214.6 219.1,213.3 220.6,214.2 222.1,212.2 223.6,212 225.1,211.6 226.6,214.8 228.1,215 229.6,213.3 231.1,213.4 232.6,211.5 234.1,212.9 235.6,213 237.1,214.1 238.6,214.1 240.1,214.3 241.6,213.6 243.1,214.4 244.6,214.3 246.1,214.4 247.6,214.9 249.1,212.2 250.6,213.2 252.1,213.7 253.7,214.9 255.2,215 256.7,214 258.2,214.5 259.7,214.7 261.2,214.8 262.7,214.5 264.2,214.3 265.7,214.5 267.2,214.5 268.7,214.8 270.2,202.1 271.7,214.2 273.2,214.7 274.7,214.1 276.2,214.6 277.7,214.6 279.2,213.6 280.7,214.2 282.2,214.5 283.7,214.8 285.2,214.1 286.7,214.3 288.2,214.3 289.8,214.9 291.3,206.1 292.8,213.1 294.3,214.7 295.8,214.9 297.3,214.6 298.8,212.9 300.3,213.2 301.8,212.6 303.3,213 304.8,213.1 306.3,213.9 307.8,213.3 309.3,214.7 310.8,213.6 312.3,213.7 313.8,214.7 315.3,203 316.8,212.4 318.3,214.2 319.8,212 321.3,213.3 322.8,209.3 324.3,212.8 325.8,213.4 327.4,207.5 328.9,212.2 330.4,213.1 331.9,209.2 333.4,214.1 334.9,214 336.4,210.9 337.9,212 339.4,213.6 340.9,213.5 342.4,213 343.9,213 345.4,211.8 346.9,209.1 348.4,213.8 349.9,211.5 351.4,213.3 352.9,214.6 354.4,213.6 355.9,214.3 357.4,214.9 358.9,214.9 360.4,214.7 361.9,212.7 363.5,214.5 365,214.9 366.5,212.4 368,212.7 369.5,213.7 371,213.7 372.5,213.9 374,214.2 375.5,214.2 377,214.4 378.5,213.3 380,214.7 381.5,213.3 383,214.3 384.5,215 386,214.7 387.5,214.2 389,211.3 390.5,209.6 392,214.5 393.5,212.7 395,214.2 396.5,214.1 398,213.4 399.6,214 401.1,214.7 402.6,213.7 404.1,212.5 405.6,214.8 407.1,203.8 408.6,211.6 410.1,212.9 411.6,214.3 413.1,214.4 414.6,213 416.1,212.4 417.6,213.8 419.1,214.9 420.6,212.1 422.1,212.7 423.6,213.7 425.1,212.1 426.6,212.8 428.1,214.9 429.6,214.4 431.1,214.2 432.6,214.3 434.1,214 435.6,212.5 437.2,214.9 438.7,214.9 440.2,213.3 441.7,213.8 443.2,213.1 444.7,214 446.2,214.3 447.7,213.6 449.2,214.5 450.7,212 452.2,213.6 453.7,213.7 455.2,214.2 456.7,214 458.2,214.5 459.7,211.9 461.2,211.2 462.7,212.7 464.2,209.8 465.7,213.6 467.2,215 468.7,212.7 470.2,212.6 471.7,213.7 473.3,213.7 474.8,214.6 476.3,214.9 477.8,213.4 479.3,209 480.8,214.8 482.3,214.5 483.8,214.4 485.3,213.9 486.8,215 488.3,212.5 489.8,215 491.3,214.1 492.8,214.5 494.3,214.3 495.8,213.1 497.3,213.9 498.8,212.6 500.3,214.7 501.8,213.7 503.3,213.6 504.8,213.9 506.3,214.3 507.8,212.2 509.4,212.3 510.9,212 512.4,213.1 513.9,214.8 515.4,211.6 516.9,212.2 518.4,213.5 519.9,213.3 521.4,213.4 522.9,210.2 524.4,213.1 525.9,213.3 527.4,211.8"/>
<polyline fill="none" stroke="#a6cee3" stroke-width="2.2" stroke-linejoin="round" stroke-linecap="round" points="95.7,193.7 97.2,200.4 98.7,192.4 100.2,147.5 101.7,171.3 103.2,183 104.7,198.5 106.2,178.4 107.8,175 109.3,162.9 110.8,184.6 112.3,174.4 113.8,195.5 115.3,204.1 116.8,152.7 118.3,179.7 119.8,163.6 121.3,165.9 122.8,173.1 124.3,158 125.8,147.7 127.3,134.7 128.8,174.1 130.3,192.4 131.8,173.5 133.3,167.8 134.8,181.2 136.3,180.7 137.8,184.7 139.3,179 140.8,160.4 142.3,176.4 143.9,177.5 145.4,188.4 146.9,169.7 148.4,170.4 149.9,180.1 151.4,153.6 152.9,192 154.4,160.3 155.9,167.2 157.4,190.8 158.9,169 160.4,152.3 161.9,157.2 163.4,166.3 164.9,155.8 166.4,188.6 167.9,173.6 169.4,191.9 170.9,180.2 172.4,175.1 173.9,174.8 175.4,173.4 176.9,179.1 178.4,173.5 180,168.2 181.5,155.1 183,171.2 184.5,153.7 186,183.9 187.5,165 189,165.7 190.5,169.9 192,143.9 193.5,173.1 195,168 196.5,186.9 198,186.4 199.5,180.2 201,153.8 202.5,167.2 204,181.6 205.5,169.1 207,149.7 208.5,177.8 210,146.5 211.5,180.3 213,178.5 214.5,161.8 216,185.2 217.6,172.3 219.1,170.3 220.6,177.9 222.1,185.1 223.6,167.8 225.1,183.7 226.6,191.1 228.1,155 229.6,172.5 231.1,195.2 232.6,185.8 234.1,182.7 235.6,176.7 237.1,181.4 238.6,148.8 240.1,166.5 241.6,147.7 243.1,203.4 244.6,183.5 246.1,179.8 247.6,205.3 249.1,188.4 250.6,152.1 252.1,180.6 253.7,170.6 255.2,173.6 256.7,148 258.2,191.2 259.7,167.5 261.2,158.7 262.7,150.2 264.2,184.6 265.7,169.6 267.2,186.4 268.7,181.2 270.2,205 271.7,174 273.2,150 274.7,167.6 276.2,171.9 277.7,168.1 279.2,167.2 280.7,192.9 282.2,134.1 283.7,181.2 285.2,148.6 286.7,160.2 288.2,172 289.8,172.8 291.3,205.3 292.8,177.7 294.3,174.3 295.8,175.4 297.3,185.4 298.8,167 300.3,168.5 301.8,179.6 303.3,175.1 304.8,197.8 306.3,127 307.8,179.2 309.3,202.7 310.8,174.1 312.3,173.2 313.8,127.2 315.3,173.3 316.8,194 318.3,194.3 319.8,159.9 321.3,174.9 322.8,185.9 324.3,167.7 325.8,150.7 327.4,159.7 328.9,174.9 330.4,164.5 331.9,186.4 333.4,187.3 334.9,174.7 336.4,187.7 337.9,147 339.4,157.2 340.9,203.1 342.4,145.6 343.9,194.9 345.4,167.1 346.9,180.2 348.4,165.2 349.9,158.5 351.4,178.3 352.9,174.8 354.4,158.4 355.9,162.9 357.4,152.6 358.9,163.2 360.4,186 361.9,154.2 363.5,189.1 365,188.9 366.5,203.8 368,194.3 369.5,164.3 371,178.1 372.5,167.3 374,192.3 375.5,172.4 377,158.1 378.5,156.2 380,174.1 381.5,161.3 383,144.1 384.5,178.1 386,164.6 387.5,168.3 389,173.8 390.5,182.6 392,180.6 393.5,172.3 395,161.7 396.5,173.3 398,169.7 399.6,169 401.1,165.5 402.6,201.8 404.1,186.1 405.6,181.1 407.1,177.6 408.6,165.2 410.1,160.8 411.6,162.2 413.1,166.7 414.6,180.8 416.1,190.2 417.6,185.3 419.1,153.2 420.6,176.5 422.1,179.6 423.6,154.3 425.1,141.5 426.6,186 428.1,175.7 429.6,189.1 431.1,199.9 432.6,166.9 434.1,145.4 435.6,153.6 437.2,188.3 438.7,192.7 440.2,130.8 441.7,164.5 443.2,162.6 444.7,160.2 446.2,143.7 447.7,145.5 449.2,180.4 450.7,149.5 452.2,166.7 453.7,179.5 455.2,170.6 456.7,197.9 458.2,194.9 459.7,134 461.2,185.1 462.7,126.6 464.2,153.6 465.7,163.1 467.2,179.9 468.7,166.7 470.2,176.2 471.7,180.5 473.3,178 474.8,182.1 476.3,196.9 477.8,205.3 479.3,205.3 480.8,179.5 482.3,205.3 483.8,166.6 485.3,184.3 486.8,181.2 488.3,171.9 489.8,157.2 491.3,186 492.8,189.6 494.3,175.2 495.8,188.5 497.3,169.7 498.8,191 500.3,178.6 501.8,181 503.3,186 504.8,190 506.3,191.2 507.8,177.7 509.4,183.5 510.9,162.2 512.4,200.9 513.9,170.9 515.4,169.1 516.9,156.3 518.4,176.4 519.9,162 521.4,174.5 522.9,178.5 524.4,156.9 525.9,166.2 527.4,180.8"/>
<polyline fill="none" stroke="#2da02a" stroke-width="2.2" stroke-linejoin="round" stroke-linecap="round" points="95.7,215.1 97.2,178.8 98.7,138.4 100.2,173.1 101.7,216.1 103.2,139.2 104.7,138.3 106.2,173.4 107.8,172.1 109.3,181.5 110.8,177 112.3,215.3 113.8,212.9 115.3,150.6 116.8,142.8 118.3,206.9 119.8,187.5 121.3,123.2 122.8,215.9 124.3,151.9 125.8,206.9 127.3,179.8 128.8,184.7 130.3,135 131.8,179 133.3,168.5 134.8,172.4 136.3,213.2 137.8,185.1 139.3,127.9 140.8,124.8 142.3,214.1 143.9,215.4 145.4,178.2 146.9,201.2 148.4,191.8 149.9,165.9 151.4,147.1 152.9,178.3 154.4,152 155.9,169.2 157.4,155.4 158.9,181 160.4,153 161.9,215.2 163.4,183.2 164.9,189.7 166.4,152.9 167.9,182 169.4,213.8 170.9,181.1 172.4,212.2 173.9,159.6 175.4,149.5 176.9,213.9 178.4,195.7 180,121.8 181.5,187.3 183,151.3 184.5,186.4 186,216.8 187.5,215.8 189,175.8 190.5,184.1 192,172.3 193.5,213.1 195,145.2 196.5,171.3 198,148.1 199.5,165.4 201,135.4 202.5,134.9 204,160.8 205.5,216.6 207,200.4 208.5,215.2 210,185.6 211.5,216 213,155.7 214.5,215.5 216,214.4 217.6,180.2 219.1,176.6 220.6,171 222.1,197.3 223.6,153.3 225.1,122.6 226.6,177.4 228.1,216.4 229.6,176.2 231.1,215.9 232.6,170.4 234.1,212 235.6,216.6 237.1,179.5 238.6,175.4 240.1,182.6 241.6,172.8 243.1,194.1 244.6,195.2 246.1,169.1 247.6,196.7 249.1,132.5 250.6,216.1 252.1,205.4 253.7,149.4 255.2,155.3 256.7,153.2 258.2,145.7 259.7,215.9 261.2,214.1 262.7,191.6 264.2,127.5 265.7,171.6 267.2,184.7 268.7,189.5 270.2,214.7 271.7,167.2 273.2,203.2 274.7,197.6 276.2,141.5 277.7,216.8 279.2,138.7 280.7,169 282.2,213 283.7,144 285.2,193.8 286.7,155.8 288.2,215.1 289.8,197.6 291.3,156 292.8,144.7 294.3,167.5 295.8,170.9 297.3,200.6 298.8,172.9 300.3,185.4 301.8,127.9 303.3,134.6 304.8,182.5 306.3,216.3 307.8,168.9 309.3,179.9 310.8,176.9 312.3,130.8 313.8,182.2 315.3,175.1 316.8,178.5 318.3,166.2 319.8,189.7 321.3,143.7 322.8,131.5 324.3,144.1 325.8,148.6 327.4,155 328.9,148.6 330.4,134.9 331.9,169.1 333.4,179.3 334.9,183.7 336.4,178 337.9,128.7 339.4,153.3 340.9,171.7 342.4,214.3 343.9,181.4 345.4,214.1 346.9,184 348.4,212.4 349.9,185.1 351.4,146.8 352.9,182.5 354.4,152 355.9,175.7 357.4,216.7 358.9,148.6 360.4,166.7 361.9,132.8 363.5,185.4 365,168.2 366.5,215.2 368,125.4 369.5,174.6 371,178.4 372.5,180.3 374,181.6 375.5,215.2 377,172.4 378.5,178.5 380,213.6 381.5,182.8 383,192.1 384.5,173.2 386,122.6 387.5,162.5 389,187.9 390.5,159.8 392,121.1 393.5,177.5 395,165 396.5,198 398,176.8 399.6,153.5 401.1,125.3 402.6,148.2 404.1,168.8 405.6,189.4 407.1,121.9 408.6,157.8 410.1,168.7 411.6,183.7 413.1,192.3 414.6,185.7 416.1,178 417.6,203.9 419.1,175.6 420.6,180 422.1,215.7 423.6,206.9 425.1,192.1 426.6,216.1 428.1,215 429.6,176.5 431.1,214.8 432.6,189.3 434.1,171.2 435.6,215.8 437.2,183.6 438.7,187.4 440.2,215.2 441.7,216.8 443.2,186.1 444.7,162.3 446.2,187.9 447.7,180.3 449.2,187.8 450.7,177.1 452.2,153.3 453.7,183.9 455.2,190.3 456.7,175.9 458.2,142.8 459.7,199.1 461.2,152 462.7,121.4 464.2,156.9 465.7,149.5 467.2,128.2 468.7,176.3 470.2,187.2 471.7,195.3 473.3,216.8 474.8,181.4 476.3,194 477.8,149.8 479.3,140.7 480.8,158.5 482.3,217 483.8,212.4 485.3,206.9 486.8,177.6 488.3,119.9 489.8,188.2 491.3,197.1 492.8,164.6 494.3,214.4 495.8,217 497.3,215.8 498.8,185.7 500.3,158.5 501.8,212.2 503.3,171.1 504.8,174.5 506.3,180.3 507.8,202.6 509.4,213.4 510.9,194 512.4,216.7 513.9,174.3 515.4,214.3 516.9,133.3 518.4,182.1 519.9,136 521.4,216.6 522.9,184.6 524.4,171.8 525.9,180 527.4,213.7"/>
<circle cx="38.6" cy="399" r="9.1" fill="#1f78b4"/>
<text class="lg" x="57.56" y="408.3" textLength="147.81" lengthAdjust="spacingAndGlyphs">app1apacheeks</text>
<circle cx="232.3" cy="399" r="9.1" fill="#a6cee3"/>
<text class="lg" x="250.73" y="408.3" textLength="95.63" lengthAdjust="spacingAndGlyphs">appdev02</text>
<circle cx="372.3" cy="399" r="9.1" fill="#2da02a"/>
<text class="lg" x="390.41" y="408.3" textLength="114.2" lengthAdjust="spacingAndGlyphs">localapache</text>
</svg></section>
</div>
</body>
</html>
